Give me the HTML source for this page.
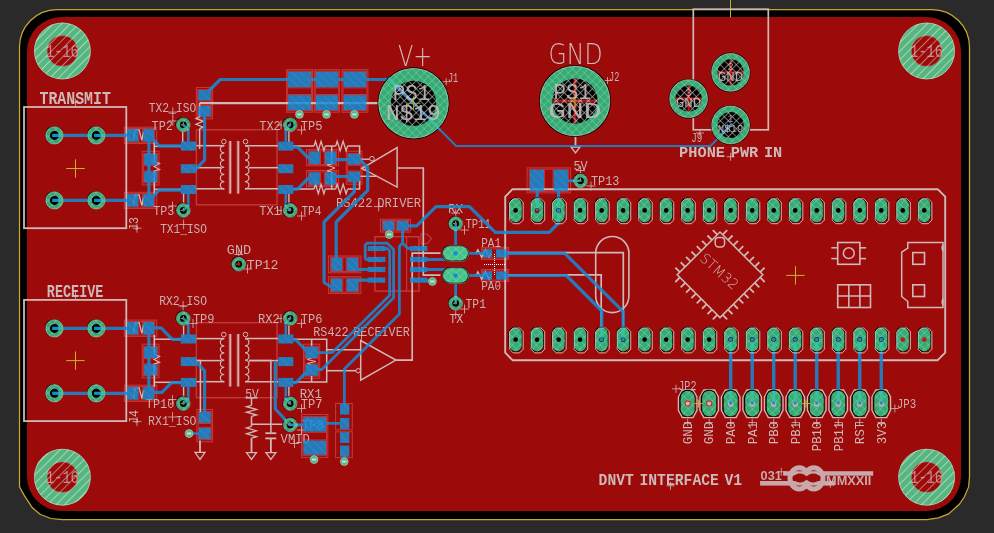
<!DOCTYPE html>
<html lang="en">
<head>
<meta charset="utf-8">
<title>DNVT Interface V1 - board view</title>
<style>
html,body{margin:0;padding:0;background:#2a2a2a;overflow:hidden}
body{width:994px;height:533px}
svg{display:block;will-change:transform}
text{white-space:pre}
</style>
</head>
<body>
<svg width="994" height="533" viewBox="0 0 994 533">
<defs>
<pattern id="hx" width="5.66" height="5.66" patternUnits="userSpaceOnUse" patternTransform="rotate(45)">
<path d="M0 0.5H5.66M0.5 0V5.66" stroke="#8fe0b8" stroke-width="0.8" fill="none" opacity="0.45"/>
</pattern>
<pattern id="hb" width="6" height="6" patternUnits="userSpaceOnUse" patternTransform="rotate(45)">
<path d="M0 0.5H6" stroke="#7cc4f0" stroke-width="0.8" fill="none" opacity="0.25"/>
</pattern>
<pattern id="hw" width="5.66" height="5.66" patternUnits="userSpaceOnUse" patternTransform="rotate(45)">
<path d="M0 0.5H5.66M0.5 0V5.66" stroke="#e4e8e6" stroke-width="0.8" fill="none" opacity="0.8"/>
</pattern>
<pattern id="hd" width="6" height="6" patternUnits="userSpaceOnUse" patternTransform="rotate(-45)">
<path d="M0 0.5H6" stroke="#e6efea" stroke-width="0.7" fill="none" opacity="0.8"/>
</pattern>
</defs>
<g id="base">
<rect x="0" y="0" width="994" height="533" fill="#2a2a2a" stroke="none" stroke-width="1"/>
<path d="M57 9.5H932A37.5 37.5 0 0 1 969.5 47V476.7L968.6 486.9L964.3 497L959.3 504.3L948.6 513.9L938.4 517.9L927 519.5H62.3L51.1 518.5L40.4 514.5L32.4 507.8L24.5 495.9L19.5 486.9V47A37.5 37.5 0 0 1 57 9.5Z" fill="#000" stroke="#c9a634" stroke-width="1.25"/>
<rect x="27" y="17" width="934" height="494" fill="#9c0a0a" stroke="none" stroke-width="1" rx="34.5"/>
<path d="M730.5 0 L730.5 17.5" fill="none" stroke="#b4b41e" stroke-width="1" stroke-linecap="butt" stroke-linejoin="miter"/>
</g>
<g id="lred">
<rect x="124.4" y="127.2" width="32.3" height="16.3" fill="none" stroke="#c03838" stroke-width="1.1"/>
<rect x="126.5" y="128.5" width="28.1" height="13.7" fill="none" stroke="#cf3030" stroke-width="1"/>
<path d="M138.9 129 L138.9 141.7" fill="none" stroke="#cf3030" stroke-width="1" stroke-linecap="butt" stroke-linejoin="miter"/>
<path d="M142.6 129 L142.6 141.7" fill="none" stroke="#cf3030" stroke-width="1" stroke-linecap="butt" stroke-linejoin="miter"/>
<rect x="124.4" y="192.3" width="32.3" height="16.2" fill="none" stroke="#c03838" stroke-width="1.1"/>
<rect x="126.5" y="193.6" width="28.1" height="13.6" fill="none" stroke="#cf3030" stroke-width="1"/>
<path d="M138.9 194.1 L138.9 206.7" fill="none" stroke="#cf3030" stroke-width="1" stroke-linecap="butt" stroke-linejoin="miter"/>
<path d="M142.6 194.1 L142.6 206.7" fill="none" stroke="#cf3030" stroke-width="1" stroke-linecap="butt" stroke-linejoin="miter"/>
<rect x="142.3" y="151.3" width="16.7" height="33.6" fill="none" stroke="#c03838" stroke-width="1.1"/>
<rect x="143.6" y="153.4" width="14.1" height="29.4" fill="none" stroke="#cf3030" stroke-width="1"/>
<path d="M144.1 165.8 L157.2 165.8" fill="none" stroke="#cf3030" stroke-width="1" stroke-linecap="butt" stroke-linejoin="miter"/>
<path d="M144.1 170.9 L157.2 170.9" fill="none" stroke="#cf3030" stroke-width="1" stroke-linecap="butt" stroke-linejoin="miter"/>
<rect x="196.4" y="129.8" width="80.6" height="75" fill="none" stroke="#c03838" stroke-width="1.4"/>
<rect x="124.4" y="320.1" width="32.3" height="16.3" fill="none" stroke="#c03838" stroke-width="1.1"/>
<rect x="126.5" y="321.4" width="28.1" height="13.7" fill="none" stroke="#cf3030" stroke-width="1"/>
<path d="M138.9 321.9 L138.9 334.6" fill="none" stroke="#cf3030" stroke-width="1" stroke-linecap="butt" stroke-linejoin="miter"/>
<path d="M142.6 321.9 L142.6 334.6" fill="none" stroke="#cf3030" stroke-width="1" stroke-linecap="butt" stroke-linejoin="miter"/>
<rect x="124.4" y="385.2" width="32.3" height="16.2" fill="none" stroke="#c03838" stroke-width="1.1"/>
<rect x="126.5" y="386.5" width="28.1" height="13.6" fill="none" stroke="#cf3030" stroke-width="1"/>
<path d="M138.9 387 L138.9 399.6" fill="none" stroke="#cf3030" stroke-width="1" stroke-linecap="butt" stroke-linejoin="miter"/>
<path d="M142.6 387 L142.6 399.6" fill="none" stroke="#cf3030" stroke-width="1" stroke-linecap="butt" stroke-linejoin="miter"/>
<rect x="142.3" y="344.2" width="16.7" height="33.6" fill="none" stroke="#c03838" stroke-width="1.1"/>
<rect x="143.6" y="346.3" width="14.1" height="29.4" fill="none" stroke="#cf3030" stroke-width="1"/>
<path d="M144.1 358.7 L157.2 358.7" fill="none" stroke="#cf3030" stroke-width="1" stroke-linecap="butt" stroke-linejoin="miter"/>
<path d="M144.1 363.8 L157.2 363.8" fill="none" stroke="#cf3030" stroke-width="1" stroke-linecap="butt" stroke-linejoin="miter"/>
<rect x="196.4" y="322.7" width="80.6" height="75" fill="none" stroke="#c03838" stroke-width="1.4"/>
<rect x="196.4" y="87.5" width="16.2" height="31.4" fill="none" stroke="#c03838" stroke-width="1.1"/>
<rect x="197.7" y="89.6" width="13.6" height="27.2" fill="none" stroke="#cf3030" stroke-width="1"/>
<path d="M198.2 101 L210.8 101" fill="none" stroke="#cf3030" stroke-width="1" stroke-linecap="butt" stroke-linejoin="miter"/>
<path d="M198.2 105.5 L210.8 105.5" fill="none" stroke="#cf3030" stroke-width="1" stroke-linecap="butt" stroke-linejoin="miter"/>
<rect x="286.6" y="69.7" width="25.9" height="42.5" fill="none" stroke="#c03838" stroke-width="1.1"/>
<rect x="287.6" y="71.2" width="23.9" height="39.5" fill="none" stroke="#cf3030" stroke-width="1"/>
<path d="M288.1 87.9 L311 87.9" fill="none" stroke="#cf3030" stroke-width="1" stroke-linecap="butt" stroke-linejoin="miter"/>
<path d="M288.1 94.5 L311 94.5" fill="none" stroke="#cf3030" stroke-width="1" stroke-linecap="butt" stroke-linejoin="miter"/>
<rect x="314.3" y="69.7" width="25.1" height="42.5" fill="none" stroke="#c03838" stroke-width="1.1"/>
<rect x="315.3" y="71.2" width="23.1" height="39.5" fill="none" stroke="#cf3030" stroke-width="1"/>
<path d="M315.8 87.9 L337.9 87.9" fill="none" stroke="#cf3030" stroke-width="1" stroke-linecap="butt" stroke-linejoin="miter"/>
<path d="M315.8 94.5 L337.9 94.5" fill="none" stroke="#cf3030" stroke-width="1" stroke-linecap="butt" stroke-linejoin="miter"/>
<rect x="342" y="69.7" width="25.9" height="42.5" fill="none" stroke="#c03838" stroke-width="1.1"/>
<rect x="343" y="71.2" width="23.9" height="39.5" fill="none" stroke="#cf3030" stroke-width="1"/>
<path d="M343.5 87.9 L366.4 87.9" fill="none" stroke="#cf3030" stroke-width="1" stroke-linecap="butt" stroke-linejoin="miter"/>
<path d="M343.5 94.5 L366.4 94.5" fill="none" stroke="#cf3030" stroke-width="1" stroke-linecap="butt" stroke-linejoin="miter"/>
<rect x="306.5" y="149.6" width="32.1" height="16.2" fill="none" stroke="#c03838" stroke-width="1.1"/>
<rect x="308.6" y="150.9" width="27.9" height="13.6" fill="none" stroke="#cf3030" stroke-width="1"/>
<path d="M320.5 151.4 L320.5 164" fill="none" stroke="#cf3030" stroke-width="1" stroke-linecap="butt" stroke-linejoin="miter"/>
<path d="M324.4 151.4 L324.4 164" fill="none" stroke="#cf3030" stroke-width="1" stroke-linecap="butt" stroke-linejoin="miter"/>
<rect x="306.5" y="170.5" width="32.1" height="16.1" fill="none" stroke="#c03838" stroke-width="1.1"/>
<rect x="308.6" y="171.8" width="27.9" height="13.5" fill="none" stroke="#cf3030" stroke-width="1"/>
<path d="M320.5 172.3 L320.5 184.8" fill="none" stroke="#cf3030" stroke-width="1" stroke-linecap="butt" stroke-linejoin="miter"/>
<path d="M324.4 172.3 L324.4 184.8" fill="none" stroke="#cf3030" stroke-width="1" stroke-linecap="butt" stroke-linejoin="miter"/>
<rect x="346.3" y="151.3" width="15.7" height="32.9" fill="none" stroke="#c03838" stroke-width="1.1"/>
<rect x="347.6" y="153.4" width="13.1" height="28.7" fill="none" stroke="#cf3030" stroke-width="1"/>
<path d="M348.1 165.3 L360.2 165.3" fill="none" stroke="#cf3030" stroke-width="1" stroke-linecap="butt" stroke-linejoin="miter"/>
<path d="M348.1 170.9 L360.2 170.9" fill="none" stroke="#cf3030" stroke-width="1" stroke-linecap="butt" stroke-linejoin="miter"/>
<rect x="374.9" y="236.7" width="44" height="54.4" fill="none" stroke="#c03838" stroke-width="1.5"/>
<path d="M406.6 236.7 L406.6 291.1" fill="none" stroke="#c03838" stroke-width="1.2" stroke-linecap="butt" stroke-linejoin="miter"/>
<polygon points="421,234 427,234 431.5,238.800 427,243.600 421,243.600" fill="none" stroke="#c03838" stroke-width="1.2"/>
<rect x="328.5" y="256" width="32.4" height="16.8" fill="none" stroke="#c03838" stroke-width="1.1"/>
<rect x="330.6" y="257.3" width="28.2" height="14.2" fill="none" stroke="#cf3030" stroke-width="1"/>
<path d="M342.8 257.8 L342.8 271" fill="none" stroke="#cf3030" stroke-width="1" stroke-linecap="butt" stroke-linejoin="miter"/>
<path d="M346.2 257.8 L346.2 271" fill="none" stroke="#cf3030" stroke-width="1" stroke-linecap="butt" stroke-linejoin="miter"/>
<rect x="328.5" y="276.7" width="32.4" height="16.7" fill="none" stroke="#c03838" stroke-width="1.1"/>
<rect x="330.6" y="278" width="28.2" height="14.1" fill="none" stroke="#cf3030" stroke-width="1"/>
<path d="M342.8 278.5 L342.8 291.6" fill="none" stroke="#cf3030" stroke-width="1" stroke-linecap="butt" stroke-linejoin="miter"/>
<path d="M346.2 278.5 L346.2 291.6" fill="none" stroke="#cf3030" stroke-width="1" stroke-linecap="butt" stroke-linejoin="miter"/>
<rect x="380.5" y="219.2" width="30.1" height="12.9" fill="none" stroke="#c03838" stroke-width="1.1"/>
<rect x="382.4" y="220.5" width="26.3" height="10.3" fill="none" stroke="#cf3030" stroke-width="1"/>
<path d="M394.8 221 L394.8 230.3" fill="none" stroke="#cf3030" stroke-width="1" stroke-linecap="butt" stroke-linejoin="miter"/>
<path d="M396.3 221 L396.3 230.3" fill="none" stroke="#cf3030" stroke-width="1" stroke-linecap="butt" stroke-linejoin="miter"/>
<rect x="481.4" y="247.4" width="27.2" height="12" fill="none" stroke="#c03838" stroke-width="1.1"/>
<rect x="482.5" y="248.8" width="25.2" height="9.2" fill="none" stroke="#cf3030" stroke-width="1"/>
<rect x="481.4" y="269.5" width="27.2" height="12" fill="none" stroke="#c03838" stroke-width="1.1"/>
<rect x="482.5" y="270.9" width="25.2" height="9.2" fill="none" stroke="#cf3030" stroke-width="1"/>
<rect x="527.1" y="167.9" width="43.4" height="25" fill="none" stroke="#c03838" stroke-width="1.1"/>
<rect x="529.2" y="169.2" width="39.2" height="22.4" fill="none" stroke="#cf3030" stroke-width="1"/>
<path d="M544.6 169.7 L544.6 191.1" fill="none" stroke="#cf3030" stroke-width="1" stroke-linecap="butt" stroke-linejoin="miter"/>
<path d="M553 169.7 L553 191.1" fill="none" stroke="#cf3030" stroke-width="1" stroke-linecap="butt" stroke-linejoin="miter"/>
<rect x="196.9" y="409.5" width="15.7" height="32.3" fill="none" stroke="#c03838" stroke-width="1.1"/>
<rect x="198.2" y="411.6" width="13.1" height="28.1" fill="none" stroke="#cf3030" stroke-width="1"/>
<path d="M198.7 423.5 L210.8 423.5" fill="none" stroke="#cf3030" stroke-width="1" stroke-linecap="butt" stroke-linejoin="miter"/>
<path d="M198.7 427.3 L210.8 427.3" fill="none" stroke="#cf3030" stroke-width="1" stroke-linecap="butt" stroke-linejoin="miter"/>
<rect x="303.5" y="344.2" width="16.2" height="34.1" fill="none" stroke="#c03838" stroke-width="1.1"/>
<rect x="304.8" y="346.3" width="13.6" height="29.9" fill="none" stroke="#cf3030" stroke-width="1"/>
<path d="M305.3 358.7 L317.9 358.7" fill="none" stroke="#cf3030" stroke-width="1" stroke-linecap="butt" stroke-linejoin="miter"/>
<path d="M305.3 363.8 L317.9 363.8" fill="none" stroke="#cf3030" stroke-width="1" stroke-linecap="butt" stroke-linejoin="miter"/>
<rect x="301.5" y="414.5" width="26.3" height="42.9" fill="none" stroke="#c03838" stroke-width="1.1"/>
<rect x="302.8" y="416.6" width="23.7" height="38.7" fill="none" stroke="#cf3030" stroke-width="1"/>
<path d="M303.3 432.3 L326 432.3" fill="none" stroke="#cf3030" stroke-width="1" stroke-linecap="butt" stroke-linejoin="miter"/>
<path d="M303.3 439.9 L326 439.9" fill="none" stroke="#cf3030" stroke-width="1" stroke-linecap="butt" stroke-linejoin="miter"/>
<rect x="335.6" y="403.5" width="16.7" height="26.3" fill="none" stroke="#c03838" stroke-width="1.1"/>
<rect x="335.6" y="431.8" width="16.7" height="25.8" fill="none" stroke="#c03838" stroke-width="1.1"/>
</g>
<g id="silk">
<polygon points="678.38,397 682.28,390 693.08,390 696.98,397 696.98,410.4 693.08,417.6 682.28,417.6 678.38,410.4" fill="none" stroke="#ceb9b9" stroke-width="1.3"/>
<polygon points="699.89,397 703.79,390 714.59,390 718.49,397 718.49,410.4 714.59,417.6 703.79,417.6 699.89,410.4" fill="none" stroke="#ceb9b9" stroke-width="1.3"/>
<polygon points="721.4,397 725.3,390 736.1,390 740,397 740,410.4 736.1,417.6 725.3,417.6 721.4,410.4" fill="none" stroke="#ceb9b9" stroke-width="1.3"/>
<polygon points="742.91,397 746.81,390 757.61,390 761.51,397 761.51,410.4 757.61,417.6 746.81,417.6 742.91,410.4" fill="none" stroke="#ceb9b9" stroke-width="1.3"/>
<polygon points="764.42,397 768.32,390 779.12,390 783.02,397 783.02,410.4 779.12,417.6 768.32,417.6 764.42,410.4" fill="none" stroke="#ceb9b9" stroke-width="1.3"/>
<polygon points="785.93,397 789.83,390 800.63,390 804.53,397 804.53,410.4 800.63,417.6 789.83,417.6 785.93,410.4" fill="none" stroke="#ceb9b9" stroke-width="1.3"/>
<polygon points="807.44,397 811.34,390 822.14,390 826.04,397 826.04,410.4 822.14,417.6 811.34,417.6 807.44,410.4" fill="none" stroke="#ceb9b9" stroke-width="1.3"/>
<polygon points="828.95,397 832.85,390 843.65,390 847.55,397 847.55,410.4 843.65,417.6 832.85,417.6 828.95,410.4" fill="none" stroke="#ceb9b9" stroke-width="1.3"/>
<polygon points="850.46,397 854.36,390 865.16,390 869.06,397 869.06,410.4 865.16,417.6 854.36,417.6 850.46,410.4" fill="none" stroke="#ceb9b9" stroke-width="1.3"/>
<polygon points="871.97,397 875.87,390 886.67,390 890.57,397 890.57,410.4 886.67,417.6 875.87,417.6 871.97,410.4" fill="none" stroke="#ceb9b9" stroke-width="1.3"/>
<rect x="24" y="107" width="102.3" height="121.2" fill="none" stroke="#ceb9b9" stroke-width="1.8"/>
<rect x="24" y="299.9" width="102.3" height="121.2" fill="none" stroke="#ceb9b9" stroke-width="1.8"/>
<rect x="693.3" y="9.2" width="75" height="120.6" fill="none" stroke="#ceb9b9" stroke-width="1.7"/>
<path d="M512.500 189.200H937.700L945.200 196.700V352.700L937.700 360.200H512.500L505.200 352.700V196.700Z" fill="none" stroke="#ceb9b9" stroke-width="1.9" stroke-linejoin="round"/>
<path d="M224.3 145.7 a3.95 3.59 0 0 0 0 7.18 a3.95 3.59 0 0 0 0 7.18 a3.95 3.59 0 0 0 0 7.18 a3.95 3.59 0 0 0 0 7.18 a3.95 3.59 0 0 0 0 7.18 a3.95 3.59 0 0 0 0 7.18" fill="none" stroke="#ceb9b9" stroke-width="1.2"/>
<path d="M245 145.7 a3.95 3.59 0 0 1 0 7.18 a3.95 3.59 0 0 1 0 7.18 a3.95 3.59 0 0 1 0 7.18 a3.95 3.59 0 0 1 0 7.18 a3.95 3.59 0 0 1 0 7.18 a3.95 3.59 0 0 1 0 7.18" fill="none" stroke="#ceb9b9" stroke-width="1.2"/>
<circle cx="223.8" cy="141.6" r="2.3" fill="none" stroke="#ceb9b9" stroke-width="1"/>
<circle cx="245.5" cy="141.6" r="2.3" fill="none" stroke="#ceb9b9" stroke-width="1"/>
<path d="M230.2 141 L230.2 193.6" fill="none" stroke="#b44" stroke-width="3.4" stroke-linecap="butt" stroke-linejoin="miter"/>
<path d="M230.2 141 L230.2 193.6" fill="none" stroke="#ceb9b9" stroke-width="1.5" stroke-linecap="butt" stroke-linejoin="miter"/>
<path d="M238.2 141 L238.2 193.6" fill="none" stroke="#b44" stroke-width="3.4" stroke-linecap="butt" stroke-linejoin="miter"/>
<path d="M238.2 141 L238.2 193.6" fill="none" stroke="#ceb9b9" stroke-width="1.5" stroke-linecap="butt" stroke-linejoin="miter"/>
<path d="M196.5 145.7 L224.3 145.7" fill="none" stroke="#ceb9b9" stroke-width="1.54" stroke-linecap="butt" stroke-linejoin="miter"/>
<path d="M245 145.7 L278 145.7" fill="none" stroke="#ceb9b9" stroke-width="1.54" stroke-linecap="butt" stroke-linejoin="miter"/>
<path d="M196.5 167.7 L221 167.7" fill="none" stroke="#ceb9b9" stroke-width="1.54" stroke-linecap="butt" stroke-linejoin="miter"/>
<path d="M249 167.7 L278 167.7" fill="none" stroke="#ceb9b9" stroke-width="1.54" stroke-linecap="butt" stroke-linejoin="miter"/>
<path d="M196.5 188.8 L224.3 188.8" fill="none" stroke="#ceb9b9" stroke-width="1.54" stroke-linecap="butt" stroke-linejoin="miter"/>
<path d="M245 188.8 L278 188.8" fill="none" stroke="#ceb9b9" stroke-width="1.54" stroke-linecap="butt" stroke-linejoin="miter"/>
<path d="M133.6 140.4 L135.2 129.8 L139.2 129.8 L141.8 140.4 L143.6 132.2" fill="none" stroke="#ceb9b9" stroke-width="1.3" stroke-linecap="butt" stroke-linejoin="miter"/>
<path d="M133.6 205.6 L135.2 195 L139.2 195 L141.8 205.6 L143.6 197.4" fill="none" stroke="#ceb9b9" stroke-width="1.3" stroke-linecap="butt" stroke-linejoin="miter"/>
<path d="M154.3 146.3 L181 146.3" fill="none" stroke="#ceb9b9" stroke-width="1.54" stroke-linecap="butt" stroke-linejoin="miter"/>
<path d="M154.3 189.4 L181 189.4" fill="none" stroke="#ceb9b9" stroke-width="1.54" stroke-linecap="butt" stroke-linejoin="miter"/>
<path d="M154.3 142 L154.3 161.8" fill="none" stroke="#ceb9b9" stroke-width="1.68" stroke-linecap="butt" stroke-linejoin="miter"/>
<path d="M154.3 161.8 L159.6 163.5 L154 166.5 L159.6 169.5 L154.3 171" fill="none" stroke="#ceb9b9" stroke-width="1.1" stroke-linecap="butt" stroke-linejoin="miter"/>
<path d="M154.3 171 L154.3 194" fill="none" stroke="#ceb9b9" stroke-width="1.68" stroke-linecap="butt" stroke-linejoin="miter"/>
<path d="M224.3 338.6 a3.95 3.59 0 0 0 0 7.18 a3.95 3.59 0 0 0 0 7.18 a3.95 3.59 0 0 0 0 7.18 a3.95 3.59 0 0 0 0 7.18 a3.95 3.59 0 0 0 0 7.18 a3.95 3.59 0 0 0 0 7.18" fill="none" stroke="#ceb9b9" stroke-width="1.2"/>
<path d="M245 338.6 a3.95 3.59 0 0 1 0 7.18 a3.95 3.59 0 0 1 0 7.18 a3.95 3.59 0 0 1 0 7.18 a3.95 3.59 0 0 1 0 7.18 a3.95 3.59 0 0 1 0 7.18 a3.95 3.59 0 0 1 0 7.18" fill="none" stroke="#ceb9b9" stroke-width="1.2"/>
<circle cx="223.8" cy="334.5" r="2.3" fill="none" stroke="#ceb9b9" stroke-width="1"/>
<circle cx="245.5" cy="334.5" r="2.3" fill="none" stroke="#ceb9b9" stroke-width="1"/>
<path d="M230.2 333.9 L230.2 386.5" fill="none" stroke="#b44" stroke-width="3.4" stroke-linecap="butt" stroke-linejoin="miter"/>
<path d="M230.2 333.9 L230.2 386.5" fill="none" stroke="#ceb9b9" stroke-width="1.5" stroke-linecap="butt" stroke-linejoin="miter"/>
<path d="M238.2 333.9 L238.2 386.5" fill="none" stroke="#b44" stroke-width="3.4" stroke-linecap="butt" stroke-linejoin="miter"/>
<path d="M238.2 333.9 L238.2 386.5" fill="none" stroke="#ceb9b9" stroke-width="1.5" stroke-linecap="butt" stroke-linejoin="miter"/>
<path d="M196.5 338.6 L224.3 338.6" fill="none" stroke="#ceb9b9" stroke-width="1.54" stroke-linecap="butt" stroke-linejoin="miter"/>
<path d="M245 338.6 L278 338.6" fill="none" stroke="#ceb9b9" stroke-width="1.54" stroke-linecap="butt" stroke-linejoin="miter"/>
<path d="M196.5 360.6 L221 360.6" fill="none" stroke="#ceb9b9" stroke-width="1.54" stroke-linecap="butt" stroke-linejoin="miter"/>
<path d="M249 360.6 L278 360.6" fill="none" stroke="#ceb9b9" stroke-width="1.54" stroke-linecap="butt" stroke-linejoin="miter"/>
<path d="M196.5 381.7 L224.3 381.7" fill="none" stroke="#ceb9b9" stroke-width="1.54" stroke-linecap="butt" stroke-linejoin="miter"/>
<path d="M245 381.7 L278 381.7" fill="none" stroke="#ceb9b9" stroke-width="1.54" stroke-linecap="butt" stroke-linejoin="miter"/>
<path d="M133.6 333.3 L135.2 322.7 L139.2 322.7 L141.8 333.3 L143.6 325.1" fill="none" stroke="#ceb9b9" stroke-width="1.3" stroke-linecap="butt" stroke-linejoin="miter"/>
<path d="M133.6 398.5 L135.2 387.9 L139.2 387.9 L141.8 398.5 L143.6 390.3" fill="none" stroke="#ceb9b9" stroke-width="1.3" stroke-linecap="butt" stroke-linejoin="miter"/>
<path d="M154.3 339.2 L181 339.2" fill="none" stroke="#ceb9b9" stroke-width="1.54" stroke-linecap="butt" stroke-linejoin="miter"/>
<path d="M154.3 382.3 L181 382.3" fill="none" stroke="#ceb9b9" stroke-width="1.54" stroke-linecap="butt" stroke-linejoin="miter"/>
<path d="M154.3 334.9 L154.3 354.7" fill="none" stroke="#ceb9b9" stroke-width="1.68" stroke-linecap="butt" stroke-linejoin="miter"/>
<path d="M154.3 354.7 L159.6 356.4 L154 359.4 L159.6 362.4 L154.3 363.9" fill="none" stroke="#ceb9b9" stroke-width="1.1" stroke-linecap="butt" stroke-linejoin="miter"/>
<path d="M154.3 363.9 L154.3 386.9" fill="none" stroke="#ceb9b9" stroke-width="1.68" stroke-linecap="butt" stroke-linejoin="miter"/>
<path d="M199.6 103.1 L381 103.1" fill="none" stroke="#ceb9b9" stroke-width="2.1" stroke-linecap="butt" stroke-linejoin="miter"/>
<path d="M199.6 103 L199.6 117" fill="none" stroke="#ceb9b9" stroke-width="1.54" stroke-linecap="butt" stroke-linejoin="miter"/>
<path d="M199.6 117 L196 118.45 L203.2 121.35 L196 124.25 L203.2 127.15 L199.6 128.6" fill="none" stroke="#ceb9b9" stroke-width="1.3" stroke-linecap="butt" stroke-linejoin="miter"/>
<path d="M199.6 128.6 L199.6 149" fill="none" stroke="#ceb9b9" stroke-width="1.54" stroke-linecap="butt" stroke-linejoin="miter"/>
<path d="M182.7 132 L182.7 142" fill="none" stroke="#ceb9b9" stroke-width="1.4" stroke-linecap="butt" stroke-linejoin="miter"/>
<path d="M183.6 194 L183.6 204" fill="none" stroke="#ceb9b9" stroke-width="1.4" stroke-linecap="butt" stroke-linejoin="miter"/>
<path d="M288.9 130 L288.9 142" fill="none" stroke="#ceb9b9" stroke-width="1.4" stroke-linecap="butt" stroke-linejoin="miter"/>
<path d="M288.9 194 L288.9 204" fill="none" stroke="#ceb9b9" stroke-width="1.4" stroke-linecap="butt" stroke-linejoin="miter"/>
<path d="M293 146 L314.1 146" fill="none" stroke="#ceb9b9" stroke-width="1.54" stroke-linecap="butt" stroke-linejoin="miter"/>
<path d="M314.1 146 L315.5 141.2 L318.3 150.8 L321.1 141.2 L323.9 150.8 L325.3 146" fill="none" stroke="#ceb9b9" stroke-width="1.3" stroke-linecap="butt" stroke-linejoin="miter"/>
<path d="M325.3 146 L335.7 146" fill="none" stroke="#ceb9b9" stroke-width="1.54" stroke-linecap="butt" stroke-linejoin="miter"/>
<path d="M335.7 146 L337.19 141.2 L340.16 150.8 L343.14 141.2 L346.11 150.8 L347.6 146" fill="none" stroke="#ceb9b9" stroke-width="1.3" stroke-linecap="butt" stroke-linejoin="miter"/>
<path d="M347.6 146 L359.6 146 L359.6 154" fill="none" stroke="#ceb9b9" stroke-width="1.54" stroke-linecap="butt" stroke-linejoin="miter"/>
<path d="M293 189 L314.1 189" fill="none" stroke="#ceb9b9" stroke-width="1.54" stroke-linecap="butt" stroke-linejoin="miter"/>
<path d="M314.1 189 L315.5 184.2 L318.3 193.8 L321.1 184.2 L323.9 193.8 L325.3 189" fill="none" stroke="#ceb9b9" stroke-width="1.3" stroke-linecap="butt" stroke-linejoin="miter"/>
<path d="M325.3 189 L335.7 189" fill="none" stroke="#ceb9b9" stroke-width="1.54" stroke-linecap="butt" stroke-linejoin="miter"/>
<path d="M335.7 189 L337.19 184.2 L340.16 193.8 L343.14 184.2 L346.11 193.8 L347.6 189" fill="none" stroke="#ceb9b9" stroke-width="1.3" stroke-linecap="butt" stroke-linejoin="miter"/>
<path d="M347.6 189 L359.6 189 L359.6 181" fill="none" stroke="#ceb9b9" stroke-width="1.54" stroke-linecap="butt" stroke-linejoin="miter"/>
<path d="M331.7 146 L331.7 164" fill="none" stroke="#ceb9b9" stroke-width="1.54" stroke-linecap="butt" stroke-linejoin="miter"/>
<path d="M331.7 164 L327 165 L335 168 L327 171 L331.7 172" fill="none" stroke="#ceb9b9" stroke-width="1" stroke-linecap="butt" stroke-linejoin="miter"/>
<path d="M331.7 172 L331.7 189" fill="none" stroke="#ceb9b9" stroke-width="1.54" stroke-linecap="butt" stroke-linejoin="miter"/>
<polygon points="362,168.3 397.1,147.5 397.1,187.1" fill="none" stroke="#ceb9b9" stroke-width="1.5"/>
<circle cx="372" cy="158.7" r="2.3" fill="none" stroke="#ceb9b9" stroke-width="1"/>
<circle cx="363.8" cy="168.3" r="1.8" fill="none" stroke="#ceb9b9" stroke-width="0.9"/>
<path d="M360.5 159.2 L369.7 159.2" fill="none" stroke="#ceb9b9" stroke-width="1.4" stroke-linecap="butt" stroke-linejoin="miter"/>
<path d="M360.5 176.3 L376.3 176.3" fill="none" stroke="#ceb9b9" stroke-width="1.4" stroke-linecap="butt" stroke-linejoin="miter"/>
<path d="M397.1 168 L423.3 168 L423.3 275.2 L440.5 275.2" fill="none" stroke="#ceb9b9" stroke-width="1.68" stroke-linecap="butt" stroke-linejoin="miter"/>
<path d="M293 339.2 L326.7 339.2 L326.7 382 L293 382" fill="none" stroke="#ceb9b9" stroke-width="1.54" stroke-linecap="butt" stroke-linejoin="miter"/>
<path d="M311.6 339.2 L311.6 346" fill="none" stroke="#ceb9b9" stroke-width="1.54" stroke-linecap="butt" stroke-linejoin="miter"/>
<path d="M311.6 376 L311.6 382" fill="none" stroke="#ceb9b9" stroke-width="1.54" stroke-linecap="butt" stroke-linejoin="miter"/>
<path d="M311.6 358 L307 359.5 L316 361.5 L307 363.5 L311.6 365" fill="none" stroke="#ceb9b9" stroke-width="1" stroke-linecap="butt" stroke-linejoin="miter"/>
<path d="M326.7 349.8 L360.7 349.8" fill="none" stroke="#ceb9b9" stroke-width="1.54" stroke-linecap="butt" stroke-linejoin="miter"/>
<path d="M326.7 370.7 L356 370.7" fill="none" stroke="#ceb9b9" stroke-width="1.54" stroke-linecap="butt" stroke-linejoin="miter"/>
<polygon points="360.7,340.5 360.7,380.2 395.9,360.1" fill="none" stroke="#ceb9b9" stroke-width="1.5"/>
<circle cx="358.2" cy="370.7" r="2.2" fill="none" stroke="#ceb9b9" stroke-width="1"/>
<path d="M395.9 360.1 L412.2 360.1 L412.2 253.1 L440.5 253.1" fill="none" stroke="#ceb9b9" stroke-width="1.68" stroke-linecap="butt" stroke-linejoin="miter"/>
<path d="M183.6 322 L183.6 335" fill="none" stroke="#ceb9b9" stroke-width="1.4" stroke-linecap="butt" stroke-linejoin="miter"/>
<path d="M183.6 387 L183.6 398" fill="none" stroke="#ceb9b9" stroke-width="1.4" stroke-linecap="butt" stroke-linejoin="miter"/>
<path d="M288.9 323 L288.9 335" fill="none" stroke="#ceb9b9" stroke-width="1.4" stroke-linecap="butt" stroke-linejoin="miter"/>
<path d="M288.9 387 L288.9 398" fill="none" stroke="#ceb9b9" stroke-width="1.4" stroke-linecap="butt" stroke-linejoin="miter"/>
<path d="M196.5 360.6 L200.4 360.6 L200.4 412" fill="none" stroke="#ceb9b9" stroke-width="1.54" stroke-linecap="butt" stroke-linejoin="miter"/>
<path d="M200 440.5 L200 452.3" fill="none" stroke="#ceb9b9" stroke-width="1.82" stroke-linecap="butt" stroke-linejoin="miter"/>
<polygon points="195,452.3 205,452.3 200,459.3" fill="none" stroke="#ceb9b9" stroke-width="1.3"/>
<path d="M249 360.6 L270.9 360.6 L270.9 424.2" fill="none" stroke="#ceb9b9" stroke-width="1.54" stroke-linecap="butt" stroke-linejoin="miter"/>
<path d="M245.5 397.8 L257.5 397.8" fill="none" stroke="#ceb9b9" stroke-width="1.54" stroke-linecap="butt" stroke-linejoin="miter"/>
<path d="M251.5 397.8 L251.5 405.3" fill="none" stroke="#ceb9b9" stroke-width="1.54" stroke-linecap="butt" stroke-linejoin="miter"/>
<path d="M251.5 405.3 L246.5 406.68 L256.5 409.43 L246.5 412.18 L256.5 414.93 L251.5 416.3" fill="none" stroke="#ceb9b9" stroke-width="1.3" stroke-linecap="butt" stroke-linejoin="miter"/>
<path d="M251.5 416.3 L251.5 426.4" fill="none" stroke="#ceb9b9" stroke-width="1.54" stroke-linecap="butt" stroke-linejoin="miter"/>
<path d="M251.5 424.2 L284 424.2" fill="none" stroke="#ceb9b9" stroke-width="1.54" stroke-linecap="butt" stroke-linejoin="miter"/>
<path d="M251.5 426.4 L246.5 427.88 L256.5 430.82 L246.5 433.77 L256.5 436.72 L251.5 438.2" fill="none" stroke="#ceb9b9" stroke-width="1.3" stroke-linecap="butt" stroke-linejoin="miter"/>
<path d="M251.5 438.2 L251.5 452.6" fill="none" stroke="#ceb9b9" stroke-width="1.82" stroke-linecap="butt" stroke-linejoin="miter"/>
<polygon points="246.5,452.6 256.5,452.6 251.5,459.4" fill="none" stroke="#ceb9b9" stroke-width="1.3"/>
<path d="M270.9 424.2 L270.9 432.6" fill="none" stroke="#ceb9b9" stroke-width="1.54" stroke-linecap="butt" stroke-linejoin="miter"/>
<path d="M265.3 433.2 L276.3 433.2" fill="none" stroke="#ceb9b9" stroke-width="1.82" stroke-linecap="butt" stroke-linejoin="miter"/>
<path d="M265.3 438.4 L276.3 438.4" fill="none" stroke="#ceb9b9" stroke-width="1.82" stroke-linecap="butt" stroke-linejoin="miter"/>
<path d="M270.9 439 L270.9 452.6" fill="none" stroke="#ceb9b9" stroke-width="1.82" stroke-linecap="butt" stroke-linejoin="miter"/>
<polygon points="265.9,452.6 275.9,452.6 270.9,459.4" fill="none" stroke="#ceb9b9" stroke-width="1.3"/>
<path d="M575.5 137 L575.5 147" fill="none" stroke="#ceb9b9" stroke-width="1.82" stroke-linecap="butt" stroke-linejoin="miter"/>
<polygon points="570.9,147 580.1,147 575.5,153" fill="none" stroke="#ceb9b9" stroke-width="1.3"/>
<path d="M476 253.4 L477.88 249.6 L481.62 257.2 L485.38 249.6 L489.12 257.2 L491 253.4" fill="none" stroke="#ceb9b9" stroke-width="1.3" stroke-linecap="butt" stroke-linejoin="miter"/>
<path d="M476 275.5 L477.88 271.7 L481.62 279.3 L485.38 271.7 L489.12 279.3 L491 275.5" fill="none" stroke="#ceb9b9" stroke-width="1.3" stroke-linecap="butt" stroke-linejoin="miter"/>
<rect x="595.7" y="236.5" width="33.2" height="76.1" fill="none" stroke="#ceb9b9" stroke-width="1.6" rx="16.6"/>
<path d="M508 252.7 L623.3 252.7 L623.3 327" fill="none" stroke="#ceb9b9" stroke-width="1.68" stroke-linecap="butt" stroke-linejoin="miter"/>
<path d="M508 274.8 L601.2 274.8 L601.2 327" fill="none" stroke="#ceb9b9" stroke-width="1.68" stroke-linecap="butt" stroke-linejoin="miter"/>
<polygon points="720,232 762.8,274.8 720,317.6 677.2,274.8" fill="none" stroke="#ceb9b9" stroke-width="1.5"/>
<path d="M722.67 234.68 L727.2 230.15" fill="none" stroke="#ceb9b9" stroke-width="1.8" stroke-linecap="butt" stroke-linejoin="miter"/>
<path d="M728.02 240.03 L732.55 235.5" fill="none" stroke="#ceb9b9" stroke-width="1.8" stroke-linecap="butt" stroke-linejoin="miter"/>
<path d="M733.38 245.38 L737.9 240.85" fill="none" stroke="#ceb9b9" stroke-width="1.8" stroke-linecap="butt" stroke-linejoin="miter"/>
<path d="M738.73 250.72 L743.25 246.2" fill="none" stroke="#ceb9b9" stroke-width="1.8" stroke-linecap="butt" stroke-linejoin="miter"/>
<path d="M744.07 256.07 L748.6 251.55" fill="none" stroke="#ceb9b9" stroke-width="1.8" stroke-linecap="butt" stroke-linejoin="miter"/>
<path d="M749.42 261.43 L753.95 256.9" fill="none" stroke="#ceb9b9" stroke-width="1.8" stroke-linecap="butt" stroke-linejoin="miter"/>
<path d="M754.77 266.77 L759.3 262.25" fill="none" stroke="#ceb9b9" stroke-width="1.8" stroke-linecap="butt" stroke-linejoin="miter"/>
<path d="M760.12 272.12 L764.65 267.6" fill="none" stroke="#ceb9b9" stroke-width="1.8" stroke-linecap="butt" stroke-linejoin="miter"/>
<path d="M760.12 277.48 L764.65 282" fill="none" stroke="#ceb9b9" stroke-width="1.8" stroke-linecap="butt" stroke-linejoin="miter"/>
<path d="M754.77 282.82 L759.3 287.35" fill="none" stroke="#ceb9b9" stroke-width="1.8" stroke-linecap="butt" stroke-linejoin="miter"/>
<path d="M749.42 288.18 L753.95 292.7" fill="none" stroke="#ceb9b9" stroke-width="1.8" stroke-linecap="butt" stroke-linejoin="miter"/>
<path d="M744.07 293.53 L748.6 298.05" fill="none" stroke="#ceb9b9" stroke-width="1.8" stroke-linecap="butt" stroke-linejoin="miter"/>
<path d="M738.73 298.88 L743.25 303.4" fill="none" stroke="#ceb9b9" stroke-width="1.8" stroke-linecap="butt" stroke-linejoin="miter"/>
<path d="M733.38 304.23 L737.9 308.75" fill="none" stroke="#ceb9b9" stroke-width="1.8" stroke-linecap="butt" stroke-linejoin="miter"/>
<path d="M728.02 309.58 L732.55 314.1" fill="none" stroke="#ceb9b9" stroke-width="1.8" stroke-linecap="butt" stroke-linejoin="miter"/>
<path d="M722.67 314.93 L727.2 319.45" fill="none" stroke="#ceb9b9" stroke-width="1.8" stroke-linecap="butt" stroke-linejoin="miter"/>
<path d="M717.33 314.93 L712.8 319.45" fill="none" stroke="#ceb9b9" stroke-width="1.8" stroke-linecap="butt" stroke-linejoin="miter"/>
<path d="M711.98 309.58 L707.45 314.1" fill="none" stroke="#ceb9b9" stroke-width="1.8" stroke-linecap="butt" stroke-linejoin="miter"/>
<path d="M706.62 304.23 L702.1 308.75" fill="none" stroke="#ceb9b9" stroke-width="1.8" stroke-linecap="butt" stroke-linejoin="miter"/>
<path d="M701.27 298.88 L696.75 303.4" fill="none" stroke="#ceb9b9" stroke-width="1.8" stroke-linecap="butt" stroke-linejoin="miter"/>
<path d="M695.93 293.53 L691.4 298.05" fill="none" stroke="#ceb9b9" stroke-width="1.8" stroke-linecap="butt" stroke-linejoin="miter"/>
<path d="M690.58 288.18 L686.05 292.7" fill="none" stroke="#ceb9b9" stroke-width="1.8" stroke-linecap="butt" stroke-linejoin="miter"/>
<path d="M685.23 282.83 L680.7 287.35" fill="none" stroke="#ceb9b9" stroke-width="1.8" stroke-linecap="butt" stroke-linejoin="miter"/>
<path d="M679.88 277.48 L675.35 282" fill="none" stroke="#ceb9b9" stroke-width="1.8" stroke-linecap="butt" stroke-linejoin="miter"/>
<path d="M679.88 272.12 L675.35 267.6" fill="none" stroke="#ceb9b9" stroke-width="1.8" stroke-linecap="butt" stroke-linejoin="miter"/>
<path d="M685.23 266.78 L680.7 262.25" fill="none" stroke="#ceb9b9" stroke-width="1.8" stroke-linecap="butt" stroke-linejoin="miter"/>
<path d="M690.58 261.43 L686.05 256.9" fill="none" stroke="#ceb9b9" stroke-width="1.8" stroke-linecap="butt" stroke-linejoin="miter"/>
<path d="M695.93 256.07 L691.4 251.55" fill="none" stroke="#ceb9b9" stroke-width="1.8" stroke-linecap="butt" stroke-linejoin="miter"/>
<path d="M701.27 250.72 L696.75 246.2" fill="none" stroke="#ceb9b9" stroke-width="1.8" stroke-linecap="butt" stroke-linejoin="miter"/>
<path d="M706.62 245.38 L702.1 240.85" fill="none" stroke="#ceb9b9" stroke-width="1.8" stroke-linecap="butt" stroke-linejoin="miter"/>
<path d="M711.98 240.03 L707.45 235.5" fill="none" stroke="#ceb9b9" stroke-width="1.8" stroke-linecap="butt" stroke-linejoin="miter"/>
<path d="M717.33 234.68 L712.8 230.15" fill="none" stroke="#ceb9b9" stroke-width="1.8" stroke-linecap="butt" stroke-linejoin="miter"/>
<rect x="715.2" y="237.4" width="9.4" height="9.6" fill="none" stroke="#ceb9b9" stroke-width="1.5" rx="3.4"/>
<rect x="837.7" y="242.5" width="22.2" height="21.8" fill="none" stroke="#ceb9b9" stroke-width="1.6"/>
<circle cx="848.8" cy="253.2" r="5.4" fill="none" stroke="#ceb9b9" stroke-width="1.5"/>
<path d="M831.3 247.8 L837.7 247.8" fill="none" stroke="#ceb9b9" stroke-width="1.54" stroke-linecap="butt" stroke-linejoin="miter"/>
<path d="M859.9 247.8 L866.1 247.8" fill="none" stroke="#ceb9b9" stroke-width="1.54" stroke-linecap="butt" stroke-linejoin="miter"/>
<path d="M831.3 258.6 L837.7 258.6" fill="none" stroke="#ceb9b9" stroke-width="1.54" stroke-linecap="butt" stroke-linejoin="miter"/>
<path d="M859.9 258.6 L866.1 258.6" fill="none" stroke="#ceb9b9" stroke-width="1.54" stroke-linecap="butt" stroke-linejoin="miter"/>
<rect x="837.7" y="284.8" width="32.8" height="22.7" fill="none" stroke="#ceb9b9" stroke-width="1.6"/>
<path d="M848.8 284.8 L848.8 307.5" fill="none" stroke="#ceb9b9" stroke-width="1.54" stroke-linecap="butt" stroke-linejoin="miter"/>
<path d="M859.9 284.8 L859.9 307.5" fill="none" stroke="#ceb9b9" stroke-width="1.54" stroke-linecap="butt" stroke-linejoin="miter"/>
<path d="M837.7 296.1 L870.5 296.1" fill="none" stroke="#ceb9b9" stroke-width="1.54" stroke-linecap="butt" stroke-linejoin="miter"/>
<polygon points="907.8,242.5 943,242.5 943,307.5 907.8,307.5 907.8,301.5 901.7,296.5 901.7,252.2 907.8,248.2" fill="none" stroke="#ceb9b9" stroke-width="1.5"/>
<rect x="912.8" y="252.6" width="11.7" height="11.7" fill="none" stroke="#ceb9b9" stroke-width="1.6"/>
<rect x="912.8" y="284.8" width="11.7" height="11.7" fill="none" stroke="#ceb9b9" stroke-width="1.6"/>
<path d="M943.6 244.5a2.2 3.4 0 0 0 0 6.8M943.6 298.6a2.2 3.4 0 0 0 0 6.8" fill="#ceb9b9" stroke="none"/>
<rect x="783.1" y="471.2" width="90.1" height="4.5" fill="#c7a9ab" stroke="none" stroke-width="1"/>
<rect x="760.1" y="481" width="74.4" height="4.6" fill="#c7a9ab" stroke="none" stroke-width="1"/>
<ellipse cx="799.2" cy="478.3" rx="9.2" ry="10.6" fill="none" stroke="#c7a9ab" stroke-width="5"/>
<ellipse cx="813.8" cy="478.3" rx="9.2" ry="10.6" fill="none" stroke="#c7a9ab" stroke-width="5"/>
<path d="M792.5 478c2-4 7-5.6 11.5-3.4l2.6 1.6 2.6-1.6c4.5-2.2 9.5-0.600 11.500 3.4c-2 4-7 5.6-11.500 3.4l-2.600-1.600-2.600 1.600c-4.500 2.200-9.500 0.600-11.500-3.400z" fill="#9c0a0a"/>
</g>
<g id="stext">
<text x="39.5" y="103.8" font-family='"Liberation Mono", monospace' font-size="17.6" font-weight="bold" fill="#ceb9b9" text-anchor="start" textLength="71.4" lengthAdjust="spacingAndGlyphs">TRANSMIT</text>
<text x="46.8" y="297.2" font-family='"Liberation Mono", monospace' font-size="17.6" font-weight="bold" fill="#ceb9b9" text-anchor="start" textLength="56.6" lengthAdjust="spacingAndGlyphs">RECEIVE</text>
<text x="679.1" y="157.1" font-family='"Liberation Mono", monospace' font-size="15.2" font-weight="bold" fill="#ceb9b9" text-anchor="start" textLength="103.2" lengthAdjust="spacingAndGlyphs" word-spacing="-3.5">PHONE PWR IN</text>
<text x="598.6" y="485" font-family='"Liberation Mono", monospace' font-size="15.6" font-weight="bold" fill="#ceb9b9" text-anchor="start" textLength="143.5" lengthAdjust="spacingAndGlyphs" word-spacing="-3.5">DNVT INTERFACE V1</text>
<text x="398" y="65.9" font-family='"DejaVu Sans Light", "DejaVu Sans", "Liberation Sans", sans-serif' font-size="28.6" font-weight="normal" fill="#ceb9b9" text-anchor="start" textLength="34.2" lengthAdjust="spacingAndGlyphs">V+</text>
<text x="548.6" y="64.2" font-family='"DejaVu Sans Light", "DejaVu Sans", "Liberation Sans", sans-serif' font-size="28.2" font-weight="normal" fill="#ceb9b9" text-anchor="start" textLength="54" lengthAdjust="spacingAndGlyphs">GND</text>
<text x="447.9" y="81.7" font-family='"Liberation Mono", monospace' font-size="12.2" font-weight="normal" fill="#c9b1b1" text-anchor="start" textLength="10.4" lengthAdjust="spacingAndGlyphs">J1</text>
<path d="M442.7 81.7 L449.7 81.7" fill="none" stroke="#ceb9b9" stroke-width="0.8" stroke-linecap="butt" stroke-linejoin="miter"/>
<path d="M446.2 78.2 L446.2 85.2" fill="none" stroke="#ceb9b9" stroke-width="0.8" stroke-linecap="butt" stroke-linejoin="miter"/>
<text x="609.1" y="80.5" font-family='"Liberation Mono", monospace' font-size="12.2" font-weight="normal" fill="#c9b1b1" text-anchor="start" textLength="10.4" lengthAdjust="spacingAndGlyphs">J2</text>
<path d="M604 80.5 L611 80.5" fill="none" stroke="#ceb9b9" stroke-width="0.8" stroke-linecap="butt" stroke-linejoin="miter"/>
<path d="M607.5 77 L607.5 84" fill="none" stroke="#ceb9b9" stroke-width="0.8" stroke-linecap="butt" stroke-linejoin="miter"/>
<text x="691.2" y="141.5" font-family='"Liberation Mono", monospace' font-size="12.2" font-weight="normal" fill="#c9b1b1" text-anchor="start" textLength="11.1" lengthAdjust="spacingAndGlyphs">J9</text>
<path d="M696 133 L704 133" fill="none" stroke="#ceb9b9" stroke-width="0.8" stroke-linecap="butt" stroke-linejoin="miter"/>
<path d="M700 129 L700 137" fill="none" stroke="#ceb9b9" stroke-width="0.8" stroke-linecap="butt" stroke-linejoin="miter"/>
<text x="148.8" y="111.8" font-family='"Liberation Mono", monospace' font-size="12.2" font-weight="normal" fill="#c9b1b1" text-anchor="start" textLength="47.4" lengthAdjust="spacingAndGlyphs">TX2_ISO</text>
<path d="M168 112.1 L177.6 112.1" fill="none" stroke="#ceb9b9" stroke-width="0.8" stroke-linecap="butt" stroke-linejoin="miter"/>
<path d="M172.8 107.3 L172.8 116.9" fill="none" stroke="#ceb9b9" stroke-width="0.8" stroke-linecap="butt" stroke-linejoin="miter"/>
<text x="151.6" y="129.6" font-family='"Liberation Mono", monospace' font-size="12.2" font-weight="normal" fill="#c9b1b1" text-anchor="start" textLength="21.3" lengthAdjust="spacingAndGlyphs">TP2</text>
<path d="M168.3 121 L177.3 121" fill="none" stroke="#ceb9b9" stroke-width="0.8" stroke-linecap="butt" stroke-linejoin="miter"/>
<path d="M172.8 116.5 L172.8 125.5" fill="none" stroke="#ceb9b9" stroke-width="0.8" stroke-linecap="butt" stroke-linejoin="miter"/>
<text x="259.2" y="129.6" font-family='"Liberation Mono", monospace' font-size="12.2" font-weight="normal" fill="#c9b1b1" text-anchor="start" textLength="21.6" lengthAdjust="spacingAndGlyphs">TX2</text>
<path d="M276.5 125 L285.5 125" fill="none" stroke="#ceb9b9" stroke-width="0.8" stroke-linecap="butt" stroke-linejoin="miter"/>
<path d="M281 120.5 L281 129.5" fill="none" stroke="#ceb9b9" stroke-width="0.8" stroke-linecap="butt" stroke-linejoin="miter"/>
<text x="300.8" y="129.6" font-family='"Liberation Mono", monospace' font-size="12.2" font-weight="normal" fill="#c9b1b1" text-anchor="start" textLength="21.7" lengthAdjust="spacingAndGlyphs">TP5</text>
<path d="M297 130 L306 130" fill="none" stroke="#ceb9b9" stroke-width="0.8" stroke-linecap="butt" stroke-linejoin="miter"/>
<path d="M301.5 125.5 L301.5 134.5" fill="none" stroke="#ceb9b9" stroke-width="0.8" stroke-linecap="butt" stroke-linejoin="miter"/>
<text x="153.2" y="215" font-family='"Liberation Mono", monospace' font-size="12.2" font-weight="normal" fill="#c9b1b1" text-anchor="start" textLength="21.1" lengthAdjust="spacingAndGlyphs">TP3</text>
<path d="M168 206 L177 206" fill="none" stroke="#ceb9b9" stroke-width="0.8" stroke-linecap="butt" stroke-linejoin="miter"/>
<path d="M172.5 201.5 L172.5 210.5" fill="none" stroke="#ceb9b9" stroke-width="0.8" stroke-linecap="butt" stroke-linejoin="miter"/>
<text x="160.2" y="233.1" font-family='"Liberation Mono", monospace' font-size="12.2" font-weight="normal" fill="#c9b1b1" text-anchor="start" textLength="46.8" lengthAdjust="spacingAndGlyphs">TX1_ISO</text>
<path d="M178.8 224.5 L188.4 224.5" fill="none" stroke="#ceb9b9" stroke-width="0.8" stroke-linecap="butt" stroke-linejoin="miter"/>
<path d="M183.6 219.7 L183.6 229.3" fill="none" stroke="#ceb9b9" stroke-width="0.8" stroke-linecap="butt" stroke-linejoin="miter"/>
<text x="259.2" y="215" font-family='"Liberation Mono", monospace' font-size="12.2" font-weight="normal" fill="#c9b1b1" text-anchor="start" textLength="21.6" lengthAdjust="spacingAndGlyphs">TX1</text>
<path d="M276.5 210.5 L285.5 210.5" fill="none" stroke="#ceb9b9" stroke-width="0.8" stroke-linecap="butt" stroke-linejoin="miter"/>
<path d="M281 206 L281 215" fill="none" stroke="#ceb9b9" stroke-width="0.8" stroke-linecap="butt" stroke-linejoin="miter"/>
<text x="301.4" y="214.8" font-family='"Liberation Mono", monospace' font-size="12.2" font-weight="normal" fill="#c9b1b1" text-anchor="start" textLength="19.9" lengthAdjust="spacingAndGlyphs">TP4</text>
<path d="M297 216 L306 216" fill="none" stroke="#ceb9b9" stroke-width="0.8" stroke-linecap="butt" stroke-linejoin="miter"/>
<path d="M301.5 211.5 L301.5 220.5" fill="none" stroke="#ceb9b9" stroke-width="0.8" stroke-linecap="butt" stroke-linejoin="miter"/>
<text x="226.8" y="253.7" font-family='"Liberation Mono", monospace' font-size="12.2" font-weight="normal" fill="#c9b1b1" text-anchor="start" textLength="24.5" lengthAdjust="spacingAndGlyphs">GND</text>
<path d="M234.2 254.5 L243.2 254.5" fill="none" stroke="#ceb9b9" stroke-width="0.8" stroke-linecap="butt" stroke-linejoin="miter"/>
<path d="M238.7 250 L238.7 259" fill="none" stroke="#ceb9b9" stroke-width="0.8" stroke-linecap="butt" stroke-linejoin="miter"/>
<text x="246.7" y="269" font-family='"Liberation Mono", monospace' font-size="12.2" font-weight="normal" fill="#c9b1b1" text-anchor="start" textLength="31.8" lengthAdjust="spacingAndGlyphs">TP12</text>
<path d="M243 269 L252 269" fill="none" stroke="#ceb9b9" stroke-width="0.8" stroke-linecap="butt" stroke-linejoin="miter"/>
<path d="M247.5 264.5 L247.5 273.5" fill="none" stroke="#ceb9b9" stroke-width="0.8" stroke-linecap="butt" stroke-linejoin="miter"/>
<text x="336" y="206.6" font-family='"Liberation Mono", monospace' font-size="12.2" font-weight="normal" fill="#c9b1b1" text-anchor="start" textLength="85" lengthAdjust="spacingAndGlyphs" word-spacing="-2.5">RS422 DRIVER</text>
<path d="M373.9 206.6 L383.5 206.6" fill="none" stroke="#ceb9b9" stroke-width="0.8" stroke-linecap="butt" stroke-linejoin="miter"/>
<path d="M378.7 201.8 L378.7 211.4" fill="none" stroke="#ceb9b9" stroke-width="0.8" stroke-linecap="butt" stroke-linejoin="miter"/>
<text x="447.9" y="213.2" font-family='"Liberation Mono", monospace' font-size="12.2" font-weight="normal" fill="#c9b1b1" text-anchor="start" textLength="15.4" lengthAdjust="spacingAndGlyphs">RX</text>
<path d="M451.2 213.2 L460.2 213.2" fill="none" stroke="#ceb9b9" stroke-width="0.8" stroke-linecap="butt" stroke-linejoin="miter"/>
<path d="M455.7 208.7 L455.7 217.7" fill="none" stroke="#ceb9b9" stroke-width="0.8" stroke-linecap="butt" stroke-linejoin="miter"/>
<text x="465.5" y="228.1" font-family='"Liberation Mono", monospace' font-size="12.2" font-weight="normal" fill="#c9b1b1" text-anchor="start" textLength="25.5" lengthAdjust="spacingAndGlyphs">TP11</text>
<path d="M460 230 L469 230" fill="none" stroke="#ceb9b9" stroke-width="0.8" stroke-linecap="butt" stroke-linejoin="miter"/>
<path d="M464.5 225.5 L464.5 234.5" fill="none" stroke="#ceb9b9" stroke-width="0.8" stroke-linecap="butt" stroke-linejoin="miter"/>
<text x="481.2" y="247.4" font-family='"Liberation Mono", monospace' font-size="12.2" font-weight="normal" fill="#c9b1b1" text-anchor="start" textLength="19.8" lengthAdjust="spacingAndGlyphs">PA1</text>
<text x="481.2" y="289.8" font-family='"Liberation Mono", monospace' font-size="12.2" font-weight="normal" fill="#c9b1b1" text-anchor="start" textLength="19.8" lengthAdjust="spacingAndGlyphs">PA0</text>
<text x="465.5" y="307.8" font-family='"Liberation Mono", monospace' font-size="12.2" font-weight="normal" fill="#c9b1b1" text-anchor="start" textLength="20.5" lengthAdjust="spacingAndGlyphs">TP1</text>
<path d="M460 309 L469 309" fill="none" stroke="#ceb9b9" stroke-width="0.8" stroke-linecap="butt" stroke-linejoin="miter"/>
<path d="M464.5 304.5 L464.5 313.5" fill="none" stroke="#ceb9b9" stroke-width="0.8" stroke-linecap="butt" stroke-linejoin="miter"/>
<text x="449.2" y="322.9" font-family='"Liberation Mono", monospace' font-size="12.2" font-weight="normal" fill="#c9b1b1" text-anchor="start" textLength="14.1" lengthAdjust="spacingAndGlyphs">TX</text>
<path d="M451.2 314.5 L460.2 314.5" fill="none" stroke="#ceb9b9" stroke-width="0.8" stroke-linecap="butt" stroke-linejoin="miter"/>
<path d="M455.7 310 L455.7 319" fill="none" stroke="#ceb9b9" stroke-width="0.8" stroke-linecap="butt" stroke-linejoin="miter"/>
<text x="573.4" y="170.2" font-family='"Liberation Mono", monospace' font-size="12.2" font-weight="normal" fill="#c9b1b1" text-anchor="start" textLength="14.2" lengthAdjust="spacingAndGlyphs">5V</text>
<path d="M576 170.5 L585 170.5" fill="none" stroke="#ceb9b9" stroke-width="0.8" stroke-linecap="butt" stroke-linejoin="miter"/>
<path d="M580.5 166 L580.5 175" fill="none" stroke="#ceb9b9" stroke-width="0.8" stroke-linecap="butt" stroke-linejoin="miter"/>
<text x="591" y="185.3" font-family='"Liberation Mono", monospace' font-size="12.2" font-weight="normal" fill="#c9b1b1" text-anchor="start" textLength="28.5" lengthAdjust="spacingAndGlyphs">TP13</text>
<path d="M586.5 186 L595.5 186" fill="none" stroke="#ceb9b9" stroke-width="0.8" stroke-linecap="butt" stroke-linejoin="miter"/>
<path d="M591 181.5 L591 190.5" fill="none" stroke="#ceb9b9" stroke-width="0.8" stroke-linecap="butt" stroke-linejoin="miter"/>
<text x="159.2" y="305.3" font-family='"Liberation Mono", monospace' font-size="12.2" font-weight="normal" fill="#c9b1b1" text-anchor="start" textLength="47.8" lengthAdjust="spacingAndGlyphs">RX2_ISO</text>
<path d="M178.3 305.8 L187.9 305.8" fill="none" stroke="#ceb9b9" stroke-width="0.8" stroke-linecap="butt" stroke-linejoin="miter"/>
<path d="M183.1 301 L183.1 310.6" fill="none" stroke="#ceb9b9" stroke-width="0.8" stroke-linecap="butt" stroke-linejoin="miter"/>
<text x="192.9" y="322.9" font-family='"Liberation Mono", monospace' font-size="12.2" font-weight="normal" fill="#c9b1b1" text-anchor="start" textLength="21.7" lengthAdjust="spacingAndGlyphs">TP9</text>
<path d="M188.5 323.5 L197.5 323.5" fill="none" stroke="#ceb9b9" stroke-width="0.8" stroke-linecap="butt" stroke-linejoin="miter"/>
<path d="M193 319 L193 328" fill="none" stroke="#ceb9b9" stroke-width="0.8" stroke-linecap="butt" stroke-linejoin="miter"/>
<text x="258" y="322.9" font-family='"Liberation Mono", monospace' font-size="12.2" font-weight="normal" fill="#c9b1b1" text-anchor="start" textLength="21.8" lengthAdjust="spacingAndGlyphs">RX2</text>
<path d="M276.5 318.5 L285.5 318.5" fill="none" stroke="#ceb9b9" stroke-width="0.8" stroke-linecap="butt" stroke-linejoin="miter"/>
<path d="M281 314 L281 323" fill="none" stroke="#ceb9b9" stroke-width="0.8" stroke-linecap="butt" stroke-linejoin="miter"/>
<text x="300.8" y="322.9" font-family='"Liberation Mono", monospace' font-size="12.2" font-weight="normal" fill="#c9b1b1" text-anchor="start" textLength="21.7" lengthAdjust="spacingAndGlyphs">TP6</text>
<path d="M297 323.5 L306 323.5" fill="none" stroke="#ceb9b9" stroke-width="0.8" stroke-linecap="butt" stroke-linejoin="miter"/>
<path d="M301.5 319 L301.5 328" fill="none" stroke="#ceb9b9" stroke-width="0.8" stroke-linecap="butt" stroke-linejoin="miter"/>
<text x="313.3" y="335.5" font-family='"Liberation Mono", monospace' font-size="12.2" font-weight="normal" fill="#c9b1b1" text-anchor="start" textLength="96.5" lengthAdjust="spacingAndGlyphs" word-spacing="-2.5">RS422 RECEIVER</text>
<path d="M356.7 335.5 L366.3 335.5" fill="none" stroke="#ceb9b9" stroke-width="0.8" stroke-linecap="butt" stroke-linejoin="miter"/>
<path d="M361.5 330.7 L361.5 340.3" fill="none" stroke="#ceb9b9" stroke-width="0.8" stroke-linecap="butt" stroke-linejoin="miter"/>
<text x="145.8" y="407.8" font-family='"Liberation Mono", monospace' font-size="12.2" font-weight="normal" fill="#c9b1b1" text-anchor="start" textLength="28.5" lengthAdjust="spacingAndGlyphs">TP10</text>
<path d="M168 399.5 L177 399.5" fill="none" stroke="#ceb9b9" stroke-width="0.8" stroke-linecap="butt" stroke-linejoin="miter"/>
<path d="M172.5 395 L172.5 404" fill="none" stroke="#ceb9b9" stroke-width="0.8" stroke-linecap="butt" stroke-linejoin="miter"/>
<text x="148.1" y="425.4" font-family='"Liberation Mono", monospace' font-size="12.2" font-weight="normal" fill="#c9b1b1" text-anchor="start" textLength="48.4" lengthAdjust="spacingAndGlyphs">RX1_ISO</text>
<path d="M167.7 417 L177.3 417" fill="none" stroke="#ceb9b9" stroke-width="0.8" stroke-linecap="butt" stroke-linejoin="miter"/>
<path d="M172.5 412.2 L172.5 421.8" fill="none" stroke="#ceb9b9" stroke-width="0.8" stroke-linecap="butt" stroke-linejoin="miter"/>
<text x="299.7" y="397.6" font-family='"Liberation Mono", monospace' font-size="12.2" font-weight="normal" fill="#c9b1b1" text-anchor="start" textLength="22.1" lengthAdjust="spacingAndGlyphs">RX1</text>
<text x="300.8" y="407.8" font-family='"Liberation Mono", monospace' font-size="12.2" font-weight="normal" fill="#c9b1b1" text-anchor="start" textLength="21.7" lengthAdjust="spacingAndGlyphs">TP7</text>
<path d="M297 408.5 L306 408.5" fill="none" stroke="#ceb9b9" stroke-width="0.8" stroke-linecap="butt" stroke-linejoin="miter"/>
<path d="M301.5 404 L301.5 413" fill="none" stroke="#ceb9b9" stroke-width="0.8" stroke-linecap="butt" stroke-linejoin="miter"/>
<text x="302" y="429.4" font-family='"Liberation Mono", monospace' font-size="12.2" font-weight="normal" fill="#7fb4dc" text-anchor="start" textLength="21.8" lengthAdjust="spacingAndGlyphs">TP8</text>
<path d="M297 430 L306 430" fill="none" stroke="#ceb9b9" stroke-width="0.8" stroke-linecap="butt" stroke-linejoin="miter"/>
<path d="M301.5 425.5 L301.5 434.5" fill="none" stroke="#ceb9b9" stroke-width="0.8" stroke-linecap="butt" stroke-linejoin="miter"/>
<text x="245.2" y="397.6" font-family='"Liberation Mono", monospace' font-size="12.2" font-weight="normal" fill="#c9b1b1" text-anchor="start" textLength="13.6" lengthAdjust="spacingAndGlyphs">5V</text>
<text x="280.6" y="443" font-family='"Liberation Mono", monospace' font-size="12.2" font-weight="normal" fill="#c9b1b1" text-anchor="start" textLength="29.3" lengthAdjust="spacingAndGlyphs">VMID</text>
<path d="M290 443.5 L299 443.5" fill="none" stroke="#ceb9b9" stroke-width="0.8" stroke-linecap="butt" stroke-linejoin="miter"/>
<path d="M294.5 439 L294.5 448" fill="none" stroke="#ceb9b9" stroke-width="0.8" stroke-linecap="butt" stroke-linejoin="miter"/>
<text x="678.3" y="389.5" font-family='"Liberation Mono", monospace' font-size="12.2" font-weight="normal" fill="#c9b1b1" text-anchor="start" textLength="18.2" lengthAdjust="spacingAndGlyphs">JP2</text>
<path d="M672 388.8 L680 388.8" fill="none" stroke="#ceb9b9" stroke-width="0.8" stroke-linecap="butt" stroke-linejoin="miter"/>
<path d="M676 384.8 L676 392.8" fill="none" stroke="#ceb9b9" stroke-width="0.8" stroke-linecap="butt" stroke-linejoin="miter"/>
<text x="896.8" y="407.8" font-family='"Liberation Mono", monospace' font-size="12.2" font-weight="normal" fill="#c9b1b1" text-anchor="start" textLength="19.4" lengthAdjust="spacingAndGlyphs">JP3</text>
<path d="M890.9 408.5 L898.9 408.5" fill="none" stroke="#ceb9b9" stroke-width="0.8" stroke-linecap="butt" stroke-linejoin="miter"/>
<path d="M894.9 404.5 L894.9 412.5" fill="none" stroke="#ceb9b9" stroke-width="0.8" stroke-linecap="butt" stroke-linejoin="miter"/>
<text x="137.8" y="231" font-family='"Liberation Mono", monospace' font-size="12.2" font-weight="normal" fill="#ceb9b9" text-anchor="start" textLength="14" lengthAdjust="spacingAndGlyphs" transform="rotate(-90 137.8 231)">J3</text>
<path d="M132.5 228.2 L141.5 228.2" fill="none" stroke="#ceb9b9" stroke-width="0.8" stroke-linecap="butt" stroke-linejoin="miter"/>
<path d="M137 223.7 L137 232.7" fill="none" stroke="#ceb9b9" stroke-width="0.8" stroke-linecap="butt" stroke-linejoin="miter"/>
<text x="137.8" y="424" font-family='"Liberation Mono", monospace' font-size="12.2" font-weight="normal" fill="#ceb9b9" text-anchor="start" textLength="14" lengthAdjust="spacingAndGlyphs" transform="rotate(-90 137.8 424)">J4</text>
<path d="M132.5 421.6 L141.5 421.6" fill="none" stroke="#ceb9b9" stroke-width="0.8" stroke-linecap="butt" stroke-linejoin="miter"/>
<path d="M137 417.1 L137 426.1" fill="none" stroke="#ceb9b9" stroke-width="0.8" stroke-linecap="butt" stroke-linejoin="miter"/>
<text x="718.8" y="272" font-family='"DejaVu Sans Light", "DejaVu Sans", "Liberation Sans", sans-serif' font-size="14" font-weight="normal" fill="#ceb9b9" text-anchor="middle" textLength="46" lengthAdjust="spacingAndGlyphs" transform="rotate(42 718.8 272)" dominant-baseline="middle">STM32</text>
<text x="691.98" y="444.3" font-family='"Liberation Mono", monospace' font-size="12.2" font-weight="normal" fill="#ceb9b9" text-anchor="start" textLength="22.6" lengthAdjust="spacingAndGlyphs" transform="rotate(-90 691.98 444.3)">GND</text>
<path d="M684.08 422.5 L691.28 422.5" fill="none" stroke="#ceb9b9" stroke-width="0.8" stroke-linecap="butt" stroke-linejoin="miter"/>
<path d="M687.68 418.9 L687.68 426.1" fill="none" stroke="#ceb9b9" stroke-width="0.8" stroke-linecap="butt" stroke-linejoin="miter"/>
<text x="713.49" y="444.3" font-family='"Liberation Mono", monospace' font-size="12.2" font-weight="normal" fill="#ceb9b9" text-anchor="start" textLength="22.6" lengthAdjust="spacingAndGlyphs" transform="rotate(-90 713.49 444.3)">GND</text>
<path d="M705.59 422.5 L712.79 422.5" fill="none" stroke="#ceb9b9" stroke-width="0.8" stroke-linecap="butt" stroke-linejoin="miter"/>
<path d="M709.19 418.9 L709.19 426.1" fill="none" stroke="#ceb9b9" stroke-width="0.8" stroke-linecap="butt" stroke-linejoin="miter"/>
<text x="735" y="444.3" font-family='"Liberation Mono", monospace' font-size="12.2" font-weight="normal" fill="#ceb9b9" text-anchor="start" textLength="22.6" lengthAdjust="spacingAndGlyphs" transform="rotate(-90 735 444.3)">PA0</text>
<path d="M727.1 422.5 L734.3 422.5" fill="none" stroke="#ceb9b9" stroke-width="0.8" stroke-linecap="butt" stroke-linejoin="miter"/>
<path d="M730.7 418.9 L730.7 426.1" fill="none" stroke="#ceb9b9" stroke-width="0.8" stroke-linecap="butt" stroke-linejoin="miter"/>
<text x="756.51" y="444.3" font-family='"Liberation Mono", monospace' font-size="12.2" font-weight="normal" fill="#ceb9b9" text-anchor="start" textLength="22.6" lengthAdjust="spacingAndGlyphs" transform="rotate(-90 756.51 444.3)">PA1</text>
<path d="M748.61 422.5 L755.81 422.5" fill="none" stroke="#ceb9b9" stroke-width="0.8" stroke-linecap="butt" stroke-linejoin="miter"/>
<path d="M752.21 418.9 L752.21 426.1" fill="none" stroke="#ceb9b9" stroke-width="0.8" stroke-linecap="butt" stroke-linejoin="miter"/>
<text x="778.02" y="444.3" font-family='"Liberation Mono", monospace' font-size="12.2" font-weight="normal" fill="#ceb9b9" text-anchor="start" textLength="22.6" lengthAdjust="spacingAndGlyphs" transform="rotate(-90 778.02 444.3)">PB0</text>
<path d="M770.12 422.5 L777.32 422.5" fill="none" stroke="#ceb9b9" stroke-width="0.8" stroke-linecap="butt" stroke-linejoin="miter"/>
<path d="M773.72 418.9 L773.72 426.1" fill="none" stroke="#ceb9b9" stroke-width="0.8" stroke-linecap="butt" stroke-linejoin="miter"/>
<text x="799.53" y="444.3" font-family='"Liberation Mono", monospace' font-size="12.2" font-weight="normal" fill="#ceb9b9" text-anchor="start" textLength="22.6" lengthAdjust="spacingAndGlyphs" transform="rotate(-90 799.53 444.3)">PB1</text>
<path d="M791.63 422.5 L798.83 422.5" fill="none" stroke="#ceb9b9" stroke-width="0.8" stroke-linecap="butt" stroke-linejoin="miter"/>
<path d="M795.23 418.9 L795.23 426.1" fill="none" stroke="#ceb9b9" stroke-width="0.8" stroke-linecap="butt" stroke-linejoin="miter"/>
<text x="821.04" y="451.2" font-family='"Liberation Mono", monospace' font-size="12.2" font-weight="normal" fill="#ceb9b9" text-anchor="start" textLength="29.4" lengthAdjust="spacingAndGlyphs" transform="rotate(-90 821.04 451.2)">PB10</text>
<path d="M813.14 422.5 L820.34 422.5" fill="none" stroke="#ceb9b9" stroke-width="0.8" stroke-linecap="butt" stroke-linejoin="miter"/>
<path d="M816.74 418.9 L816.74 426.1" fill="none" stroke="#ceb9b9" stroke-width="0.8" stroke-linecap="butt" stroke-linejoin="miter"/>
<text x="842.55" y="451.2" font-family='"Liberation Mono", monospace' font-size="12.2" font-weight="normal" fill="#ceb9b9" text-anchor="start" textLength="29.4" lengthAdjust="spacingAndGlyphs" transform="rotate(-90 842.55 451.2)">PB11</text>
<path d="M834.65 422.5 L841.85 422.5" fill="none" stroke="#ceb9b9" stroke-width="0.8" stroke-linecap="butt" stroke-linejoin="miter"/>
<path d="M838.25 418.9 L838.25 426.1" fill="none" stroke="#ceb9b9" stroke-width="0.8" stroke-linecap="butt" stroke-linejoin="miter"/>
<text x="864.06" y="444.3" font-family='"Liberation Mono", monospace' font-size="12.2" font-weight="normal" fill="#ceb9b9" text-anchor="start" textLength="22.6" lengthAdjust="spacingAndGlyphs" transform="rotate(-90 864.06 444.3)">RST</text>
<path d="M856.16 422.5 L863.36 422.5" fill="none" stroke="#ceb9b9" stroke-width="0.8" stroke-linecap="butt" stroke-linejoin="miter"/>
<path d="M859.76 418.9 L859.76 426.1" fill="none" stroke="#ceb9b9" stroke-width="0.8" stroke-linecap="butt" stroke-linejoin="miter"/>
<text x="885.57" y="444.3" font-family='"Liberation Mono", monospace' font-size="12.2" font-weight="normal" fill="#ceb9b9" text-anchor="start" textLength="22.6" lengthAdjust="spacingAndGlyphs" transform="rotate(-90 885.57 444.3)">3V3</text>
<path d="M877.67 422.5 L884.87 422.5" fill="none" stroke="#ceb9b9" stroke-width="0.8" stroke-linecap="butt" stroke-linejoin="miter"/>
<path d="M881.27 418.9 L881.27 426.1" fill="none" stroke="#ceb9b9" stroke-width="0.8" stroke-linecap="butt" stroke-linejoin="miter"/>
<text x="760.6" y="479.9" font-family='"Liberation Sans", sans-serif' font-size="12" font-weight="bold" fill="#c7a9ab" text-anchor="start" textLength="21.2" lengthAdjust="spacingAndGlyphs">031</text>
<text x="826" y="485.2" font-family='"Liberation Sans", sans-serif' font-size="12" font-weight="bold" fill="#c7a9ab" text-anchor="start" textLength="45.4" lengthAdjust="spacingAndGlyphs">MMXXII</text>
<path d="M777.3 471.8 L785.3 471.8" fill="none" stroke="#ceb9b9" stroke-width="0.8" stroke-linecap="butt" stroke-linejoin="miter"/>
<path d="M781.3 467.8 L781.3 475.8" fill="none" stroke="#ceb9b9" stroke-width="0.8" stroke-linecap="butt" stroke-linejoin="miter"/>
<path d="M826.3 483.8 L834.3 483.8" fill="none" stroke="#ceb9b9" stroke-width="0.8" stroke-linecap="butt" stroke-linejoin="miter"/>
<path d="M830.3 479.8 L830.3 487.8" fill="none" stroke="#ceb9b9" stroke-width="0.8" stroke-linecap="butt" stroke-linejoin="miter"/>
<path d="M666.5 485.8 L674.5 485.8" fill="none" stroke="#ceb9b9" stroke-width="0.8" stroke-linecap="butt" stroke-linejoin="miter"/>
<path d="M670.5 481.8 L670.5 489.8" fill="none" stroke="#ceb9b9" stroke-width="0.8" stroke-linecap="butt" stroke-linejoin="miter"/>
<path d="M726.6 156.8 L734.6 156.8" fill="none" stroke="#ceb9b9" stroke-width="0.8" stroke-linecap="butt" stroke-linejoin="miter"/>
<path d="M730.6 152.8 L730.6 160.8" fill="none" stroke="#ceb9b9" stroke-width="0.8" stroke-linecap="butt" stroke-linejoin="miter"/>
<path d="M71.5 102.6 L79.5 102.6" fill="none" stroke="#ceb9b9" stroke-width="0.8" stroke-linecap="butt" stroke-linejoin="miter"/>
<path d="M75.5 98.6 L75.5 106.6" fill="none" stroke="#ceb9b9" stroke-width="0.8" stroke-linecap="butt" stroke-linejoin="miter"/>
<path d="M71.5 295.8 L79.5 295.8" fill="none" stroke="#ceb9b9" stroke-width="0.8" stroke-linecap="butt" stroke-linejoin="miter"/>
<path d="M75.5 291.8 L75.5 299.8" fill="none" stroke="#ceb9b9" stroke-width="0.8" stroke-linecap="butt" stroke-linejoin="miter"/>
</g>
<g id="blue" opacity="0.85">
<path d="M54.4 135.4 L128 135.4" fill="none" stroke="#118ed9" stroke-width="3.2" stroke-linecap="round" stroke-linejoin="round"/>
<path d="M54.4 200.4 L128 200.4" fill="none" stroke="#118ed9" stroke-width="3.2" stroke-linecap="round" stroke-linejoin="round"/>
<rect x="127" y="129" width="11.3" height="12.7" fill="#118ed9" stroke="none" stroke-width="1"/>
<rect x="127" y="129" width="11.3" height="12.7" fill="url(#hb)" stroke="none" stroke-width="1"/>
<rect x="143.2" y="129" width="10.9" height="12.7" fill="#118ed9" stroke="none" stroke-width="1"/>
<rect x="143.2" y="129" width="10.9" height="12.7" fill="url(#hb)" stroke="none" stroke-width="1"/>
<rect x="127" y="194.1" width="11.3" height="12.6" fill="#118ed9" stroke="none" stroke-width="1"/>
<rect x="127" y="194.1" width="11.3" height="12.6" fill="url(#hb)" stroke="none" stroke-width="1"/>
<rect x="143.2" y="194.1" width="10.9" height="12.6" fill="#118ed9" stroke="none" stroke-width="1"/>
<rect x="143.2" y="194.1" width="10.9" height="12.6" fill="url(#hb)" stroke="none" stroke-width="1"/>
<rect x="144.1" y="153.9" width="13.1" height="11.3" fill="#118ed9" stroke="none" stroke-width="1"/>
<rect x="144.1" y="153.9" width="13.1" height="11.3" fill="url(#hb)" stroke="none" stroke-width="1"/>
<rect x="144.1" y="171.5" width="13.1" height="10.8" fill="#118ed9" stroke="none" stroke-width="1"/>
<rect x="144.1" y="171.5" width="13.1" height="10.8" fill="url(#hb)" stroke="none" stroke-width="1"/>
<path d="M148.9 141.7 L148.9 194.1" fill="none" stroke="#118ed9" stroke-width="3.2" stroke-linecap="round" stroke-linejoin="round"/>
<rect x="180.8" y="141.6" width="15.3" height="9" fill="#118ed9" stroke="none" stroke-width="1"/>
<rect x="180.8" y="141.6" width="15.3" height="9" fill="url(#hb)" stroke="none" stroke-width="1"/>
<rect x="278.2" y="141.6" width="15.1" height="9" fill="#118ed9" stroke="none" stroke-width="1"/>
<rect x="278.2" y="141.6" width="15.1" height="9" fill="url(#hb)" stroke="none" stroke-width="1"/>
<rect x="180.8" y="164.2" width="15.3" height="9" fill="#118ed9" stroke="none" stroke-width="1"/>
<rect x="180.8" y="164.2" width="15.3" height="9" fill="url(#hb)" stroke="none" stroke-width="1"/>
<rect x="278.2" y="164.2" width="15.1" height="9" fill="#118ed9" stroke="none" stroke-width="1"/>
<rect x="278.2" y="164.2" width="15.1" height="9" fill="url(#hb)" stroke="none" stroke-width="1"/>
<rect x="180.8" y="185" width="15.3" height="9" fill="#118ed9" stroke="none" stroke-width="1"/>
<rect x="180.8" y="185" width="15.3" height="9" fill="url(#hb)" stroke="none" stroke-width="1"/>
<rect x="278.2" y="185" width="15.1" height="9" fill="#118ed9" stroke="none" stroke-width="1"/>
<rect x="278.2" y="185" width="15.1" height="9" fill="url(#hb)" stroke="none" stroke-width="1"/>
<path d="M54.4 328.3 L128 328.3" fill="none" stroke="#118ed9" stroke-width="3.2" stroke-linecap="round" stroke-linejoin="round"/>
<path d="M54.4 393.3 L128 393.3" fill="none" stroke="#118ed9" stroke-width="3.2" stroke-linecap="round" stroke-linejoin="round"/>
<rect x="127" y="321.9" width="11.3" height="12.7" fill="#118ed9" stroke="none" stroke-width="1"/>
<rect x="127" y="321.9" width="11.3" height="12.7" fill="url(#hb)" stroke="none" stroke-width="1"/>
<rect x="143.2" y="321.9" width="10.9" height="12.7" fill="#118ed9" stroke="none" stroke-width="1"/>
<rect x="143.2" y="321.9" width="10.9" height="12.7" fill="url(#hb)" stroke="none" stroke-width="1"/>
<rect x="127" y="387" width="11.3" height="12.6" fill="#118ed9" stroke="none" stroke-width="1"/>
<rect x="127" y="387" width="11.3" height="12.6" fill="url(#hb)" stroke="none" stroke-width="1"/>
<rect x="143.2" y="387" width="10.9" height="12.6" fill="#118ed9" stroke="none" stroke-width="1"/>
<rect x="143.2" y="387" width="10.9" height="12.6" fill="url(#hb)" stroke="none" stroke-width="1"/>
<rect x="144.1" y="346.8" width="13.1" height="11.3" fill="#118ed9" stroke="none" stroke-width="1"/>
<rect x="144.1" y="346.8" width="13.1" height="11.3" fill="url(#hb)" stroke="none" stroke-width="1"/>
<rect x="144.1" y="364.4" width="13.1" height="10.8" fill="#118ed9" stroke="none" stroke-width="1"/>
<rect x="144.1" y="364.4" width="13.1" height="10.8" fill="url(#hb)" stroke="none" stroke-width="1"/>
<path d="M148.9 334.6 L148.9 387" fill="none" stroke="#118ed9" stroke-width="3.2" stroke-linecap="round" stroke-linejoin="round"/>
<rect x="180.8" y="334.5" width="15.3" height="9" fill="#118ed9" stroke="none" stroke-width="1"/>
<rect x="180.8" y="334.5" width="15.3" height="9" fill="url(#hb)" stroke="none" stroke-width="1"/>
<rect x="278.2" y="334.5" width="15.1" height="9" fill="#118ed9" stroke="none" stroke-width="1"/>
<rect x="278.2" y="334.5" width="15.1" height="9" fill="url(#hb)" stroke="none" stroke-width="1"/>
<rect x="180.8" y="357.1" width="15.3" height="9" fill="#118ed9" stroke="none" stroke-width="1"/>
<rect x="180.8" y="357.1" width="15.3" height="9" fill="url(#hb)" stroke="none" stroke-width="1"/>
<rect x="278.2" y="357.1" width="15.1" height="9" fill="#118ed9" stroke="none" stroke-width="1"/>
<rect x="278.2" y="357.1" width="15.1" height="9" fill="url(#hb)" stroke="none" stroke-width="1"/>
<rect x="180.8" y="377.9" width="15.3" height="9" fill="#118ed9" stroke="none" stroke-width="1"/>
<rect x="180.8" y="377.9" width="15.3" height="9" fill="url(#hb)" stroke="none" stroke-width="1"/>
<rect x="278.2" y="377.9" width="15.1" height="9" fill="#118ed9" stroke="none" stroke-width="1"/>
<rect x="278.2" y="377.9" width="15.1" height="9" fill="url(#hb)" stroke="none" stroke-width="1"/>
<path d="M153.6 139.9 L159.2 145.9 L182 145.9" fill="none" stroke="#118ed9" stroke-width="3.2" stroke-linecap="round" stroke-linejoin="round"/>
<path d="M153.6 196 L159.2 190.2 L182 190.2" fill="none" stroke="#118ed9" stroke-width="3.2" stroke-linecap="round" stroke-linejoin="round"/>
<rect x="198.2" y="90.1" width="12.6" height="10.3" fill="#118ed9" stroke="none" stroke-width="1"/>
<rect x="198.2" y="90.1" width="12.6" height="10.3" fill="url(#hb)" stroke="none" stroke-width="1"/>
<rect x="198.2" y="106.1" width="12.6" height="10.2" fill="#118ed9" stroke="none" stroke-width="1"/>
<rect x="198.2" y="106.1" width="12.6" height="10.2" fill="url(#hb)" stroke="none" stroke-width="1"/>
<path d="M208.7 91 L220.2 79.5 L389.5 79.5" fill="none" stroke="#118ed9" stroke-width="3.2" stroke-linecap="round" stroke-linejoin="round"/>
<path d="M204.6 116 L204.6 160.2 L196.2 168.6" fill="none" stroke="#118ed9" stroke-width="3.2" stroke-linecap="round" stroke-linejoin="round"/>
<path d="M183.3 124.8 L188.3 129.8 L188.3 142" fill="none" stroke="#118ed9" stroke-width="2.6" stroke-linecap="round" stroke-linejoin="round"/>
<path d="M188.3 194 L188.3 205.5 L183.4 210.4" fill="none" stroke="#118ed9" stroke-width="2.6" stroke-linecap="round" stroke-linejoin="round"/>
<path d="M290.2 124.8 L285.8 129.2 L285.8 142" fill="none" stroke="#118ed9" stroke-width="2.6" stroke-linecap="round" stroke-linejoin="round"/>
<path d="M285.8 194 L285.8 206 L290.2 210.4" fill="none" stroke="#118ed9" stroke-width="2.6" stroke-linecap="round" stroke-linejoin="round"/>
<rect x="288.1" y="71.7" width="22.9" height="15.6" fill="#118ed9" stroke="none" stroke-width="1"/>
<rect x="288.1" y="71.7" width="22.9" height="15.6" fill="url(#hb)" stroke="none" stroke-width="1"/>
<rect x="288.1" y="95.1" width="22.9" height="15.1" fill="#118ed9" stroke="none" stroke-width="1"/>
<rect x="288.1" y="95.1" width="22.9" height="15.1" fill="url(#hb)" stroke="none" stroke-width="1"/>
<rect x="315.8" y="71.7" width="22.1" height="15.6" fill="#118ed9" stroke="none" stroke-width="1"/>
<rect x="315.8" y="71.7" width="22.1" height="15.6" fill="url(#hb)" stroke="none" stroke-width="1"/>
<rect x="315.8" y="95.1" width="22.1" height="15.1" fill="#118ed9" stroke="none" stroke-width="1"/>
<rect x="315.8" y="95.1" width="22.1" height="15.1" fill="url(#hb)" stroke="none" stroke-width="1"/>
<rect x="343.5" y="71.7" width="22.9" height="15.6" fill="#118ed9" stroke="none" stroke-width="1"/>
<rect x="343.5" y="71.7" width="22.9" height="15.6" fill="url(#hb)" stroke="none" stroke-width="1"/>
<rect x="343.5" y="95.1" width="22.9" height="15.1" fill="#118ed9" stroke="none" stroke-width="1"/>
<rect x="343.5" y="95.1" width="22.9" height="15.1" fill="url(#hb)" stroke="none" stroke-width="1"/>
<path d="M299.5 110 L299.5 114" fill="none" stroke="#118ed9" stroke-width="2.4" stroke-linecap="round" stroke-linejoin="round"/>
<path d="M326.5 110 L326.5 114" fill="none" stroke="#118ed9" stroke-width="2.4" stroke-linecap="round" stroke-linejoin="round"/>
<path d="M354.4 110 L354.4 114" fill="none" stroke="#118ed9" stroke-width="2.4" stroke-linecap="round" stroke-linejoin="round"/>
<rect x="309.1" y="151.4" width="10.8" height="12.6" fill="#118ed9" stroke="none" stroke-width="1"/>
<rect x="309.1" y="151.4" width="10.8" height="12.6" fill="url(#hb)" stroke="none" stroke-width="1"/>
<rect x="325" y="151.4" width="11" height="12.6" fill="#118ed9" stroke="none" stroke-width="1"/>
<rect x="325" y="151.4" width="11" height="12.6" fill="url(#hb)" stroke="none" stroke-width="1"/>
<rect x="309.1" y="172.3" width="10.8" height="12.5" fill="#118ed9" stroke="none" stroke-width="1"/>
<rect x="309.1" y="172.3" width="10.8" height="12.5" fill="url(#hb)" stroke="none" stroke-width="1"/>
<rect x="325" y="172.3" width="11" height="12.5" fill="#118ed9" stroke="none" stroke-width="1"/>
<rect x="325" y="172.3" width="11" height="12.5" fill="url(#hb)" stroke="none" stroke-width="1"/>
<rect x="348.1" y="153.9" width="12.1" height="10.8" fill="#118ed9" stroke="none" stroke-width="1"/>
<rect x="348.1" y="153.9" width="12.1" height="10.8" fill="url(#hb)" stroke="none" stroke-width="1"/>
<rect x="348.1" y="171.5" width="12.1" height="10.1" fill="#118ed9" stroke="none" stroke-width="1"/>
<rect x="348.1" y="171.5" width="12.1" height="10.1" fill="url(#hb)" stroke="none" stroke-width="1"/>
<path d="M293.3 147.1 L297.5 147.1 L308 157.7 L310 157.7" fill="none" stroke="#118ed9" stroke-width="3.2" stroke-linecap="round" stroke-linejoin="round"/>
<path d="M293.3 189.1 L297.5 189.1 L308 178.5 L310 178.5" fill="none" stroke="#118ed9" stroke-width="3.2" stroke-linecap="round" stroke-linejoin="round"/>
<path d="M336 159.7 L349 159.7" fill="none" stroke="#118ed9" stroke-width="3.2" stroke-linecap="round" stroke-linejoin="round"/>
<path d="M336 176.5 L349 176.5" fill="none" stroke="#118ed9" stroke-width="3.2" stroke-linecap="round" stroke-linejoin="round"/>
<path d="M359.5 159 L367.7 167.7 L367.7 190.4 L336.2 222 L336.2 258.5" fill="none" stroke="#118ed9" stroke-width="3.2" stroke-linecap="round" stroke-linejoin="round"/>
<path d="M354.4 181 L354.4 191.6 L324.1 222 L324.1 282.5 L331.5 287" fill="none" stroke="#118ed9" stroke-width="3.2" stroke-linecap="round" stroke-linejoin="round"/>
<rect x="367.7" y="245.9" width="17.7" height="5.2" fill="#118ed9" stroke="none" stroke-width="1"/>
<rect x="367.7" y="245.9" width="17.7" height="5.2" fill="url(#hb)" stroke="none" stroke-width="1"/>
<rect x="409.9" y="245.9" width="17.4" height="5.2" fill="#118ed9" stroke="none" stroke-width="1"/>
<rect x="409.9" y="245.9" width="17.4" height="5.2" fill="url(#hb)" stroke="none" stroke-width="1"/>
<rect x="367.7" y="256.9" width="17.7" height="5.2" fill="#118ed9" stroke="none" stroke-width="1"/>
<rect x="367.7" y="256.9" width="17.7" height="5.2" fill="url(#hb)" stroke="none" stroke-width="1"/>
<rect x="409.9" y="256.9" width="17.4" height="5.2" fill="#118ed9" stroke="none" stroke-width="1"/>
<rect x="409.9" y="256.9" width="17.4" height="5.2" fill="url(#hb)" stroke="none" stroke-width="1"/>
<rect x="367.7" y="266.9" width="17.7" height="5.2" fill="#118ed9" stroke="none" stroke-width="1"/>
<rect x="367.7" y="266.9" width="17.7" height="5.2" fill="url(#hb)" stroke="none" stroke-width="1"/>
<rect x="409.9" y="266.9" width="17.4" height="5.2" fill="#118ed9" stroke="none" stroke-width="1"/>
<rect x="409.9" y="266.9" width="17.4" height="5.2" fill="url(#hb)" stroke="none" stroke-width="1"/>
<rect x="367.7" y="277.5" width="17.7" height="5.2" fill="#118ed9" stroke="none" stroke-width="1"/>
<rect x="367.7" y="277.5" width="17.7" height="5.2" fill="url(#hb)" stroke="none" stroke-width="1"/>
<rect x="409.9" y="277.5" width="17.4" height="5.2" fill="#118ed9" stroke="none" stroke-width="1"/>
<rect x="409.9" y="277.5" width="17.4" height="5.2" fill="url(#hb)" stroke="none" stroke-width="1"/>
<rect x="331.1" y="257.8" width="11.1" height="13.2" fill="#118ed9" stroke="none" stroke-width="1"/>
<rect x="331.1" y="257.8" width="11.1" height="13.2" fill="url(#hb)" stroke="none" stroke-width="1"/>
<rect x="346.8" y="257.8" width="11.5" height="13.2" fill="#118ed9" stroke="none" stroke-width="1"/>
<rect x="346.8" y="257.8" width="11.5" height="13.2" fill="url(#hb)" stroke="none" stroke-width="1"/>
<rect x="331.1" y="278.5" width="11.1" height="13.1" fill="#118ed9" stroke="none" stroke-width="1"/>
<rect x="331.1" y="278.5" width="11.1" height="13.1" fill="url(#hb)" stroke="none" stroke-width="1"/>
<rect x="346.8" y="278.5" width="11.5" height="13.1" fill="#118ed9" stroke="none" stroke-width="1"/>
<rect x="346.8" y="278.5" width="11.5" height="13.1" fill="url(#hb)" stroke="none" stroke-width="1"/>
<path d="M358.3 269.5 L368 269.5" fill="none" stroke="#118ed9" stroke-width="3.2" stroke-linecap="round" stroke-linejoin="round"/>
<path d="M358.3 280.1 L368 280.1" fill="none" stroke="#118ed9" stroke-width="3.2" stroke-linecap="round" stroke-linejoin="round"/>
<path d="M368 259.5 L366.5 259.5 L365.2 258 L365.2 245 L367 243.2 L387.2 243.2 L393.6 249.6 L393.6 297.7 L321.7 369.5 L317.5 369.5" fill="none" stroke="#118ed9" stroke-width="2.8" stroke-linecap="round" stroke-linejoin="round"/>
<path d="M385 248.5 L387.2 248.5 L389.7 251 L389.7 295.2 L332.3 352.6 L317.5 352.6" fill="none" stroke="#118ed9" stroke-width="2.8" stroke-linecap="round" stroke-linejoin="round"/>
<path d="M402.6 230 L402.6 243 L399.4 246.4 L399.4 314 L344.4 369 L344.4 404.5" fill="none" stroke="#118ed9" stroke-width="2.8" stroke-linecap="round" stroke-linejoin="round"/>
<path d="M402.6 243 L408 248.4 L411 248.4" fill="none" stroke="#118ed9" stroke-width="2.8" stroke-linecap="round" stroke-linejoin="round"/>
<rect x="382.9" y="221" width="11.3" height="9.3" fill="#118ed9" stroke="none" stroke-width="1"/>
<rect x="382.9" y="221" width="11.3" height="9.3" fill="url(#hb)" stroke="none" stroke-width="1"/>
<rect x="396.9" y="221" width="11.3" height="9.3" fill="#118ed9" stroke="none" stroke-width="1"/>
<rect x="396.9" y="221" width="11.3" height="9.3" fill="url(#hb)" stroke="none" stroke-width="1"/>
<path d="M408 225.8 L416.7 225.8 L436 206.6 L469.5 206.6 L495.3 232.4 L549.2 232.4 L558.6 223 L558.6 191" fill="none" stroke="#118ed9" stroke-width="3.2" stroke-linecap="round" stroke-linejoin="round"/>
<path d="M455.6 223.6 L455.6 253.4" fill="none" stroke="#118ed9" stroke-width="2.8" stroke-linecap="round" stroke-linejoin="round"/>
<path d="M455.6 275.5 L455.6 303.3" fill="none" stroke="#118ed9" stroke-width="2.8" stroke-linecap="round" stroke-linejoin="round"/>
<path d="M427 259.5 L444.5 259.5 L450 255" fill="none" stroke="#118ed9" stroke-width="3.2" stroke-linecap="round" stroke-linejoin="round"/>
<path d="M427 269.5 L444 269.5 L450 274.5" fill="none" stroke="#118ed9" stroke-width="3.2" stroke-linecap="round" stroke-linejoin="round"/>
<path d="M427 280.3 L432.4 281.3" fill="none" stroke="#118ed9" stroke-width="2.8" stroke-linecap="round" stroke-linejoin="round"/>
<rect x="483" y="249.3" width="9.1" height="8.2" fill="#118ed9" stroke="none" stroke-width="1"/>
<rect x="483" y="249.3" width="9.1" height="8.2" fill="url(#hb)" stroke="none" stroke-width="1"/>
<rect x="496.1" y="249.3" width="11.1" height="8.2" fill="#118ed9" stroke="none" stroke-width="1"/>
<rect x="496.1" y="249.3" width="11.1" height="8.2" fill="url(#hb)" stroke="none" stroke-width="1"/>
<path d="M468 253.4 L484 253.4" fill="none" stroke="#118ed9" stroke-width="2.8" stroke-linecap="round" stroke-linejoin="round"/>
<rect x="483" y="271.4" width="9.1" height="8.2" fill="#118ed9" stroke="none" stroke-width="1"/>
<rect x="483" y="271.4" width="9.1" height="8.2" fill="url(#hb)" stroke="none" stroke-width="1"/>
<rect x="496.1" y="271.4" width="11.1" height="8.2" fill="#118ed9" stroke="none" stroke-width="1"/>
<rect x="496.1" y="271.4" width="11.1" height="8.2" fill="url(#hb)" stroke="none" stroke-width="1"/>
<path d="M468 275.5 L484 275.5" fill="none" stroke="#118ed9" stroke-width="2.8" stroke-linecap="round" stroke-linejoin="round"/>
<path d="M506 253.4 L564.8 253.4 L623.2 311.6 L623.2 339.5" fill="none" stroke="#118ed9" stroke-width="3.2" stroke-linecap="round" stroke-linejoin="round"/>
<path d="M506 275.5 L566.4 275.5 L601.8 311 L601.8 339.5" fill="none" stroke="#118ed9" stroke-width="3.2" stroke-linecap="round" stroke-linejoin="round"/>
<rect x="529.7" y="169.7" width="14.3" height="21.4" fill="#118ed9" stroke="none" stroke-width="1"/>
<rect x="529.7" y="169.7" width="14.3" height="21.4" fill="url(#hb)" stroke="none" stroke-width="1"/>
<rect x="553.6" y="169.7" width="14.3" height="21.4" fill="#118ed9" stroke="none" stroke-width="1"/>
<rect x="553.6" y="169.7" width="14.3" height="21.4" fill="url(#hb)" stroke="none" stroke-width="1"/>
<path d="M537.2 191 L537.2 210.4" fill="none" stroke="#118ed9" stroke-width="3.2" stroke-linecap="round" stroke-linejoin="round"/>
<path d="M567.5 180.8 L580.5 180.8" fill="none" stroke="#118ed9" stroke-width="2.8" stroke-linecap="round" stroke-linejoin="round"/>
<path d="M413.5 103.3 L456.2 146 L710.4 146 L730.6 125.6" fill="none" stroke="#118ed9" stroke-width="2" stroke-linecap="round" stroke-linejoin="round"/>
<path d="M153.6 327.9 L161 327.9 L172.4 339.3 L182 339.3" fill="none" stroke="#118ed9" stroke-width="3.2" stroke-linecap="round" stroke-linejoin="round"/>
<path d="M153.6 392.4 L162 392.4 L171.6 382.6 L182 382.6" fill="none" stroke="#118ed9" stroke-width="3.2" stroke-linecap="round" stroke-linejoin="round"/>
<path d="M196 362 L204.6 370.8 L204.6 413" fill="none" stroke="#118ed9" stroke-width="3.2" stroke-linecap="round" stroke-linejoin="round"/>
<path d="M183.3 318.4 L188.3 323.4 L188.3 335" fill="none" stroke="#118ed9" stroke-width="2.6" stroke-linecap="round" stroke-linejoin="round"/>
<path d="M188.3 387 L188.3 398.6 L183.3 403.6" fill="none" stroke="#118ed9" stroke-width="2.6" stroke-linecap="round" stroke-linejoin="round"/>
<path d="M290.2 318.4 L285.8 322.8 L285.8 335" fill="none" stroke="#118ed9" stroke-width="2.6" stroke-linecap="round" stroke-linejoin="round"/>
<path d="M285.8 387 L285.8 399.2 L290.2 403.6" fill="none" stroke="#118ed9" stroke-width="2.6" stroke-linecap="round" stroke-linejoin="round"/>
<rect x="198.7" y="412.1" width="12.1" height="10.8" fill="#118ed9" stroke="none" stroke-width="1"/>
<rect x="198.7" y="412.1" width="12.1" height="10.8" fill="url(#hb)" stroke="none" stroke-width="1"/>
<rect x="198.7" y="427.9" width="12.1" height="11.3" fill="#118ed9" stroke="none" stroke-width="1"/>
<rect x="198.7" y="427.9" width="12.1" height="11.3" fill="url(#hb)" stroke="none" stroke-width="1"/>
<path d="M189.1 433.5 L199 433.5" fill="none" stroke="#118ed9" stroke-width="2.6" stroke-linecap="round" stroke-linejoin="round"/>
<rect x="305.3" y="346.8" width="12.6" height="11.3" fill="#118ed9" stroke="none" stroke-width="1"/>
<rect x="305.3" y="346.8" width="12.6" height="11.3" fill="url(#hb)" stroke="none" stroke-width="1"/>
<rect x="305.3" y="364.4" width="12.6" height="11.3" fill="#118ed9" stroke="none" stroke-width="1"/>
<rect x="305.3" y="364.4" width="12.6" height="11.3" fill="url(#hb)" stroke="none" stroke-width="1"/>
<path d="M293.3 340 L296 340 L307 351.5" fill="none" stroke="#118ed9" stroke-width="3.2" stroke-linecap="round" stroke-linejoin="round"/>
<path d="M293.3 382.6 L296 382.6 L306.5 372" fill="none" stroke="#118ed9" stroke-width="3.2" stroke-linecap="round" stroke-linejoin="round"/>
<path d="M275.3 362 L275.3 409 L289 423.5" fill="none" stroke="#118ed9" stroke-width="3.2" stroke-linecap="round" stroke-linejoin="round"/>
<rect x="303.3" y="417.1" width="22.7" height="14.6" fill="#118ed9" stroke="none" stroke-width="1"/>
<rect x="303.3" y="417.1" width="22.7" height="14.6" fill="url(#hb)" stroke="none" stroke-width="1"/>
<rect x="303.3" y="440.5" width="22.7" height="14.3" fill="#118ed9" stroke="none" stroke-width="1"/>
<rect x="303.3" y="440.5" width="22.7" height="14.3" fill="url(#hb)" stroke="none" stroke-width="1"/>
<path d="M290.2 424.9 L304 424.9" fill="none" stroke="#118ed9" stroke-width="2.6" stroke-linecap="round" stroke-linejoin="round"/>
<path d="M326 423.4 L341 423.4" fill="none" stroke="#118ed9" stroke-width="2.6" stroke-linecap="round" stroke-linejoin="round"/>
<rect x="340" y="404" width="9.3" height="10.6" fill="#118ed9" stroke="none" stroke-width="1"/>
<rect x="340" y="404" width="9.3" height="10.6" fill="url(#hb)" stroke="none" stroke-width="1"/>
<rect x="340" y="417.9" width="9.3" height="11.3" fill="#118ed9" stroke="none" stroke-width="1"/>
<rect x="340" y="417.9" width="9.3" height="11.3" fill="url(#hb)" stroke="none" stroke-width="1"/>
<rect x="340" y="432.2" width="9.3" height="10.8" fill="#118ed9" stroke="none" stroke-width="1"/>
<rect x="340" y="432.2" width="9.3" height="10.8" fill="url(#hb)" stroke="none" stroke-width="1"/>
<rect x="340" y="445.5" width="9.3" height="11.3" fill="#118ed9" stroke="none" stroke-width="1"/>
<rect x="340" y="445.5" width="9.3" height="11.3" fill="url(#hb)" stroke="none" stroke-width="1"/>
<path d="M314.1 455 L314.1 459" fill="none" stroke="#118ed9" stroke-width="2.4" stroke-linecap="round" stroke-linejoin="round"/>
<path d="M344.4 457 L344.4 461" fill="none" stroke="#118ed9" stroke-width="2.4" stroke-linecap="round" stroke-linejoin="round"/>
<path d="M730.7 339.6 L730.7 403.6" fill="none" stroke="#118ed9" stroke-width="3.4" stroke-linecap="round" stroke-linejoin="round"/>
<path d="M752.21 339.6 L752.21 403.6" fill="none" stroke="#118ed9" stroke-width="3.4" stroke-linecap="round" stroke-linejoin="round"/>
<path d="M773.72 339.6 L773.72 403.6" fill="none" stroke="#118ed9" stroke-width="3.4" stroke-linecap="round" stroke-linejoin="round"/>
<path d="M795.23 339.6 L795.23 403.6" fill="none" stroke="#118ed9" stroke-width="3.4" stroke-linecap="round" stroke-linejoin="round"/>
<path d="M816.74 339.6 L816.74 403.6" fill="none" stroke="#118ed9" stroke-width="3.4" stroke-linecap="round" stroke-linejoin="round"/>
<path d="M838.25 339.6 L838.25 403.6" fill="none" stroke="#118ed9" stroke-width="3.4" stroke-linecap="round" stroke-linejoin="round"/>
<path d="M859.76 339.6 L859.76 403.6" fill="none" stroke="#118ed9" stroke-width="3.4" stroke-linecap="round" stroke-linejoin="round"/>
<path d="M881.27 339.6 L881.27 403.6" fill="none" stroke="#118ed9" stroke-width="3.4" stroke-linecap="round" stroke-linejoin="round"/>
</g>
<g id="pad">
<circle cx="62.4" cy="51" r="21.8" fill="none" stroke="#55b67f" stroke-width="12.8"/>
<circle cx="62.4" cy="51" r="21.8" fill="none" stroke="url(#hd)" stroke-width="12.8"/>
<circle cx="62.4" cy="51" r="15.4" fill="url(#hd)" stroke="none" stroke-width="1" opacity="0.85"/>
<circle cx="62.4" cy="51" r="28" fill="none" stroke="#e6dede" stroke-width="0.7" opacity="0.75"/>
<circle cx="62.4" cy="51" r="15.4" fill="none" stroke="#e6dede" stroke-width="0.6" opacity="0.45"/>
<text x="62.4" y="57" font-family='"Liberation Mono", monospace' font-size="18" font-weight="normal" fill="#d8bcbc" text-anchor="middle" textLength="32.6" lengthAdjust="spacingAndGlyphs" opacity="0.72">1-16</text>
<circle cx="926.6" cy="51" r="21.8" fill="none" stroke="#55b67f" stroke-width="12.8"/>
<circle cx="926.6" cy="51" r="21.8" fill="none" stroke="url(#hd)" stroke-width="12.8"/>
<circle cx="926.6" cy="51" r="15.4" fill="url(#hd)" stroke="none" stroke-width="1" opacity="0.85"/>
<circle cx="926.6" cy="51" r="28" fill="none" stroke="#e6dede" stroke-width="0.7" opacity="0.75"/>
<circle cx="926.6" cy="51" r="15.4" fill="none" stroke="#e6dede" stroke-width="0.6" opacity="0.45"/>
<text x="926.6" y="57" font-family='"Liberation Mono", monospace' font-size="18" font-weight="normal" fill="#d8bcbc" text-anchor="middle" textLength="32.6" lengthAdjust="spacingAndGlyphs" opacity="0.72">1-16</text>
<circle cx="62.4" cy="477.2" r="21.8" fill="none" stroke="#55b67f" stroke-width="12.8"/>
<circle cx="62.4" cy="477.2" r="21.8" fill="none" stroke="url(#hd)" stroke-width="12.8"/>
<circle cx="62.4" cy="477.2" r="15.4" fill="url(#hd)" stroke="none" stroke-width="1" opacity="0.85"/>
<circle cx="62.4" cy="477.2" r="28" fill="none" stroke="#e6dede" stroke-width="0.7" opacity="0.75"/>
<circle cx="62.4" cy="477.2" r="15.4" fill="none" stroke="#e6dede" stroke-width="0.6" opacity="0.45"/>
<text x="62.4" y="483.2" font-family='"Liberation Mono", monospace' font-size="18" font-weight="normal" fill="#d8bcbc" text-anchor="middle" textLength="32.6" lengthAdjust="spacingAndGlyphs" opacity="0.72">1-16</text>
<circle cx="926.6" cy="477.2" r="21.8" fill="none" stroke="#55b67f" stroke-width="12.8"/>
<circle cx="926.6" cy="477.2" r="21.8" fill="none" stroke="url(#hd)" stroke-width="12.8"/>
<circle cx="926.6" cy="477.2" r="15.4" fill="url(#hd)" stroke="none" stroke-width="1" opacity="0.85"/>
<circle cx="926.6" cy="477.2" r="28" fill="none" stroke="#e6dede" stroke-width="0.7" opacity="0.75"/>
<circle cx="926.6" cy="477.2" r="15.4" fill="none" stroke="#e6dede" stroke-width="0.6" opacity="0.45"/>
<text x="926.6" y="483.2" font-family='"Liberation Mono", monospace' font-size="18" font-weight="normal" fill="#d8bcbc" text-anchor="middle" textLength="32.6" lengthAdjust="spacingAndGlyphs" opacity="0.72">1-16</text>
<circle cx="413.5" cy="103.3" r="36" fill="#000" stroke="none" stroke-width="1"/>
<circle cx="413.5" cy="103.3" r="22.6" fill="#000" stroke="none" stroke-width="1"/>
<path d="M389.5 79.3 L413.5 103.3" fill="none" stroke="#2a84c8" stroke-width="3.2" stroke-linecap="round" stroke-linejoin="miter"/>
<path d="M413.5 103.3 L440 129.8" fill="none" stroke="#2a84c8" stroke-width="2.2" stroke-linecap="round" stroke-linejoin="miter"/>
<circle cx="413.5" cy="103.3" r="28.8" fill="none" stroke="#3dbb80" stroke-width="12.4" opacity="0.9"/>
<circle cx="413.5" cy="103.3" r="28.8" fill="none" stroke="url(#hx)" stroke-width="12.4"/>
<circle cx="413.5" cy="103.3" r="22.6" fill="url(#hw)" stroke="none" stroke-width="1" opacity="0.8"/>
<circle cx="413.5" cy="103.3" r="34.8" fill="none" stroke="#e6dede" stroke-width="0.7" opacity="0.7"/>
<path d="M388.9 78.7 L397.3 87.1" fill="none" stroke="#35c6a2" stroke-width="3.2" stroke-linecap="butt" stroke-linejoin="miter" opacity="0.85"/>
<path d="M429.7 119.5 L438.1 127.9" fill="none" stroke="#35c6a2" stroke-width="2.2" stroke-linecap="butt" stroke-linejoin="miter" opacity="0.85"/>
<circle cx="575" cy="101" r="36" fill="#000" stroke="none" stroke-width="1"/>
<circle cx="575" cy="101" r="22.6" fill="#000" stroke="none" stroke-width="1"/>
<path d="M553 101 L597 101" fill="none" stroke="#b01414" stroke-width="3" stroke-linecap="butt" stroke-linejoin="miter"/>
<path d="M575 79 L575 123" fill="none" stroke="#b01414" stroke-width="3" stroke-linecap="butt" stroke-linejoin="miter"/>
<circle cx="575" cy="101" r="28.8" fill="none" stroke="#3dbb80" stroke-width="12.4" opacity="0.9"/>
<circle cx="575" cy="101" r="28.8" fill="none" stroke="url(#hx)" stroke-width="12.4"/>
<circle cx="575" cy="101" r="22.6" fill="url(#hw)" stroke="none" stroke-width="1" opacity="0.8"/>
<circle cx="575" cy="101" r="34.8" fill="none" stroke="#e6dede" stroke-width="0.7" opacity="0.7"/>
<path d="M406.5 103.3 L420.5 103.3" fill="none" stroke="#b4b41e" stroke-width="0.8" stroke-linecap="butt" stroke-linejoin="miter"/>
<path d="M413.5 96.3 L413.5 110.3" fill="none" stroke="#b4b41e" stroke-width="0.8" stroke-linecap="butt" stroke-linejoin="miter"/>
<path d="M568 101 L582 101" fill="none" stroke="#b4b41e" stroke-width="0.8" stroke-linecap="butt" stroke-linejoin="miter"/>
<path d="M575 94 L575 108" fill="none" stroke="#b4b41e" stroke-width="0.8" stroke-linecap="butt" stroke-linejoin="miter"/>
<circle cx="730.6" cy="72.4" r="19.8" fill="#000" stroke="none" stroke-width="1"/>
<circle cx="730.6" cy="72.4" r="13.2" fill="#000" stroke="none" stroke-width="1"/>
<path d="M717.6 72.4 L743.6 72.4" fill="none" stroke="#c01616" stroke-width="2.2" stroke-linecap="butt" stroke-linejoin="miter"/>
<path d="M730.6 59.4 L730.6 85.4" fill="none" stroke="#c01616" stroke-width="2.2" stroke-linecap="butt" stroke-linejoin="miter"/>
<circle cx="730.6" cy="72.4" r="16" fill="none" stroke="#3dbb80" stroke-width="5.8" opacity="0.9"/>
<circle cx="730.6" cy="72.4" r="16" fill="none" stroke="url(#hx)" stroke-width="5.8"/>
<circle cx="730.6" cy="72.4" r="13.2" fill="url(#hw)" stroke="none" stroke-width="1" opacity="0.8"/>
<circle cx="730.6" cy="72.4" r="18.9" fill="none" stroke="#e6dede" stroke-width="0.7" opacity="0.7"/>
<circle cx="688.6" cy="98.6" r="19.8" fill="#000" stroke="none" stroke-width="1"/>
<circle cx="688.6" cy="98.6" r="13.2" fill="#000" stroke="none" stroke-width="1"/>
<path d="M675.6 98.6 L701.6 98.6" fill="none" stroke="#c01616" stroke-width="2.2" stroke-linecap="butt" stroke-linejoin="miter"/>
<path d="M688.6 85.6 L688.6 111.6" fill="none" stroke="#c01616" stroke-width="2.2" stroke-linecap="butt" stroke-linejoin="miter"/>
<circle cx="688.6" cy="98.6" r="16" fill="none" stroke="#3dbb80" stroke-width="5.8" opacity="0.9"/>
<circle cx="688.6" cy="98.6" r="16" fill="none" stroke="url(#hx)" stroke-width="5.8"/>
<circle cx="688.6" cy="98.6" r="13.2" fill="url(#hw)" stroke="none" stroke-width="1" opacity="0.8"/>
<circle cx="688.6" cy="98.6" r="18.9" fill="none" stroke="#e6dede" stroke-width="0.7" opacity="0.7"/>
<circle cx="730.6" cy="125" r="19.8" fill="#000" stroke="none" stroke-width="1"/>
<circle cx="730.6" cy="125" r="13.2" fill="#000" stroke="none" stroke-width="1"/>
<path d="M718 137.6 L730.6 125" fill="none" stroke="#2a84c8" stroke-width="2.2" stroke-linecap="round" stroke-linejoin="miter"/>
<circle cx="730.6" cy="125" r="16" fill="none" stroke="#3dbb80" stroke-width="5.8" opacity="0.9"/>
<circle cx="730.6" cy="125" r="16" fill="none" stroke="url(#hx)" stroke-width="5.8"/>
<circle cx="730.6" cy="125" r="13.2" fill="url(#hw)" stroke="none" stroke-width="1" opacity="0.8"/>
<circle cx="730.6" cy="125" r="18.9" fill="none" stroke="#e6dede" stroke-width="0.7" opacity="0.7"/>
<rect x="508.5" y="197.6" width="13.8" height="25.2" fill="#000" stroke="none" stroke-width="1" rx="6.9"/>
<rect x="509.5" y="198.6" width="12.2" height="23.6" fill="#3dbb80" stroke="none" stroke-width="1" rx="6.1" opacity="0.9"/>
<rect x="509.5" y="198.6" width="12.2" height="23.6" fill="url(#hx)" stroke="none" stroke-width="1" rx="6.1"/>
<polygon points="513.2,198.8 519.6,198.8 523.2,202.4 523.2,220.1 519.6,223.7 513.2,223.7 509.6,220.1 509.6,202.4" fill="none" stroke="#e6dede" stroke-width="0.9" opacity="0.85"/>
<circle cx="515.6" cy="210.4" r="2.3" fill="#000" stroke="none" stroke-width="1"/>
<rect x="530.01" y="197.6" width="13.8" height="25.2" fill="#000" stroke="none" stroke-width="1" rx="6.9"/>
<rect x="531.01" y="198.6" width="12.2" height="23.6" fill="#3dbb80" stroke="none" stroke-width="1" rx="6.1" opacity="0.9"/>
<rect x="531.01" y="198.6" width="12.2" height="23.6" fill="url(#hx)" stroke="none" stroke-width="1" rx="6.1"/>
<polygon points="534.71,198.8 541.11,198.8 544.71,202.4 544.71,220.1 541.11,223.7 534.71,223.7 531.11,220.1 531.11,202.4" fill="none" stroke="#e6dede" stroke-width="0.9" opacity="0.85"/>
<circle cx="537.11" cy="210.4" r="2.3" fill="#b01414" stroke="none" stroke-width="1"/>
<circle cx="537.11" cy="209.8" r="1.3" fill="#118ed9" stroke="none" stroke-width="1"/>
<rect x="551.52" y="197.6" width="13.8" height="25.2" fill="#000" stroke="none" stroke-width="1" rx="6.9"/>
<rect x="552.52" y="198.6" width="12.2" height="23.6" fill="#3dbb80" stroke="none" stroke-width="1" rx="6.1" opacity="0.9"/>
<rect x="552.52" y="198.6" width="12.2" height="23.6" fill="url(#hx)" stroke="none" stroke-width="1" rx="6.1"/>
<polygon points="556.22,198.8 562.62,198.8 566.22,202.4 566.22,220.1 562.62,223.7 556.22,223.7 552.62,220.1 552.62,202.4" fill="none" stroke="#e6dede" stroke-width="0.9" opacity="0.85"/>
<circle cx="558.62" cy="210.4" r="2.3" fill="#000" stroke="none" stroke-width="1"/>
<circle cx="558.62" cy="210.4" r="2.1" fill="#118ed9" stroke="none" stroke-width="1"/>
<rect x="573.03" y="197.6" width="13.8" height="25.2" fill="#000" stroke="none" stroke-width="1" rx="6.9"/>
<rect x="574.03" y="198.6" width="12.2" height="23.6" fill="#3dbb80" stroke="none" stroke-width="1" rx="6.1" opacity="0.9"/>
<rect x="574.03" y="198.6" width="12.2" height="23.6" fill="url(#hx)" stroke="none" stroke-width="1" rx="6.1"/>
<polygon points="577.73,198.8 584.13,198.8 587.73,202.4 587.73,220.1 584.13,223.7 577.73,223.7 574.13,220.1 574.13,202.4" fill="none" stroke="#e6dede" stroke-width="0.9" opacity="0.85"/>
<circle cx="580.13" cy="210.4" r="2.3" fill="#000" stroke="none" stroke-width="1"/>
<rect x="594.54" y="197.6" width="13.8" height="25.2" fill="#000" stroke="none" stroke-width="1" rx="6.9"/>
<rect x="595.54" y="198.6" width="12.2" height="23.6" fill="#3dbb80" stroke="none" stroke-width="1" rx="6.1" opacity="0.9"/>
<rect x="595.54" y="198.6" width="12.2" height="23.6" fill="url(#hx)" stroke="none" stroke-width="1" rx="6.1"/>
<polygon points="599.24,198.8 605.64,198.8 609.24,202.4 609.24,220.1 605.64,223.7 599.24,223.7 595.64,220.1 595.64,202.4" fill="none" stroke="#e6dede" stroke-width="0.9" opacity="0.85"/>
<circle cx="601.64" cy="210.4" r="2.3" fill="#000" stroke="none" stroke-width="1"/>
<rect x="616.05" y="197.6" width="13.8" height="25.2" fill="#000" stroke="none" stroke-width="1" rx="6.9"/>
<rect x="617.05" y="198.6" width="12.2" height="23.6" fill="#3dbb80" stroke="none" stroke-width="1" rx="6.1" opacity="0.9"/>
<rect x="617.05" y="198.6" width="12.2" height="23.6" fill="url(#hx)" stroke="none" stroke-width="1" rx="6.1"/>
<polygon points="620.75,198.8 627.15,198.8 630.75,202.4 630.75,220.1 627.15,223.7 620.75,223.7 617.15,220.1 617.15,202.4" fill="none" stroke="#e6dede" stroke-width="0.9" opacity="0.85"/>
<circle cx="623.15" cy="210.4" r="2.3" fill="#000" stroke="none" stroke-width="1"/>
<rect x="637.56" y="197.6" width="13.8" height="25.2" fill="#000" stroke="none" stroke-width="1" rx="6.9"/>
<rect x="638.56" y="198.6" width="12.2" height="23.6" fill="#3dbb80" stroke="none" stroke-width="1" rx="6.1" opacity="0.9"/>
<rect x="638.56" y="198.6" width="12.2" height="23.6" fill="url(#hx)" stroke="none" stroke-width="1" rx="6.1"/>
<polygon points="642.26,198.8 648.66,198.8 652.26,202.4 652.26,220.1 648.66,223.7 642.26,223.7 638.66,220.1 638.66,202.4" fill="none" stroke="#e6dede" stroke-width="0.9" opacity="0.85"/>
<circle cx="644.66" cy="210.4" r="2.3" fill="#000" stroke="none" stroke-width="1"/>
<rect x="659.07" y="197.6" width="13.8" height="25.2" fill="#000" stroke="none" stroke-width="1" rx="6.9"/>
<rect x="660.07" y="198.6" width="12.2" height="23.6" fill="#3dbb80" stroke="none" stroke-width="1" rx="6.1" opacity="0.9"/>
<rect x="660.07" y="198.6" width="12.2" height="23.6" fill="url(#hx)" stroke="none" stroke-width="1" rx="6.1"/>
<polygon points="663.77,198.8 670.17,198.8 673.77,202.4 673.77,220.1 670.17,223.7 663.77,223.7 660.17,220.1 660.17,202.4" fill="none" stroke="#e6dede" stroke-width="0.9" opacity="0.85"/>
<circle cx="666.17" cy="210.4" r="2.3" fill="#000" stroke="none" stroke-width="1"/>
<rect x="680.58" y="197.6" width="13.8" height="25.2" fill="#000" stroke="none" stroke-width="1" rx="6.9"/>
<rect x="681.58" y="198.6" width="12.2" height="23.6" fill="#3dbb80" stroke="none" stroke-width="1" rx="6.1" opacity="0.9"/>
<rect x="681.58" y="198.6" width="12.2" height="23.6" fill="url(#hx)" stroke="none" stroke-width="1" rx="6.1"/>
<polygon points="685.28,198.8 691.68,198.8 695.28,202.4 695.28,220.1 691.68,223.7 685.28,223.7 681.68,220.1 681.68,202.4" fill="none" stroke="#e6dede" stroke-width="0.9" opacity="0.85"/>
<circle cx="687.68" cy="210.4" r="2.3" fill="#000" stroke="none" stroke-width="1"/>
<rect x="702.09" y="197.6" width="13.8" height="25.2" fill="#000" stroke="none" stroke-width="1" rx="6.9"/>
<rect x="703.09" y="198.6" width="12.2" height="23.6" fill="#3dbb80" stroke="none" stroke-width="1" rx="6.1" opacity="0.9"/>
<rect x="703.09" y="198.6" width="12.2" height="23.6" fill="url(#hx)" stroke="none" stroke-width="1" rx="6.1"/>
<polygon points="706.79,198.8 713.19,198.8 716.79,202.4 716.79,220.1 713.19,223.7 706.79,223.7 703.19,220.1 703.19,202.4" fill="none" stroke="#e6dede" stroke-width="0.9" opacity="0.85"/>
<circle cx="709.19" cy="210.4" r="2.3" fill="#000" stroke="none" stroke-width="1"/>
<rect x="723.6" y="197.6" width="13.8" height="25.2" fill="#000" stroke="none" stroke-width="1" rx="6.9"/>
<rect x="724.6" y="198.6" width="12.2" height="23.6" fill="#3dbb80" stroke="none" stroke-width="1" rx="6.1" opacity="0.9"/>
<rect x="724.6" y="198.6" width="12.2" height="23.6" fill="url(#hx)" stroke="none" stroke-width="1" rx="6.1"/>
<polygon points="728.3,198.8 734.7,198.8 738.3,202.4 738.3,220.1 734.7,223.7 728.3,223.7 724.7,220.1 724.7,202.4" fill="none" stroke="#e6dede" stroke-width="0.9" opacity="0.85"/>
<circle cx="730.7" cy="210.4" r="2.3" fill="#000" stroke="none" stroke-width="1"/>
<rect x="745.11" y="197.6" width="13.8" height="25.2" fill="#000" stroke="none" stroke-width="1" rx="6.9"/>
<rect x="746.11" y="198.6" width="12.2" height="23.6" fill="#3dbb80" stroke="none" stroke-width="1" rx="6.1" opacity="0.9"/>
<rect x="746.11" y="198.6" width="12.2" height="23.6" fill="url(#hx)" stroke="none" stroke-width="1" rx="6.1"/>
<polygon points="749.81,198.8 756.21,198.8 759.81,202.4 759.81,220.1 756.21,223.7 749.81,223.7 746.21,220.1 746.21,202.4" fill="none" stroke="#e6dede" stroke-width="0.9" opacity="0.85"/>
<circle cx="752.21" cy="210.4" r="2.3" fill="#000" stroke="none" stroke-width="1"/>
<rect x="766.62" y="197.6" width="13.8" height="25.2" fill="#000" stroke="none" stroke-width="1" rx="6.9"/>
<rect x="767.62" y="198.6" width="12.2" height="23.6" fill="#3dbb80" stroke="none" stroke-width="1" rx="6.1" opacity="0.9"/>
<rect x="767.62" y="198.6" width="12.2" height="23.6" fill="url(#hx)" stroke="none" stroke-width="1" rx="6.1"/>
<polygon points="771.32,198.8 777.72,198.8 781.32,202.4 781.32,220.1 777.72,223.7 771.32,223.7 767.72,220.1 767.72,202.4" fill="none" stroke="#e6dede" stroke-width="0.9" opacity="0.85"/>
<circle cx="773.72" cy="210.4" r="2.3" fill="#000" stroke="none" stroke-width="1"/>
<rect x="788.13" y="197.6" width="13.8" height="25.2" fill="#000" stroke="none" stroke-width="1" rx="6.9"/>
<rect x="789.13" y="198.6" width="12.2" height="23.6" fill="#3dbb80" stroke="none" stroke-width="1" rx="6.1" opacity="0.9"/>
<rect x="789.13" y="198.6" width="12.2" height="23.6" fill="url(#hx)" stroke="none" stroke-width="1" rx="6.1"/>
<polygon points="792.83,198.8 799.23,198.8 802.83,202.4 802.83,220.1 799.23,223.7 792.83,223.7 789.23,220.1 789.23,202.4" fill="none" stroke="#e6dede" stroke-width="0.9" opacity="0.85"/>
<circle cx="795.23" cy="210.4" r="2.3" fill="#000" stroke="none" stroke-width="1"/>
<rect x="809.64" y="197.6" width="13.8" height="25.2" fill="#000" stroke="none" stroke-width="1" rx="6.9"/>
<rect x="810.64" y="198.6" width="12.2" height="23.6" fill="#3dbb80" stroke="none" stroke-width="1" rx="6.1" opacity="0.9"/>
<rect x="810.64" y="198.6" width="12.2" height="23.6" fill="url(#hx)" stroke="none" stroke-width="1" rx="6.1"/>
<polygon points="814.34,198.8 820.74,198.8 824.34,202.4 824.34,220.1 820.74,223.7 814.34,223.7 810.74,220.1 810.74,202.4" fill="none" stroke="#e6dede" stroke-width="0.9" opacity="0.85"/>
<circle cx="816.74" cy="210.4" r="2.3" fill="#000" stroke="none" stroke-width="1"/>
<rect x="831.15" y="197.6" width="13.8" height="25.2" fill="#000" stroke="none" stroke-width="1" rx="6.9"/>
<rect x="832.15" y="198.6" width="12.2" height="23.6" fill="#3dbb80" stroke="none" stroke-width="1" rx="6.1" opacity="0.9"/>
<rect x="832.15" y="198.6" width="12.2" height="23.6" fill="url(#hx)" stroke="none" stroke-width="1" rx="6.1"/>
<polygon points="835.85,198.8 842.25,198.8 845.85,202.4 845.85,220.1 842.25,223.7 835.85,223.7 832.25,220.1 832.25,202.4" fill="none" stroke="#e6dede" stroke-width="0.9" opacity="0.85"/>
<circle cx="838.25" cy="210.4" r="2.3" fill="#000" stroke="none" stroke-width="1"/>
<rect x="852.66" y="197.6" width="13.8" height="25.2" fill="#000" stroke="none" stroke-width="1" rx="6.9"/>
<rect x="853.66" y="198.6" width="12.2" height="23.6" fill="#3dbb80" stroke="none" stroke-width="1" rx="6.1" opacity="0.9"/>
<rect x="853.66" y="198.6" width="12.2" height="23.6" fill="url(#hx)" stroke="none" stroke-width="1" rx="6.1"/>
<polygon points="857.36,198.8 863.76,198.8 867.36,202.4 867.36,220.1 863.76,223.7 857.36,223.7 853.76,220.1 853.76,202.4" fill="none" stroke="#e6dede" stroke-width="0.9" opacity="0.85"/>
<circle cx="859.76" cy="210.4" r="2.3" fill="#000" stroke="none" stroke-width="1"/>
<rect x="874.17" y="197.6" width="13.8" height="25.2" fill="#000" stroke="none" stroke-width="1" rx="6.9"/>
<rect x="875.17" y="198.6" width="12.2" height="23.6" fill="#3dbb80" stroke="none" stroke-width="1" rx="6.1" opacity="0.9"/>
<rect x="875.17" y="198.6" width="12.2" height="23.6" fill="url(#hx)" stroke="none" stroke-width="1" rx="6.1"/>
<polygon points="878.87,198.8 885.27,198.8 888.87,202.4 888.87,220.1 885.27,223.7 878.87,223.7 875.27,220.1 875.27,202.4" fill="none" stroke="#e6dede" stroke-width="0.9" opacity="0.85"/>
<circle cx="881.27" cy="210.4" r="2.3" fill="#000" stroke="none" stroke-width="1"/>
<rect x="895.68" y="197.6" width="13.8" height="25.2" fill="#000" stroke="none" stroke-width="1" rx="6.9"/>
<rect x="896.68" y="198.6" width="12.2" height="23.6" fill="#3dbb80" stroke="none" stroke-width="1" rx="6.1" opacity="0.9"/>
<rect x="896.68" y="198.6" width="12.2" height="23.6" fill="url(#hx)" stroke="none" stroke-width="1" rx="6.1"/>
<polygon points="900.38,198.8 906.78,198.8 910.38,202.4 910.38,220.1 906.78,223.7 900.38,223.7 896.78,220.1 896.78,202.4" fill="none" stroke="#e6dede" stroke-width="0.9" opacity="0.85"/>
<circle cx="902.78" cy="210.4" r="2.3" fill="#000" stroke="none" stroke-width="1"/>
<rect x="917.19" y="197.6" width="13.8" height="25.2" fill="#000" stroke="none" stroke-width="1" rx="6.9"/>
<rect x="918.19" y="198.6" width="12.2" height="23.6" fill="#3dbb80" stroke="none" stroke-width="1" rx="6.1" opacity="0.9"/>
<rect x="918.19" y="198.6" width="12.2" height="23.6" fill="url(#hx)" stroke="none" stroke-width="1" rx="6.1"/>
<polygon points="921.89,198.8 928.29,198.8 931.89,202.4 931.89,220.1 928.29,223.7 921.89,223.7 918.29,220.1 918.29,202.4" fill="none" stroke="#e6dede" stroke-width="0.9" opacity="0.85"/>
<circle cx="924.29" cy="210.4" r="2.3" fill="#000" stroke="none" stroke-width="1"/>
<rect x="508.5" y="326.8" width="13.8" height="25.2" fill="#000" stroke="none" stroke-width="1" rx="6.9"/>
<rect x="509.5" y="327.8" width="12.2" height="23.6" fill="#3dbb80" stroke="none" stroke-width="1" rx="6.1" opacity="0.9"/>
<rect x="509.5" y="327.8" width="12.2" height="23.6" fill="url(#hx)" stroke="none" stroke-width="1" rx="6.1"/>
<polygon points="513.2,328 519.6,328 523.2,331.6 523.2,349.3 519.6,352.9 513.2,352.9 509.6,349.3 509.6,331.6" fill="none" stroke="#e6dede" stroke-width="0.9" opacity="0.85"/>
<circle cx="515.6" cy="339.6" r="2.3" fill="#000" stroke="none" stroke-width="1"/>
<rect x="530.01" y="326.8" width="13.8" height="25.2" fill="#000" stroke="none" stroke-width="1" rx="6.9"/>
<rect x="531.01" y="327.8" width="12.2" height="23.6" fill="#3dbb80" stroke="none" stroke-width="1" rx="6.1" opacity="0.9"/>
<rect x="531.01" y="327.8" width="12.2" height="23.6" fill="url(#hx)" stroke="none" stroke-width="1" rx="6.1"/>
<polygon points="534.71,328 541.11,328 544.71,331.6 544.71,349.3 541.11,352.9 534.71,352.9 531.11,349.3 531.11,331.6" fill="none" stroke="#e6dede" stroke-width="0.9" opacity="0.85"/>
<circle cx="537.11" cy="339.6" r="2.3" fill="#000" stroke="none" stroke-width="1"/>
<rect x="551.52" y="326.8" width="13.8" height="25.2" fill="#000" stroke="none" stroke-width="1" rx="6.9"/>
<rect x="552.52" y="327.8" width="12.2" height="23.6" fill="#3dbb80" stroke="none" stroke-width="1" rx="6.1" opacity="0.9"/>
<rect x="552.52" y="327.8" width="12.2" height="23.6" fill="url(#hx)" stroke="none" stroke-width="1" rx="6.1"/>
<polygon points="556.22,328 562.62,328 566.22,331.6 566.22,349.3 562.62,352.9 556.22,352.9 552.62,349.3 552.62,331.6" fill="none" stroke="#e6dede" stroke-width="0.9" opacity="0.85"/>
<circle cx="558.62" cy="339.6" r="2.3" fill="#000" stroke="none" stroke-width="1"/>
<rect x="573.03" y="326.8" width="13.8" height="25.2" fill="#000" stroke="none" stroke-width="1" rx="6.9"/>
<rect x="574.03" y="327.8" width="12.2" height="23.6" fill="#3dbb80" stroke="none" stroke-width="1" rx="6.1" opacity="0.9"/>
<rect x="574.03" y="327.8" width="12.2" height="23.6" fill="url(#hx)" stroke="none" stroke-width="1" rx="6.1"/>
<polygon points="577.73,328 584.13,328 587.73,331.6 587.73,349.3 584.13,352.9 577.73,352.9 574.13,349.3 574.13,331.6" fill="none" stroke="#e6dede" stroke-width="0.9" opacity="0.85"/>
<circle cx="580.13" cy="339.6" r="2.3" fill="#000" stroke="none" stroke-width="1"/>
<rect x="594.54" y="326.8" width="13.8" height="25.2" fill="#000" stroke="none" stroke-width="1" rx="6.9"/>
<rect x="595.54" y="327.8" width="12.2" height="23.6" fill="#3dbb80" stroke="none" stroke-width="1" rx="6.1" opacity="0.9"/>
<rect x="595.54" y="327.8" width="12.2" height="23.6" fill="url(#hx)" stroke="none" stroke-width="1" rx="6.1"/>
<polygon points="599.24,328 605.64,328 609.24,331.6 609.24,349.3 605.64,352.9 599.24,352.9 595.64,349.3 595.64,331.6" fill="none" stroke="#e6dede" stroke-width="0.9" opacity="0.85"/>
<circle cx="601.64" cy="339.6" r="2.3" fill="#000" stroke="none" stroke-width="1"/>
<circle cx="601.64" cy="339.6" r="2.1" fill="#118ed9" stroke="none" stroke-width="1"/>
<rect x="616.05" y="326.8" width="13.8" height="25.2" fill="#000" stroke="none" stroke-width="1" rx="6.9"/>
<rect x="617.05" y="327.8" width="12.2" height="23.6" fill="#3dbb80" stroke="none" stroke-width="1" rx="6.1" opacity="0.9"/>
<rect x="617.05" y="327.8" width="12.2" height="23.6" fill="url(#hx)" stroke="none" stroke-width="1" rx="6.1"/>
<polygon points="620.75,328 627.15,328 630.75,331.6 630.75,349.3 627.15,352.9 620.75,352.9 617.15,349.3 617.15,331.6" fill="none" stroke="#e6dede" stroke-width="0.9" opacity="0.85"/>
<circle cx="623.15" cy="339.6" r="2.3" fill="#000" stroke="none" stroke-width="1"/>
<circle cx="623.15" cy="339.6" r="2.1" fill="#118ed9" stroke="none" stroke-width="1"/>
<rect x="637.56" y="326.8" width="13.8" height="25.2" fill="#000" stroke="none" stroke-width="1" rx="6.9"/>
<rect x="638.56" y="327.8" width="12.2" height="23.6" fill="#3dbb80" stroke="none" stroke-width="1" rx="6.1" opacity="0.9"/>
<rect x="638.56" y="327.8" width="12.2" height="23.6" fill="url(#hx)" stroke="none" stroke-width="1" rx="6.1"/>
<polygon points="642.26,328 648.66,328 652.26,331.6 652.26,349.3 648.66,352.9 642.26,352.9 638.66,349.3 638.66,331.6" fill="none" stroke="#e6dede" stroke-width="0.9" opacity="0.85"/>
<circle cx="644.66" cy="339.6" r="2.3" fill="#000" stroke="none" stroke-width="1"/>
<rect x="659.07" y="326.8" width="13.8" height="25.2" fill="#000" stroke="none" stroke-width="1" rx="6.9"/>
<rect x="660.07" y="327.8" width="12.2" height="23.6" fill="#3dbb80" stroke="none" stroke-width="1" rx="6.1" opacity="0.9"/>
<rect x="660.07" y="327.8" width="12.2" height="23.6" fill="url(#hx)" stroke="none" stroke-width="1" rx="6.1"/>
<polygon points="663.77,328 670.17,328 673.77,331.6 673.77,349.3 670.17,352.9 663.77,352.9 660.17,349.3 660.17,331.6" fill="none" stroke="#e6dede" stroke-width="0.9" opacity="0.85"/>
<circle cx="666.17" cy="339.6" r="2.3" fill="#000" stroke="none" stroke-width="1"/>
<rect x="680.58" y="326.8" width="13.8" height="25.2" fill="#000" stroke="none" stroke-width="1" rx="6.9"/>
<rect x="681.58" y="327.8" width="12.2" height="23.6" fill="#3dbb80" stroke="none" stroke-width="1" rx="6.1" opacity="0.9"/>
<rect x="681.58" y="327.8" width="12.2" height="23.6" fill="url(#hx)" stroke="none" stroke-width="1" rx="6.1"/>
<polygon points="685.28,328 691.68,328 695.28,331.6 695.28,349.3 691.68,352.9 685.28,352.9 681.68,349.3 681.68,331.6" fill="none" stroke="#e6dede" stroke-width="0.9" opacity="0.85"/>
<circle cx="687.68" cy="339.6" r="2.3" fill="#000" stroke="none" stroke-width="1"/>
<rect x="702.09" y="326.8" width="13.8" height="25.2" fill="#000" stroke="none" stroke-width="1" rx="6.9"/>
<rect x="703.09" y="327.8" width="12.2" height="23.6" fill="#3dbb80" stroke="none" stroke-width="1" rx="6.1" opacity="0.9"/>
<rect x="703.09" y="327.8" width="12.2" height="23.6" fill="url(#hx)" stroke="none" stroke-width="1" rx="6.1"/>
<polygon points="706.79,328 713.19,328 716.79,331.6 716.79,349.3 713.19,352.9 706.79,352.9 703.19,349.3 703.19,331.6" fill="none" stroke="#e6dede" stroke-width="0.9" opacity="0.85"/>
<circle cx="709.19" cy="339.6" r="2.3" fill="#000" stroke="none" stroke-width="1"/>
<rect x="723.6" y="326.8" width="13.8" height="25.2" fill="#000" stroke="none" stroke-width="1" rx="6.9"/>
<rect x="724.6" y="327.8" width="12.2" height="23.6" fill="#3dbb80" stroke="none" stroke-width="1" rx="6.1" opacity="0.9"/>
<rect x="724.6" y="327.8" width="12.2" height="23.6" fill="url(#hx)" stroke="none" stroke-width="1" rx="6.1"/>
<polygon points="728.3,328 734.7,328 738.3,331.6 738.3,349.3 734.7,352.9 728.3,352.9 724.7,349.3 724.7,331.6" fill="none" stroke="#e6dede" stroke-width="0.9" opacity="0.85"/>
<circle cx="730.7" cy="339.6" r="2.3" fill="#000" stroke="none" stroke-width="1"/>
<circle cx="730.7" cy="339.6" r="2.1" fill="#118ed9" stroke="none" stroke-width="1"/>
<rect x="745.11" y="326.8" width="13.8" height="25.2" fill="#000" stroke="none" stroke-width="1" rx="6.9"/>
<rect x="746.11" y="327.8" width="12.2" height="23.6" fill="#3dbb80" stroke="none" stroke-width="1" rx="6.1" opacity="0.9"/>
<rect x="746.11" y="327.8" width="12.2" height="23.6" fill="url(#hx)" stroke="none" stroke-width="1" rx="6.1"/>
<polygon points="749.81,328 756.21,328 759.81,331.6 759.81,349.3 756.21,352.9 749.81,352.9 746.21,349.3 746.21,331.6" fill="none" stroke="#e6dede" stroke-width="0.9" opacity="0.85"/>
<circle cx="752.21" cy="339.6" r="2.3" fill="#000" stroke="none" stroke-width="1"/>
<circle cx="752.21" cy="339.6" r="2.1" fill="#118ed9" stroke="none" stroke-width="1"/>
<rect x="766.62" y="326.8" width="13.8" height="25.2" fill="#000" stroke="none" stroke-width="1" rx="6.9"/>
<rect x="767.62" y="327.8" width="12.2" height="23.6" fill="#3dbb80" stroke="none" stroke-width="1" rx="6.1" opacity="0.9"/>
<rect x="767.62" y="327.8" width="12.2" height="23.6" fill="url(#hx)" stroke="none" stroke-width="1" rx="6.1"/>
<polygon points="771.32,328 777.72,328 781.32,331.6 781.32,349.3 777.72,352.9 771.32,352.9 767.72,349.3 767.72,331.6" fill="none" stroke="#e6dede" stroke-width="0.9" opacity="0.85"/>
<circle cx="773.72" cy="339.6" r="2.3" fill="#000" stroke="none" stroke-width="1"/>
<circle cx="773.72" cy="339.6" r="2.1" fill="#118ed9" stroke="none" stroke-width="1"/>
<rect x="788.13" y="326.8" width="13.8" height="25.2" fill="#000" stroke="none" stroke-width="1" rx="6.9"/>
<rect x="789.13" y="327.8" width="12.2" height="23.6" fill="#3dbb80" stroke="none" stroke-width="1" rx="6.1" opacity="0.9"/>
<rect x="789.13" y="327.8" width="12.2" height="23.6" fill="url(#hx)" stroke="none" stroke-width="1" rx="6.1"/>
<polygon points="792.83,328 799.23,328 802.83,331.6 802.83,349.3 799.23,352.9 792.83,352.9 789.23,349.3 789.23,331.6" fill="none" stroke="#e6dede" stroke-width="0.9" opacity="0.85"/>
<circle cx="795.23" cy="339.6" r="2.3" fill="#000" stroke="none" stroke-width="1"/>
<circle cx="795.23" cy="339.6" r="2.1" fill="#118ed9" stroke="none" stroke-width="1"/>
<rect x="809.64" y="326.8" width="13.8" height="25.2" fill="#000" stroke="none" stroke-width="1" rx="6.9"/>
<rect x="810.64" y="327.8" width="12.2" height="23.6" fill="#3dbb80" stroke="none" stroke-width="1" rx="6.1" opacity="0.9"/>
<rect x="810.64" y="327.8" width="12.2" height="23.6" fill="url(#hx)" stroke="none" stroke-width="1" rx="6.1"/>
<polygon points="814.34,328 820.74,328 824.34,331.6 824.34,349.3 820.74,352.9 814.34,352.9 810.74,349.3 810.74,331.6" fill="none" stroke="#e6dede" stroke-width="0.9" opacity="0.85"/>
<circle cx="816.74" cy="339.6" r="2.3" fill="#000" stroke="none" stroke-width="1"/>
<circle cx="816.74" cy="339.6" r="2.1" fill="#118ed9" stroke="none" stroke-width="1"/>
<rect x="831.15" y="326.8" width="13.8" height="25.2" fill="#000" stroke="none" stroke-width="1" rx="6.9"/>
<rect x="832.15" y="327.8" width="12.2" height="23.6" fill="#3dbb80" stroke="none" stroke-width="1" rx="6.1" opacity="0.9"/>
<rect x="832.15" y="327.8" width="12.2" height="23.6" fill="url(#hx)" stroke="none" stroke-width="1" rx="6.1"/>
<polygon points="835.85,328 842.25,328 845.85,331.6 845.85,349.3 842.25,352.9 835.85,352.9 832.25,349.3 832.25,331.6" fill="none" stroke="#e6dede" stroke-width="0.9" opacity="0.85"/>
<circle cx="838.25" cy="339.6" r="2.3" fill="#000" stroke="none" stroke-width="1"/>
<circle cx="838.25" cy="339.6" r="2.1" fill="#118ed9" stroke="none" stroke-width="1"/>
<rect x="852.66" y="326.8" width="13.8" height="25.2" fill="#000" stroke="none" stroke-width="1" rx="6.9"/>
<rect x="853.66" y="327.8" width="12.2" height="23.6" fill="#3dbb80" stroke="none" stroke-width="1" rx="6.1" opacity="0.9"/>
<rect x="853.66" y="327.8" width="12.2" height="23.6" fill="url(#hx)" stroke="none" stroke-width="1" rx="6.1"/>
<polygon points="857.36,328 863.76,328 867.36,331.6 867.36,349.3 863.76,352.9 857.36,352.9 853.76,349.3 853.76,331.6" fill="none" stroke="#e6dede" stroke-width="0.9" opacity="0.85"/>
<circle cx="859.76" cy="339.6" r="2.3" fill="#000" stroke="none" stroke-width="1"/>
<circle cx="859.76" cy="339.6" r="2.1" fill="#118ed9" stroke="none" stroke-width="1"/>
<rect x="874.17" y="326.8" width="13.8" height="25.2" fill="#000" stroke="none" stroke-width="1" rx="6.9"/>
<rect x="875.17" y="327.8" width="12.2" height="23.6" fill="#3dbb80" stroke="none" stroke-width="1" rx="6.1" opacity="0.9"/>
<rect x="875.17" y="327.8" width="12.2" height="23.6" fill="url(#hx)" stroke="none" stroke-width="1" rx="6.1"/>
<polygon points="878.87,328 885.27,328 888.87,331.6 888.87,349.3 885.27,352.9 878.87,352.9 875.27,349.3 875.27,331.6" fill="none" stroke="#e6dede" stroke-width="0.9" opacity="0.85"/>
<circle cx="881.27" cy="339.6" r="2.3" fill="#000" stroke="none" stroke-width="1"/>
<circle cx="881.27" cy="339.6" r="2.1" fill="#118ed9" stroke="none" stroke-width="1"/>
<rect x="895.68" y="326.8" width="13.8" height="25.2" fill="#000" stroke="none" stroke-width="1" rx="6.9"/>
<rect x="896.68" y="327.8" width="12.2" height="23.6" fill="#3dbb80" stroke="none" stroke-width="1" rx="6.1" opacity="0.9"/>
<rect x="896.68" y="327.8" width="12.2" height="23.6" fill="url(#hx)" stroke="none" stroke-width="1" rx="6.1"/>
<polygon points="900.38,328 906.78,328 910.38,331.6 910.38,349.3 906.78,352.9 900.38,352.9 896.78,349.3 896.78,331.6" fill="none" stroke="#e6dede" stroke-width="0.9" opacity="0.85"/>
<circle cx="902.78" cy="339.6" r="2.4" fill="#c01818" stroke="none" stroke-width="1"/>
<rect x="917.19" y="326.8" width="13.8" height="25.2" fill="#000" stroke="none" stroke-width="1" rx="6.9"/>
<rect x="918.19" y="327.8" width="12.2" height="23.6" fill="#3dbb80" stroke="none" stroke-width="1" rx="6.1" opacity="0.9"/>
<rect x="918.19" y="327.8" width="12.2" height="23.6" fill="url(#hx)" stroke="none" stroke-width="1" rx="6.1"/>
<polygon points="921.89,328 928.29,328 931.89,331.6 931.89,349.3 928.29,352.9 921.89,352.9 918.29,349.3 918.29,331.6" fill="none" stroke="#e6dede" stroke-width="0.9" opacity="0.85"/>
<circle cx="924.29" cy="339.6" r="2.4" fill="#c01818" stroke="none" stroke-width="1"/>
<rect x="679.68" y="389.8" width="15.6" height="27.2" fill="#000" stroke="none" stroke-width="1" rx="7.8"/>
<rect x="680.68" y="390.8" width="14" height="25.6" fill="#3dbb80" stroke="none" stroke-width="1" rx="7" opacity="0.9"/>
<rect x="680.68" y="390.8" width="14" height="25.6" fill="url(#hx)" stroke="none" stroke-width="1" rx="7"/>
<circle cx="687.68" cy="403.6" r="3" fill="#d01c1c" stroke="none" stroke-width="1"/>
<circle cx="687.68" cy="403.6" r="2.1" fill="#d6b4b8" stroke="none" stroke-width="1"/>
<rect x="701.19" y="389.8" width="15.6" height="27.2" fill="#000" stroke="none" stroke-width="1" rx="7.8"/>
<rect x="702.19" y="390.8" width="14" height="25.6" fill="#3dbb80" stroke="none" stroke-width="1" rx="7" opacity="0.9"/>
<rect x="702.19" y="390.8" width="14" height="25.6" fill="url(#hx)" stroke="none" stroke-width="1" rx="7"/>
<circle cx="709.19" cy="403.6" r="3" fill="#d01c1c" stroke="none" stroke-width="1"/>
<circle cx="709.19" cy="403.6" r="2.1" fill="#d6b4b8" stroke="none" stroke-width="1"/>
<rect x="722.7" y="389.8" width="15.6" height="27.2" fill="#000" stroke="none" stroke-width="1" rx="7.8"/>
<rect x="723.7" y="390.8" width="14" height="25.6" fill="#3dbb80" stroke="none" stroke-width="1" rx="7" opacity="0.9"/>
<rect x="723.7" y="390.8" width="14" height="25.6" fill="url(#hx)" stroke="none" stroke-width="1" rx="7"/>
<circle cx="730.7" cy="403.6" r="2.6" fill="#b8b4b8" stroke="none" stroke-width="1"/>
<rect x="744.21" y="389.8" width="15.6" height="27.2" fill="#000" stroke="none" stroke-width="1" rx="7.8"/>
<rect x="745.21" y="390.8" width="14" height="25.6" fill="#3dbb80" stroke="none" stroke-width="1" rx="7" opacity="0.9"/>
<rect x="745.21" y="390.8" width="14" height="25.6" fill="url(#hx)" stroke="none" stroke-width="1" rx="7"/>
<circle cx="752.21" cy="403.6" r="2.6" fill="#b8b4b8" stroke="none" stroke-width="1"/>
<rect x="765.72" y="389.8" width="15.6" height="27.2" fill="#000" stroke="none" stroke-width="1" rx="7.8"/>
<rect x="766.72" y="390.8" width="14" height="25.6" fill="#3dbb80" stroke="none" stroke-width="1" rx="7" opacity="0.9"/>
<rect x="766.72" y="390.8" width="14" height="25.6" fill="url(#hx)" stroke="none" stroke-width="1" rx="7"/>
<circle cx="773.72" cy="403.6" r="2.6" fill="#b8b4b8" stroke="none" stroke-width="1"/>
<rect x="787.23" y="389.8" width="15.6" height="27.2" fill="#000" stroke="none" stroke-width="1" rx="7.8"/>
<rect x="788.23" y="390.8" width="14" height="25.6" fill="#3dbb80" stroke="none" stroke-width="1" rx="7" opacity="0.9"/>
<rect x="788.23" y="390.8" width="14" height="25.6" fill="url(#hx)" stroke="none" stroke-width="1" rx="7"/>
<circle cx="795.23" cy="403.6" r="2.6" fill="#b8b4b8" stroke="none" stroke-width="1"/>
<rect x="808.74" y="389.8" width="15.6" height="27.2" fill="#000" stroke="none" stroke-width="1" rx="7.8"/>
<rect x="809.74" y="390.8" width="14" height="25.6" fill="#3dbb80" stroke="none" stroke-width="1" rx="7" opacity="0.9"/>
<rect x="809.74" y="390.8" width="14" height="25.6" fill="url(#hx)" stroke="none" stroke-width="1" rx="7"/>
<circle cx="816.74" cy="403.6" r="2.6" fill="#b8b4b8" stroke="none" stroke-width="1"/>
<rect x="830.25" y="389.8" width="15.6" height="27.2" fill="#000" stroke="none" stroke-width="1" rx="7.8"/>
<rect x="831.25" y="390.8" width="14" height="25.6" fill="#3dbb80" stroke="none" stroke-width="1" rx="7" opacity="0.9"/>
<rect x="831.25" y="390.8" width="14" height="25.6" fill="url(#hx)" stroke="none" stroke-width="1" rx="7"/>
<circle cx="838.25" cy="403.6" r="2.6" fill="#b8b4b8" stroke="none" stroke-width="1"/>
<rect x="851.76" y="389.8" width="15.6" height="27.2" fill="#000" stroke="none" stroke-width="1" rx="7.8"/>
<rect x="852.76" y="390.8" width="14" height="25.6" fill="#3dbb80" stroke="none" stroke-width="1" rx="7" opacity="0.9"/>
<rect x="852.76" y="390.8" width="14" height="25.6" fill="url(#hx)" stroke="none" stroke-width="1" rx="7"/>
<circle cx="859.76" cy="403.6" r="2.6" fill="#b8b4b8" stroke="none" stroke-width="1"/>
<rect x="873.27" y="389.8" width="15.6" height="27.2" fill="#000" stroke="none" stroke-width="1" rx="7.8"/>
<rect x="874.27" y="390.8" width="14" height="25.6" fill="#3dbb80" stroke="none" stroke-width="1" rx="7" opacity="0.9"/>
<rect x="874.27" y="390.8" width="14" height="25.6" fill="url(#hx)" stroke="none" stroke-width="1" rx="7"/>
<circle cx="881.27" cy="403.6" r="2.6" fill="#b8b4b8" stroke="none" stroke-width="1"/>
<circle cx="54.1" cy="135.1" r="9.2" fill="#000" stroke="none" stroke-width="1"/>
<circle cx="54.4" cy="135.4" r="4.6" fill="#000" stroke="none" stroke-width="1"/>
<path d="M52.2 135.4 L59 135.4" fill="none" stroke="#118ed9" stroke-width="3.2" stroke-linecap="butt" stroke-linejoin="miter"/>
<circle cx="54.4" cy="135.4" r="6.6" fill="none" stroke="#3dbb80" stroke-width="4.2" opacity="0.88"/>
<circle cx="54.4" cy="135.4" r="6.6" fill="none" stroke="url(#hx)" stroke-width="4.2"/>
<circle cx="54.4" cy="135.4" r="8.7" fill="none" stroke="#e6dede" stroke-width="0.7" opacity="0.75"/>
<circle cx="96" cy="135.1" r="9.2" fill="#000" stroke="none" stroke-width="1"/>
<circle cx="96.3" cy="135.4" r="4.6" fill="#000" stroke="none" stroke-width="1"/>
<path d="M94.1 135.4 L100.9 135.4" fill="none" stroke="#118ed9" stroke-width="3.2" stroke-linecap="butt" stroke-linejoin="miter"/>
<circle cx="96.3" cy="135.4" r="6.6" fill="none" stroke="#3dbb80" stroke-width="4.2" opacity="0.88"/>
<circle cx="96.3" cy="135.4" r="6.6" fill="none" stroke="url(#hx)" stroke-width="4.2"/>
<circle cx="96.3" cy="135.4" r="8.7" fill="none" stroke="#e6dede" stroke-width="0.7" opacity="0.75"/>
<circle cx="54.1" cy="200.1" r="9.2" fill="#000" stroke="none" stroke-width="1"/>
<circle cx="54.4" cy="200.4" r="4.6" fill="#000" stroke="none" stroke-width="1"/>
<path d="M52.2 200.4 L59 200.4" fill="none" stroke="#118ed9" stroke-width="3.2" stroke-linecap="butt" stroke-linejoin="miter"/>
<circle cx="54.4" cy="200.4" r="6.6" fill="none" stroke="#3dbb80" stroke-width="4.2" opacity="0.88"/>
<circle cx="54.4" cy="200.4" r="6.6" fill="none" stroke="url(#hx)" stroke-width="4.2"/>
<circle cx="54.4" cy="200.4" r="8.7" fill="none" stroke="#e6dede" stroke-width="0.7" opacity="0.75"/>
<circle cx="96" cy="200.1" r="9.2" fill="#000" stroke="none" stroke-width="1"/>
<circle cx="96.3" cy="200.4" r="4.6" fill="#000" stroke="none" stroke-width="1"/>
<path d="M94.1 200.4 L100.9 200.4" fill="none" stroke="#118ed9" stroke-width="3.2" stroke-linecap="butt" stroke-linejoin="miter"/>
<circle cx="96.3" cy="200.4" r="6.6" fill="none" stroke="#3dbb80" stroke-width="4.2" opacity="0.88"/>
<circle cx="96.3" cy="200.4" r="6.6" fill="none" stroke="url(#hx)" stroke-width="4.2"/>
<circle cx="96.3" cy="200.4" r="8.7" fill="none" stroke="#e6dede" stroke-width="0.7" opacity="0.75"/>
<circle cx="54.1" cy="328.1" r="9.2" fill="#000" stroke="none" stroke-width="1"/>
<circle cx="54.4" cy="328.4" r="4.6" fill="#000" stroke="none" stroke-width="1"/>
<path d="M52.2 328.4 L59 328.4" fill="none" stroke="#118ed9" stroke-width="3.2" stroke-linecap="butt" stroke-linejoin="miter"/>
<circle cx="54.4" cy="328.4" r="6.6" fill="none" stroke="#3dbb80" stroke-width="4.2" opacity="0.88"/>
<circle cx="54.4" cy="328.4" r="6.6" fill="none" stroke="url(#hx)" stroke-width="4.2"/>
<circle cx="54.4" cy="328.4" r="8.7" fill="none" stroke="#e6dede" stroke-width="0.7" opacity="0.75"/>
<circle cx="96" cy="328.1" r="9.2" fill="#000" stroke="none" stroke-width="1"/>
<circle cx="96.3" cy="328.4" r="4.6" fill="#000" stroke="none" stroke-width="1"/>
<path d="M94.1 328.4 L100.9 328.4" fill="none" stroke="#118ed9" stroke-width="3.2" stroke-linecap="butt" stroke-linejoin="miter"/>
<circle cx="96.3" cy="328.4" r="6.6" fill="none" stroke="#3dbb80" stroke-width="4.2" opacity="0.88"/>
<circle cx="96.3" cy="328.4" r="6.6" fill="none" stroke="url(#hx)" stroke-width="4.2"/>
<circle cx="96.3" cy="328.4" r="8.7" fill="none" stroke="#e6dede" stroke-width="0.7" opacity="0.75"/>
<circle cx="54.1" cy="393" r="9.2" fill="#000" stroke="none" stroke-width="1"/>
<circle cx="54.4" cy="393.3" r="4.6" fill="#000" stroke="none" stroke-width="1"/>
<path d="M52.2 393.3 L59 393.3" fill="none" stroke="#118ed9" stroke-width="3.2" stroke-linecap="butt" stroke-linejoin="miter"/>
<circle cx="54.4" cy="393.3" r="6.6" fill="none" stroke="#3dbb80" stroke-width="4.2" opacity="0.88"/>
<circle cx="54.4" cy="393.3" r="6.6" fill="none" stroke="url(#hx)" stroke-width="4.2"/>
<circle cx="54.4" cy="393.3" r="8.7" fill="none" stroke="#e6dede" stroke-width="0.7" opacity="0.75"/>
<circle cx="96" cy="393" r="9.2" fill="#000" stroke="none" stroke-width="1"/>
<circle cx="96.3" cy="393.3" r="4.6" fill="#000" stroke="none" stroke-width="1"/>
<path d="M94.1 393.3 L100.9 393.3" fill="none" stroke="#118ed9" stroke-width="3.2" stroke-linecap="butt" stroke-linejoin="miter"/>
<circle cx="96.3" cy="393.3" r="6.6" fill="none" stroke="#3dbb80" stroke-width="4.2" opacity="0.88"/>
<circle cx="96.3" cy="393.3" r="6.6" fill="none" stroke="url(#hx)" stroke-width="4.2"/>
<circle cx="96.3" cy="393.3" r="8.7" fill="none" stroke="#e6dede" stroke-width="0.7" opacity="0.75"/>
<circle cx="183" cy="124.5" r="7.6" fill="#000" stroke="none" stroke-width="1"/>
<circle cx="183.3" cy="124.8" r="3.6" fill="#000" stroke="none" stroke-width="1"/>
<path d="M183.3 124.8 L188.3 129.8" fill="none" stroke="#2a84c8" stroke-width="2.6" stroke-linecap="round" stroke-linejoin="miter"/>
<path d="M180.7 124.8 L182.5 124.8" fill="none" stroke="#c8b428" stroke-width="0.9" stroke-linecap="butt" stroke-linejoin="miter"/>
<path d="M183.3 122.2 L183.3 124" fill="none" stroke="#c8b428" stroke-width="0.9" stroke-linecap="butt" stroke-linejoin="miter"/>
<circle cx="183.3" cy="124.8" r="5" fill="none" stroke="#3dbb80" stroke-width="3.2" opacity="0.9"/>
<circle cx="183.3" cy="124.8" r="5" fill="none" stroke="url(#hx)" stroke-width="3.2"/>
<circle cx="183.3" cy="124.8" r="6.9" fill="none" stroke="#e6dede" stroke-width="0.7" opacity="0.75"/>
<circle cx="289.9" cy="124.5" r="7.6" fill="#000" stroke="none" stroke-width="1"/>
<circle cx="290.2" cy="124.8" r="3.6" fill="#000" stroke="none" stroke-width="1"/>
<path d="M290.2 124.8 L285.2 129.8" fill="none" stroke="#2a84c8" stroke-width="2.6" stroke-linecap="round" stroke-linejoin="miter"/>
<path d="M287.6 124.8 L289.4 124.8" fill="none" stroke="#c8b428" stroke-width="0.9" stroke-linecap="butt" stroke-linejoin="miter"/>
<path d="M290.2 122.2 L290.2 124" fill="none" stroke="#c8b428" stroke-width="0.9" stroke-linecap="butt" stroke-linejoin="miter"/>
<circle cx="290.2" cy="124.8" r="5" fill="none" stroke="#3dbb80" stroke-width="3.2" opacity="0.9"/>
<circle cx="290.2" cy="124.8" r="5" fill="none" stroke="url(#hx)" stroke-width="3.2"/>
<circle cx="290.2" cy="124.8" r="6.9" fill="none" stroke="#e6dede" stroke-width="0.7" opacity="0.75"/>
<circle cx="183.1" cy="210.1" r="7.6" fill="#000" stroke="none" stroke-width="1"/>
<circle cx="183.4" cy="210.4" r="3.6" fill="#000" stroke="none" stroke-width="1"/>
<path d="M183.4 210.4 L188.4 205.4" fill="none" stroke="#2a84c8" stroke-width="2.6" stroke-linecap="round" stroke-linejoin="miter"/>
<path d="M180.8 210.4 L182.6 210.4" fill="none" stroke="#c8b428" stroke-width="0.9" stroke-linecap="butt" stroke-linejoin="miter"/>
<path d="M183.4 207.8 L183.4 209.6" fill="none" stroke="#c8b428" stroke-width="0.9" stroke-linecap="butt" stroke-linejoin="miter"/>
<circle cx="183.4" cy="210.4" r="5" fill="none" stroke="#3dbb80" stroke-width="3.2" opacity="0.9"/>
<circle cx="183.4" cy="210.4" r="5" fill="none" stroke="url(#hx)" stroke-width="3.2"/>
<circle cx="183.4" cy="210.4" r="6.9" fill="none" stroke="#e6dede" stroke-width="0.7" opacity="0.75"/>
<circle cx="289.9" cy="210.1" r="7.6" fill="#000" stroke="none" stroke-width="1"/>
<circle cx="290.2" cy="210.4" r="3.6" fill="#000" stroke="none" stroke-width="1"/>
<path d="M290.2 210.4 L285.2 205.4" fill="none" stroke="#2a84c8" stroke-width="2.6" stroke-linecap="round" stroke-linejoin="miter"/>
<path d="M287.6 210.4 L289.4 210.4" fill="none" stroke="#c8b428" stroke-width="0.9" stroke-linecap="butt" stroke-linejoin="miter"/>
<path d="M290.2 207.8 L290.2 209.6" fill="none" stroke="#c8b428" stroke-width="0.9" stroke-linecap="butt" stroke-linejoin="miter"/>
<circle cx="290.2" cy="210.4" r="5" fill="none" stroke="#3dbb80" stroke-width="3.2" opacity="0.9"/>
<circle cx="290.2" cy="210.4" r="5" fill="none" stroke="url(#hx)" stroke-width="3.2"/>
<circle cx="290.2" cy="210.4" r="6.9" fill="none" stroke="#e6dede" stroke-width="0.7" opacity="0.75"/>
<circle cx="238.4" cy="263.9" r="7.6" fill="#000" stroke="none" stroke-width="1"/>
<circle cx="238.7" cy="264.2" r="3.6" fill="#000" stroke="none" stroke-width="1"/>
<path d="M236.1 264.2 L237.9 264.2" fill="none" stroke="#c8b428" stroke-width="0.9" stroke-linecap="butt" stroke-linejoin="miter"/>
<path d="M238.7 261.6 L238.7 263.4" fill="none" stroke="#c8b428" stroke-width="0.9" stroke-linecap="butt" stroke-linejoin="miter"/>
<circle cx="238.7" cy="264.2" r="1.6" fill="#b01414" stroke="none" stroke-width="1"/>
<circle cx="238.7" cy="264.2" r="5" fill="none" stroke="#3dbb80" stroke-width="3.2" opacity="0.9"/>
<circle cx="238.7" cy="264.2" r="5" fill="none" stroke="url(#hx)" stroke-width="3.2"/>
<circle cx="238.7" cy="264.2" r="6.9" fill="none" stroke="#e6dede" stroke-width="0.7" opacity="0.75"/>
<circle cx="183" cy="318.1" r="7.6" fill="#000" stroke="none" stroke-width="1"/>
<circle cx="183.3" cy="318.4" r="3.6" fill="#000" stroke="none" stroke-width="1"/>
<path d="M183.3 318.4 L188.3 323.4" fill="none" stroke="#2a84c8" stroke-width="2.6" stroke-linecap="round" stroke-linejoin="miter"/>
<path d="M180.7 318.4 L182.5 318.4" fill="none" stroke="#c8b428" stroke-width="0.9" stroke-linecap="butt" stroke-linejoin="miter"/>
<path d="M183.3 315.8 L183.3 317.6" fill="none" stroke="#c8b428" stroke-width="0.9" stroke-linecap="butt" stroke-linejoin="miter"/>
<circle cx="183.3" cy="318.4" r="5" fill="none" stroke="#3dbb80" stroke-width="3.2" opacity="0.9"/>
<circle cx="183.3" cy="318.4" r="5" fill="none" stroke="url(#hx)" stroke-width="3.2"/>
<circle cx="183.3" cy="318.4" r="6.9" fill="none" stroke="#e6dede" stroke-width="0.7" opacity="0.75"/>
<circle cx="289.9" cy="318.1" r="7.6" fill="#000" stroke="none" stroke-width="1"/>
<circle cx="290.2" cy="318.4" r="3.6" fill="#000" stroke="none" stroke-width="1"/>
<path d="M290.2 318.4 L285.2 323.4" fill="none" stroke="#2a84c8" stroke-width="2.6" stroke-linecap="round" stroke-linejoin="miter"/>
<path d="M287.6 318.4 L289.4 318.4" fill="none" stroke="#c8b428" stroke-width="0.9" stroke-linecap="butt" stroke-linejoin="miter"/>
<path d="M290.2 315.8 L290.2 317.6" fill="none" stroke="#c8b428" stroke-width="0.9" stroke-linecap="butt" stroke-linejoin="miter"/>
<circle cx="290.2" cy="318.4" r="5" fill="none" stroke="#3dbb80" stroke-width="3.2" opacity="0.9"/>
<circle cx="290.2" cy="318.4" r="5" fill="none" stroke="url(#hx)" stroke-width="3.2"/>
<circle cx="290.2" cy="318.4" r="6.9" fill="none" stroke="#e6dede" stroke-width="0.7" opacity="0.75"/>
<circle cx="183" cy="403.3" r="7.6" fill="#000" stroke="none" stroke-width="1"/>
<circle cx="183.3" cy="403.6" r="3.6" fill="#000" stroke="none" stroke-width="1"/>
<path d="M183.3 403.6 L188.3 398.6" fill="none" stroke="#2a84c8" stroke-width="2.6" stroke-linecap="round" stroke-linejoin="miter"/>
<path d="M180.7 403.6 L182.5 403.6" fill="none" stroke="#c8b428" stroke-width="0.9" stroke-linecap="butt" stroke-linejoin="miter"/>
<path d="M183.3 401 L183.3 402.8" fill="none" stroke="#c8b428" stroke-width="0.9" stroke-linecap="butt" stroke-linejoin="miter"/>
<circle cx="183.3" cy="403.6" r="5" fill="none" stroke="#3dbb80" stroke-width="3.2" opacity="0.9"/>
<circle cx="183.3" cy="403.6" r="5" fill="none" stroke="url(#hx)" stroke-width="3.2"/>
<circle cx="183.3" cy="403.6" r="6.9" fill="none" stroke="#e6dede" stroke-width="0.7" opacity="0.75"/>
<circle cx="289.9" cy="403.3" r="7.6" fill="#000" stroke="none" stroke-width="1"/>
<circle cx="290.2" cy="403.6" r="3.6" fill="#000" stroke="none" stroke-width="1"/>
<path d="M290.2 403.6 L285.2 398.6" fill="none" stroke="#2a84c8" stroke-width="2.6" stroke-linecap="round" stroke-linejoin="miter"/>
<path d="M287.6 403.6 L289.4 403.6" fill="none" stroke="#c8b428" stroke-width="0.9" stroke-linecap="butt" stroke-linejoin="miter"/>
<path d="M290.2 401 L290.2 402.8" fill="none" stroke="#c8b428" stroke-width="0.9" stroke-linecap="butt" stroke-linejoin="miter"/>
<circle cx="290.2" cy="403.6" r="5" fill="none" stroke="#3dbb80" stroke-width="3.2" opacity="0.9"/>
<circle cx="290.2" cy="403.6" r="5" fill="none" stroke="url(#hx)" stroke-width="3.2"/>
<circle cx="290.2" cy="403.6" r="6.9" fill="none" stroke="#e6dede" stroke-width="0.7" opacity="0.75"/>
<circle cx="289.9" cy="424.6" r="7.6" fill="#000" stroke="none" stroke-width="1"/>
<circle cx="290.2" cy="424.9" r="3.6" fill="#000" stroke="none" stroke-width="1"/>
<path d="M290.2 424.9 L284.2 418.9" fill="none" stroke="#2a84c8" stroke-width="2.6" stroke-linecap="round" stroke-linejoin="miter"/>
<path d="M290.2 424.9 L298.2 424.9" fill="none" stroke="#2a84c8" stroke-width="2.6" stroke-linecap="round" stroke-linejoin="miter"/>
<path d="M287.6 424.9 L289.4 424.9" fill="none" stroke="#c8b428" stroke-width="0.9" stroke-linecap="butt" stroke-linejoin="miter"/>
<path d="M290.2 422.3 L290.2 424.1" fill="none" stroke="#c8b428" stroke-width="0.9" stroke-linecap="butt" stroke-linejoin="miter"/>
<circle cx="290.2" cy="424.9" r="5" fill="none" stroke="#3dbb80" stroke-width="3.2" opacity="0.9"/>
<circle cx="290.2" cy="424.9" r="5" fill="none" stroke="url(#hx)" stroke-width="3.2"/>
<circle cx="290.2" cy="424.9" r="6.9" fill="none" stroke="#e6dede" stroke-width="0.7" opacity="0.75"/>
<circle cx="455.4" cy="223.3" r="7.6" fill="#000" stroke="none" stroke-width="1"/>
<circle cx="455.7" cy="223.6" r="3.6" fill="#000" stroke="none" stroke-width="1"/>
<path d="M455.7 223.6 L455.7 231.6" fill="none" stroke="#2a84c8" stroke-width="2.6" stroke-linecap="round" stroke-linejoin="miter"/>
<path d="M453.1 223.6 L454.9 223.6" fill="none" stroke="#c8b428" stroke-width="0.9" stroke-linecap="butt" stroke-linejoin="miter"/>
<path d="M455.7 221 L455.7 222.8" fill="none" stroke="#c8b428" stroke-width="0.9" stroke-linecap="butt" stroke-linejoin="miter"/>
<circle cx="455.7" cy="223.6" r="5" fill="none" stroke="#3dbb80" stroke-width="3.2" opacity="0.9"/>
<circle cx="455.7" cy="223.6" r="5" fill="none" stroke="url(#hx)" stroke-width="3.2"/>
<circle cx="455.7" cy="223.6" r="6.9" fill="none" stroke="#e6dede" stroke-width="0.7" opacity="0.75"/>
<circle cx="455.4" cy="303" r="7.6" fill="#000" stroke="none" stroke-width="1"/>
<circle cx="455.7" cy="303.3" r="3.6" fill="#000" stroke="none" stroke-width="1"/>
<path d="M455.7 303.3 L455.7 295.3" fill="none" stroke="#2a84c8" stroke-width="2.6" stroke-linecap="round" stroke-linejoin="miter"/>
<path d="M453.1 303.3 L454.9 303.3" fill="none" stroke="#c8b428" stroke-width="0.9" stroke-linecap="butt" stroke-linejoin="miter"/>
<path d="M455.7 300.7 L455.7 302.5" fill="none" stroke="#c8b428" stroke-width="0.9" stroke-linecap="butt" stroke-linejoin="miter"/>
<circle cx="455.7" cy="303.3" r="5" fill="none" stroke="#3dbb80" stroke-width="3.2" opacity="0.9"/>
<circle cx="455.7" cy="303.3" r="5" fill="none" stroke="url(#hx)" stroke-width="3.2"/>
<circle cx="455.7" cy="303.3" r="6.9" fill="none" stroke="#e6dede" stroke-width="0.7" opacity="0.75"/>
<circle cx="580.2" cy="180.5" r="7.6" fill="#000" stroke="none" stroke-width="1"/>
<circle cx="580.5" cy="180.8" r="3.6" fill="#000" stroke="none" stroke-width="1"/>
<path d="M580.5 180.8 L572.5 180.8" fill="none" stroke="#2a84c8" stroke-width="2.6" stroke-linecap="round" stroke-linejoin="miter"/>
<path d="M577.9 180.8 L579.7 180.8" fill="none" stroke="#c8b428" stroke-width="0.9" stroke-linecap="butt" stroke-linejoin="miter"/>
<path d="M580.5 178.2 L580.5 180" fill="none" stroke="#c8b428" stroke-width="0.9" stroke-linecap="butt" stroke-linejoin="miter"/>
<circle cx="580.5" cy="180.8" r="5" fill="none" stroke="#3dbb80" stroke-width="3.2" opacity="0.9"/>
<circle cx="580.5" cy="180.8" r="5" fill="none" stroke="url(#hx)" stroke-width="3.2"/>
<circle cx="580.5" cy="180.8" r="6.9" fill="none" stroke="#e6dede" stroke-width="0.7" opacity="0.75"/>
<rect x="441.7" y="245" width="27.6" height="16.8" fill="#000" stroke="none" stroke-width="1" rx="8.4"/>
<rect x="443.1" y="246.2" width="24.8" height="14.4" fill="#48cc90" stroke="none" stroke-width="1" rx="7.2" opacity="0.95"/>
<rect x="443.1" y="246.2" width="24.8" height="14.4" fill="url(#hx)" stroke="none" stroke-width="1" rx="7.2"/>
<rect x="442.6" y="245.8" width="26.2" height="15.6" fill="none" stroke="#e6dede" stroke-width="0.6" rx="7.6" opacity="0.7"/>
<circle cx="455.5" cy="253.4" r="2.2" fill="#118ed9" stroke="none" stroke-width="1"/>
<rect x="441.7" y="267.1" width="27.6" height="16.8" fill="#000" stroke="none" stroke-width="1" rx="8.4"/>
<rect x="443.1" y="268.3" width="24.8" height="14.4" fill="#48cc90" stroke="none" stroke-width="1" rx="7.2" opacity="0.95"/>
<rect x="443.1" y="268.3" width="24.8" height="14.4" fill="url(#hx)" stroke="none" stroke-width="1" rx="7.2"/>
<rect x="442.6" y="267.9" width="26.2" height="15.6" fill="none" stroke="#e6dede" stroke-width="0.6" rx="7.6" opacity="0.7"/>
<circle cx="455.5" cy="275.5" r="2.2" fill="#118ed9" stroke="none" stroke-width="1"/>
<circle cx="299.5" cy="114.4" r="3.9" fill="#4fba88" stroke="none" stroke-width="1"/>
<polygon points="303.6,114.4 302.4,117.3 299.5,118.5 296.6,117.3 295.4,114.4 296.6,111.5 299.5,110.31 302.4,111.5" fill="none" stroke="#e6dede" stroke-width="0.6" opacity="0.8"/>
<rect x="297.3" y="113.3" width="4.4" height="2.2" fill="#bfe0cf" stroke="none" stroke-width="1"/>
<circle cx="326.5" cy="114.4" r="3.9" fill="#4fba88" stroke="none" stroke-width="1"/>
<polygon points="330.6,114.4 329.4,117.3 326.5,118.5 323.6,117.3 322.4,114.4 323.6,111.5 326.5,110.31 329.4,111.5" fill="none" stroke="#e6dede" stroke-width="0.6" opacity="0.8"/>
<rect x="324.3" y="113.3" width="4.4" height="2.2" fill="#bfe0cf" stroke="none" stroke-width="1"/>
<circle cx="354.4" cy="114.4" r="3.9" fill="#4fba88" stroke="none" stroke-width="1"/>
<polygon points="358.5,114.4 357.3,117.3 354.4,118.5 351.5,117.3 350.3,114.4 351.5,111.5 354.4,110.31 357.3,111.5" fill="none" stroke="#e6dede" stroke-width="0.6" opacity="0.8"/>
<rect x="352.2" y="113.3" width="4.4" height="2.2" fill="#bfe0cf" stroke="none" stroke-width="1"/>
<circle cx="389.3" cy="234.5" r="3.9" fill="#4fba88" stroke="none" stroke-width="1"/>
<polygon points="393.4,234.5 392.2,237.4 389.3,238.59 386.4,237.4 385.2,234.5 386.4,231.6 389.3,230.41 392.2,231.6" fill="none" stroke="#e6dede" stroke-width="0.6" opacity="0.8"/>
<rect x="387.1" y="233.4" width="4.4" height="2.2" fill="#bfe0cf" stroke="none" stroke-width="1"/>
<circle cx="432.4" cy="281.5" r="3.9" fill="#4fba88" stroke="none" stroke-width="1"/>
<polygon points="436.5,281.5 435.3,284.4 432.4,285.6 429.5,284.4 428.3,281.5 429.5,278.6 432.4,277.4 435.3,278.6" fill="none" stroke="#e6dede" stroke-width="0.6" opacity="0.8"/>
<rect x="430.2" y="280.4" width="4.4" height="2.2" fill="#bfe0cf" stroke="none" stroke-width="1"/>
<circle cx="189.1" cy="433.5" r="3.9" fill="#4fba88" stroke="none" stroke-width="1"/>
<polygon points="193.19,433.5 192,436.4 189.1,437.6 186.2,436.4 185,433.5 186.2,430.6 189.1,429.4 192,430.6" fill="none" stroke="#e6dede" stroke-width="0.6" opacity="0.8"/>
<rect x="186.9" y="432.4" width="4.4" height="2.2" fill="#bfe0cf" stroke="none" stroke-width="1"/>
<circle cx="314.1" cy="459.6" r="3.9" fill="#4fba88" stroke="none" stroke-width="1"/>
<polygon points="318.2,459.6 317,462.5 314.1,463.7 311.2,462.5 310,459.6 311.2,456.7 314.1,455.5 317,456.7" fill="none" stroke="#e6dede" stroke-width="0.6" opacity="0.8"/>
<rect x="311.9" y="458.5" width="4.4" height="2.2" fill="#bfe0cf" stroke="none" stroke-width="1"/>
<circle cx="344.3" cy="461.6" r="3.9" fill="#4fba88" stroke="none" stroke-width="1"/>
<polygon points="348.4,461.6 347.2,464.5 344.3,465.7 341.4,464.5 340.2,461.6 341.4,458.7 344.3,457.5 347.2,458.7" fill="none" stroke="#e6dede" stroke-width="0.6" opacity="0.8"/>
<rect x="342.1" y="460.5" width="4.4" height="2.2" fill="#bfe0cf" stroke="none" stroke-width="1"/>
<path d="M537.11 198.9 L537.11 210.4" fill="none" stroke="#35c6a2" stroke-width="3.2" stroke-linecap="butt" stroke-linejoin="miter" opacity="0.85"/>
<circle cx="537.11" cy="210.4" r="2.2" fill="#000" stroke="none" stroke-width="1"/>
<circle cx="537.11" cy="210.4" r="1.9" fill="#b01414" stroke="none" stroke-width="1"/>
<circle cx="537.11" cy="209.6" r="1.2" fill="#2a84c8" stroke="none" stroke-width="1"/>
<path d="M558.62 198.9 L558.62 221.9" fill="none" stroke="#35c6a2" stroke-width="3.2" stroke-linecap="butt" stroke-linejoin="miter" opacity="0.85"/>
<circle cx="558.62" cy="210.4" r="2.2" fill="#000" stroke="none" stroke-width="1"/>
<circle cx="558.62" cy="210.4" r="1.9" fill="#2a84c8" stroke="none" stroke-width="1"/>
<path d="M601.64 328.1 L601.64 339.6" fill="none" stroke="#35c6a2" stroke-width="3.2" stroke-linecap="butt" stroke-linejoin="miter" opacity="0.85"/>
<circle cx="601.64" cy="339.6" r="2.2" fill="#000" stroke="none" stroke-width="1"/>
<circle cx="601.64" cy="339.6" r="1.9" fill="#2a84c8" stroke="none" stroke-width="1"/>
<path d="M623.15 328.1 L623.15 339.6" fill="none" stroke="#35c6a2" stroke-width="3.2" stroke-linecap="butt" stroke-linejoin="miter" opacity="0.85"/>
<circle cx="623.15" cy="339.6" r="2.2" fill="#000" stroke="none" stroke-width="1"/>
<circle cx="623.15" cy="339.6" r="1.9" fill="#2a84c8" stroke="none" stroke-width="1"/>
<path d="M730.7 339.6 L730.7 351.1" fill="none" stroke="#35c6a2" stroke-width="3.2" stroke-linecap="butt" stroke-linejoin="miter" opacity="0.85"/>
<circle cx="730.7" cy="339.6" r="2.2" fill="#000" stroke="none" stroke-width="1"/>
<circle cx="730.7" cy="339.6" r="1.9" fill="#2a84c8" stroke="none" stroke-width="1"/>
<path d="M730.7 391 L730.7 402.6" fill="none" stroke="#35c6a2" stroke-width="3.2" stroke-linecap="butt" stroke-linejoin="miter" opacity="0.85"/>
<circle cx="730.7" cy="403.6" r="0.1" fill="#000" stroke="none" stroke-width="1"/>
<circle cx="730.7" cy="403.6" r="-0.2" fill="none" stroke="none" stroke-width="1"/>
<circle cx="730.7" cy="404.2" r="2.5" fill="#b8b4b8" stroke="none" stroke-width="1"/>
<circle cx="730.7" cy="403" r="1.7" fill="#2a84c8" stroke="none" stroke-width="1"/>
<path d="M752.21 339.6 L752.21 351.1" fill="none" stroke="#35c6a2" stroke-width="3.2" stroke-linecap="butt" stroke-linejoin="miter" opacity="0.85"/>
<circle cx="752.21" cy="339.6" r="2.2" fill="#000" stroke="none" stroke-width="1"/>
<circle cx="752.21" cy="339.6" r="1.9" fill="#2a84c8" stroke="none" stroke-width="1"/>
<path d="M752.21 391 L752.21 402.6" fill="none" stroke="#35c6a2" stroke-width="3.2" stroke-linecap="butt" stroke-linejoin="miter" opacity="0.85"/>
<circle cx="752.21" cy="403.6" r="0.1" fill="#000" stroke="none" stroke-width="1"/>
<circle cx="752.21" cy="403.6" r="-0.2" fill="none" stroke="none" stroke-width="1"/>
<circle cx="752.21" cy="404.2" r="2.5" fill="#b8b4b8" stroke="none" stroke-width="1"/>
<circle cx="752.21" cy="403" r="1.7" fill="#2a84c8" stroke="none" stroke-width="1"/>
<path d="M773.72 339.6 L773.72 351.1" fill="none" stroke="#35c6a2" stroke-width="3.2" stroke-linecap="butt" stroke-linejoin="miter" opacity="0.85"/>
<circle cx="773.72" cy="339.6" r="2.2" fill="#000" stroke="none" stroke-width="1"/>
<circle cx="773.72" cy="339.6" r="1.9" fill="#2a84c8" stroke="none" stroke-width="1"/>
<path d="M773.72 391 L773.72 402.6" fill="none" stroke="#35c6a2" stroke-width="3.2" stroke-linecap="butt" stroke-linejoin="miter" opacity="0.85"/>
<circle cx="773.72" cy="403.6" r="0.1" fill="#000" stroke="none" stroke-width="1"/>
<circle cx="773.72" cy="403.6" r="-0.2" fill="none" stroke="none" stroke-width="1"/>
<circle cx="773.72" cy="404.2" r="2.5" fill="#b8b4b8" stroke="none" stroke-width="1"/>
<circle cx="773.72" cy="403" r="1.7" fill="#2a84c8" stroke="none" stroke-width="1"/>
<path d="M795.23 339.6 L795.23 351.1" fill="none" stroke="#35c6a2" stroke-width="3.2" stroke-linecap="butt" stroke-linejoin="miter" opacity="0.85"/>
<circle cx="795.23" cy="339.6" r="2.2" fill="#000" stroke="none" stroke-width="1"/>
<circle cx="795.23" cy="339.6" r="1.9" fill="#2a84c8" stroke="none" stroke-width="1"/>
<path d="M795.23 391 L795.23 402.6" fill="none" stroke="#35c6a2" stroke-width="3.2" stroke-linecap="butt" stroke-linejoin="miter" opacity="0.85"/>
<circle cx="795.23" cy="403.6" r="0.1" fill="#000" stroke="none" stroke-width="1"/>
<circle cx="795.23" cy="403.6" r="-0.2" fill="none" stroke="none" stroke-width="1"/>
<circle cx="795.23" cy="404.2" r="2.5" fill="#b8b4b8" stroke="none" stroke-width="1"/>
<circle cx="795.23" cy="403" r="1.7" fill="#2a84c8" stroke="none" stroke-width="1"/>
<path d="M816.74 339.6 L816.74 351.1" fill="none" stroke="#35c6a2" stroke-width="3.2" stroke-linecap="butt" stroke-linejoin="miter" opacity="0.85"/>
<circle cx="816.74" cy="339.6" r="2.2" fill="#000" stroke="none" stroke-width="1"/>
<circle cx="816.74" cy="339.6" r="1.9" fill="#2a84c8" stroke="none" stroke-width="1"/>
<path d="M816.74 391 L816.74 402.6" fill="none" stroke="#35c6a2" stroke-width="3.2" stroke-linecap="butt" stroke-linejoin="miter" opacity="0.85"/>
<circle cx="816.74" cy="403.6" r="0.1" fill="#000" stroke="none" stroke-width="1"/>
<circle cx="816.74" cy="403.6" r="-0.2" fill="none" stroke="none" stroke-width="1"/>
<circle cx="816.74" cy="404.2" r="2.5" fill="#b8b4b8" stroke="none" stroke-width="1"/>
<circle cx="816.74" cy="403" r="1.7" fill="#2a84c8" stroke="none" stroke-width="1"/>
<path d="M838.25 339.6 L838.25 351.1" fill="none" stroke="#35c6a2" stroke-width="3.2" stroke-linecap="butt" stroke-linejoin="miter" opacity="0.85"/>
<circle cx="838.25" cy="339.6" r="2.2" fill="#000" stroke="none" stroke-width="1"/>
<circle cx="838.25" cy="339.6" r="1.9" fill="#2a84c8" stroke="none" stroke-width="1"/>
<path d="M838.25 391 L838.25 402.6" fill="none" stroke="#35c6a2" stroke-width="3.2" stroke-linecap="butt" stroke-linejoin="miter" opacity="0.85"/>
<circle cx="838.25" cy="403.6" r="0.1" fill="#000" stroke="none" stroke-width="1"/>
<circle cx="838.25" cy="403.6" r="-0.2" fill="none" stroke="none" stroke-width="1"/>
<circle cx="838.25" cy="404.2" r="2.5" fill="#b8b4b8" stroke="none" stroke-width="1"/>
<circle cx="838.25" cy="403" r="1.7" fill="#2a84c8" stroke="none" stroke-width="1"/>
<path d="M859.76 339.6 L859.76 351.1" fill="none" stroke="#35c6a2" stroke-width="3.2" stroke-linecap="butt" stroke-linejoin="miter" opacity="0.85"/>
<circle cx="859.76" cy="339.6" r="2.2" fill="#000" stroke="none" stroke-width="1"/>
<circle cx="859.76" cy="339.6" r="1.9" fill="#2a84c8" stroke="none" stroke-width="1"/>
<path d="M859.76 391 L859.76 402.6" fill="none" stroke="#35c6a2" stroke-width="3.2" stroke-linecap="butt" stroke-linejoin="miter" opacity="0.85"/>
<circle cx="859.76" cy="403.6" r="0.1" fill="#000" stroke="none" stroke-width="1"/>
<circle cx="859.76" cy="403.6" r="-0.2" fill="none" stroke="none" stroke-width="1"/>
<circle cx="859.76" cy="404.2" r="2.5" fill="#b8b4b8" stroke="none" stroke-width="1"/>
<circle cx="859.76" cy="403" r="1.7" fill="#2a84c8" stroke="none" stroke-width="1"/>
<path d="M881.27 339.6 L881.27 351.1" fill="none" stroke="#35c6a2" stroke-width="3.2" stroke-linecap="butt" stroke-linejoin="miter" opacity="0.85"/>
<circle cx="881.27" cy="339.6" r="2.2" fill="#000" stroke="none" stroke-width="1"/>
<circle cx="881.27" cy="339.6" r="1.9" fill="#2a84c8" stroke="none" stroke-width="1"/>
<path d="M881.27 391 L881.27 402.6" fill="none" stroke="#35c6a2" stroke-width="3.2" stroke-linecap="butt" stroke-linejoin="miter" opacity="0.85"/>
<circle cx="881.27" cy="403.6" r="0.1" fill="#000" stroke="none" stroke-width="1"/>
<circle cx="881.27" cy="403.6" r="-0.2" fill="none" stroke="none" stroke-width="1"/>
<circle cx="881.27" cy="404.2" r="2.5" fill="#b8b4b8" stroke="none" stroke-width="1"/>
<circle cx="881.27" cy="403" r="1.7" fill="#2a84c8" stroke="none" stroke-width="1"/>
<path d="M58.8 135.4 L63 135.4" fill="none" stroke="#35c6a2" stroke-width="3.2" stroke-linecap="butt" stroke-linejoin="miter" opacity="0.85"/>
<path d="M87.7 135.4 L91.9 135.4" fill="none" stroke="#35c6a2" stroke-width="3.2" stroke-linecap="butt" stroke-linejoin="miter" opacity="0.85"/>
<path d="M100.7 135.4 L104.9 135.4" fill="none" stroke="#35c6a2" stroke-width="3.2" stroke-linecap="butt" stroke-linejoin="miter" opacity="0.85"/>
<path d="M58.8 200.4 L63 200.4" fill="none" stroke="#35c6a2" stroke-width="3.2" stroke-linecap="butt" stroke-linejoin="miter" opacity="0.85"/>
<path d="M87.7 200.4 L91.9 200.4" fill="none" stroke="#35c6a2" stroke-width="3.2" stroke-linecap="butt" stroke-linejoin="miter" opacity="0.85"/>
<path d="M100.7 200.4 L104.9 200.4" fill="none" stroke="#35c6a2" stroke-width="3.2" stroke-linecap="butt" stroke-linejoin="miter" opacity="0.85"/>
<path d="M58.8 328.4 L63 328.4" fill="none" stroke="#35c6a2" stroke-width="3.2" stroke-linecap="butt" stroke-linejoin="miter" opacity="0.85"/>
<path d="M87.7 328.4 L91.9 328.4" fill="none" stroke="#35c6a2" stroke-width="3.2" stroke-linecap="butt" stroke-linejoin="miter" opacity="0.85"/>
<path d="M100.7 328.4 L104.9 328.4" fill="none" stroke="#35c6a2" stroke-width="3.2" stroke-linecap="butt" stroke-linejoin="miter" opacity="0.85"/>
<path d="M58.8 393.3 L63 393.3" fill="none" stroke="#35c6a2" stroke-width="3.2" stroke-linecap="butt" stroke-linejoin="miter" opacity="0.85"/>
<path d="M87.7 393.3 L91.9 393.3" fill="none" stroke="#35c6a2" stroke-width="3.2" stroke-linecap="butt" stroke-linejoin="miter" opacity="0.85"/>
<path d="M100.7 393.3 L104.9 393.3" fill="none" stroke="#35c6a2" stroke-width="3.2" stroke-linecap="butt" stroke-linejoin="miter" opacity="0.85"/>
</g>
<g id="text">
<text x="392.8" y="100.1" font-family='"Liberation Mono", monospace' font-size="21.5" font-weight="normal" fill="#c4bcbc" text-anchor="start" textLength="37.6" lengthAdjust="spacingAndGlyphs" opacity="0.9">PS1</text>
<text x="386" y="120.2" font-family='"Liberation Mono", monospace' font-size="21.5" font-weight="normal" fill="#c4bcbc" text-anchor="start" textLength="54.6" lengthAdjust="spacingAndGlyphs" opacity="0.9">N$19</text>
<text x="553.6" y="98.6" font-family='"Liberation Mono", monospace' font-size="21.5" font-weight="normal" fill="#c4bcbc" text-anchor="start" textLength="37.2" lengthAdjust="spacingAndGlyphs" opacity="0.9">PS1</text>
<text x="548.2" y="118.2" font-family='"Liberation Mono", monospace' font-size="21.5" font-weight="normal" fill="#c4bcbc" text-anchor="start" textLength="53.4" lengthAdjust="spacingAndGlyphs" opacity="0.9">GND</text>
<text x="730.6" y="80.6" font-family='"Liberation Mono", monospace' font-size="12.5" font-weight="normal" fill="#c9c3c3" text-anchor="middle" textLength="25.5" lengthAdjust="spacingAndGlyphs" opacity="0.85">GND</text>
<text x="730.6" y="70" font-family='"Liberation Mono", monospace' font-size="11" font-weight="normal" fill="#c9c3c3" text-anchor="middle" opacity="0.7">2</text>
<text x="688.6" y="106.8" font-family='"Liberation Mono", monospace' font-size="12.5" font-weight="normal" fill="#c9c3c3" text-anchor="middle" textLength="25.5" lengthAdjust="spacingAndGlyphs" opacity="0.85">GND</text>
<text x="688.6" y="96.2" font-family='"Liberation Mono", monospace' font-size="11" font-weight="normal" fill="#c9c3c3" text-anchor="middle" opacity="0.7">3</text>
<text x="730.6" y="131.6" font-family='"Liberation Mono", monospace' font-size="10.5" font-weight="normal" fill="#c9c3c3" text-anchor="middle" textLength="25.5" lengthAdjust="spacingAndGlyphs" opacity="0.85">N$19</text>
<text x="730.6" y="122" font-family='"Liberation Mono", monospace' font-size="10" font-weight="normal" fill="#c9c3c3" text-anchor="middle" opacity="0.7">1</text>
</g>
<g id="top">
<path d="M694.6 403.6 L702.6 403.6" fill="none" stroke="#c3b42a" stroke-width="1" stroke-linecap="butt" stroke-linejoin="miter"/>
<path d="M698.6 399.6 L698.6 407.6" fill="none" stroke="#c3b42a" stroke-width="1" stroke-linecap="butt" stroke-linejoin="miter"/>
<path d="M802 403.6 L810 403.6" fill="none" stroke="#c3b42a" stroke-width="1" stroke-linecap="butt" stroke-linejoin="miter"/>
<path d="M806 399.6 L806 407.6" fill="none" stroke="#c3b42a" stroke-width="1" stroke-linecap="butt" stroke-linejoin="miter"/>
<path d="M484 264.5 L505 264.5" fill="none" stroke="#fff" stroke-width="1" stroke-linecap="butt" stroke-linejoin="miter" stroke-dasharray="1 1" shape-rendering="crispEdges"/>
<path d="M494.5 254 L494.5 276" fill="none" stroke="#fff" stroke-width="1" stroke-linecap="butt" stroke-linejoin="miter" stroke-dasharray="1 1" shape-rendering="crispEdges"/>
<path d="M66.3 168.5 L84.7 168.5" fill="none" stroke="#c3b42a" stroke-width="1" stroke-linecap="butt" stroke-linejoin="miter"/>
<path d="M75.5 159.3 L75.5 177.7" fill="none" stroke="#c3b42a" stroke-width="1" stroke-linecap="butt" stroke-linejoin="miter"/>
<path d="M66.3 360.6 L84.7 360.6" fill="none" stroke="#c3b42a" stroke-width="1" stroke-linecap="butt" stroke-linejoin="miter"/>
<path d="M75.5 351.4 L75.5 369.8" fill="none" stroke="#c3b42a" stroke-width="1" stroke-linecap="butt" stroke-linejoin="miter"/>
<path d="M786.3 275.4 L804.7 275.4" fill="none" stroke="#c3b42a" stroke-width="1" stroke-linecap="butt" stroke-linejoin="miter"/>
<path d="M795.5 266.2 L795.5 284.6" fill="none" stroke="#c3b42a" stroke-width="1" stroke-linecap="butt" stroke-linejoin="miter"/>
</g>
</svg>
</body>
</html>
